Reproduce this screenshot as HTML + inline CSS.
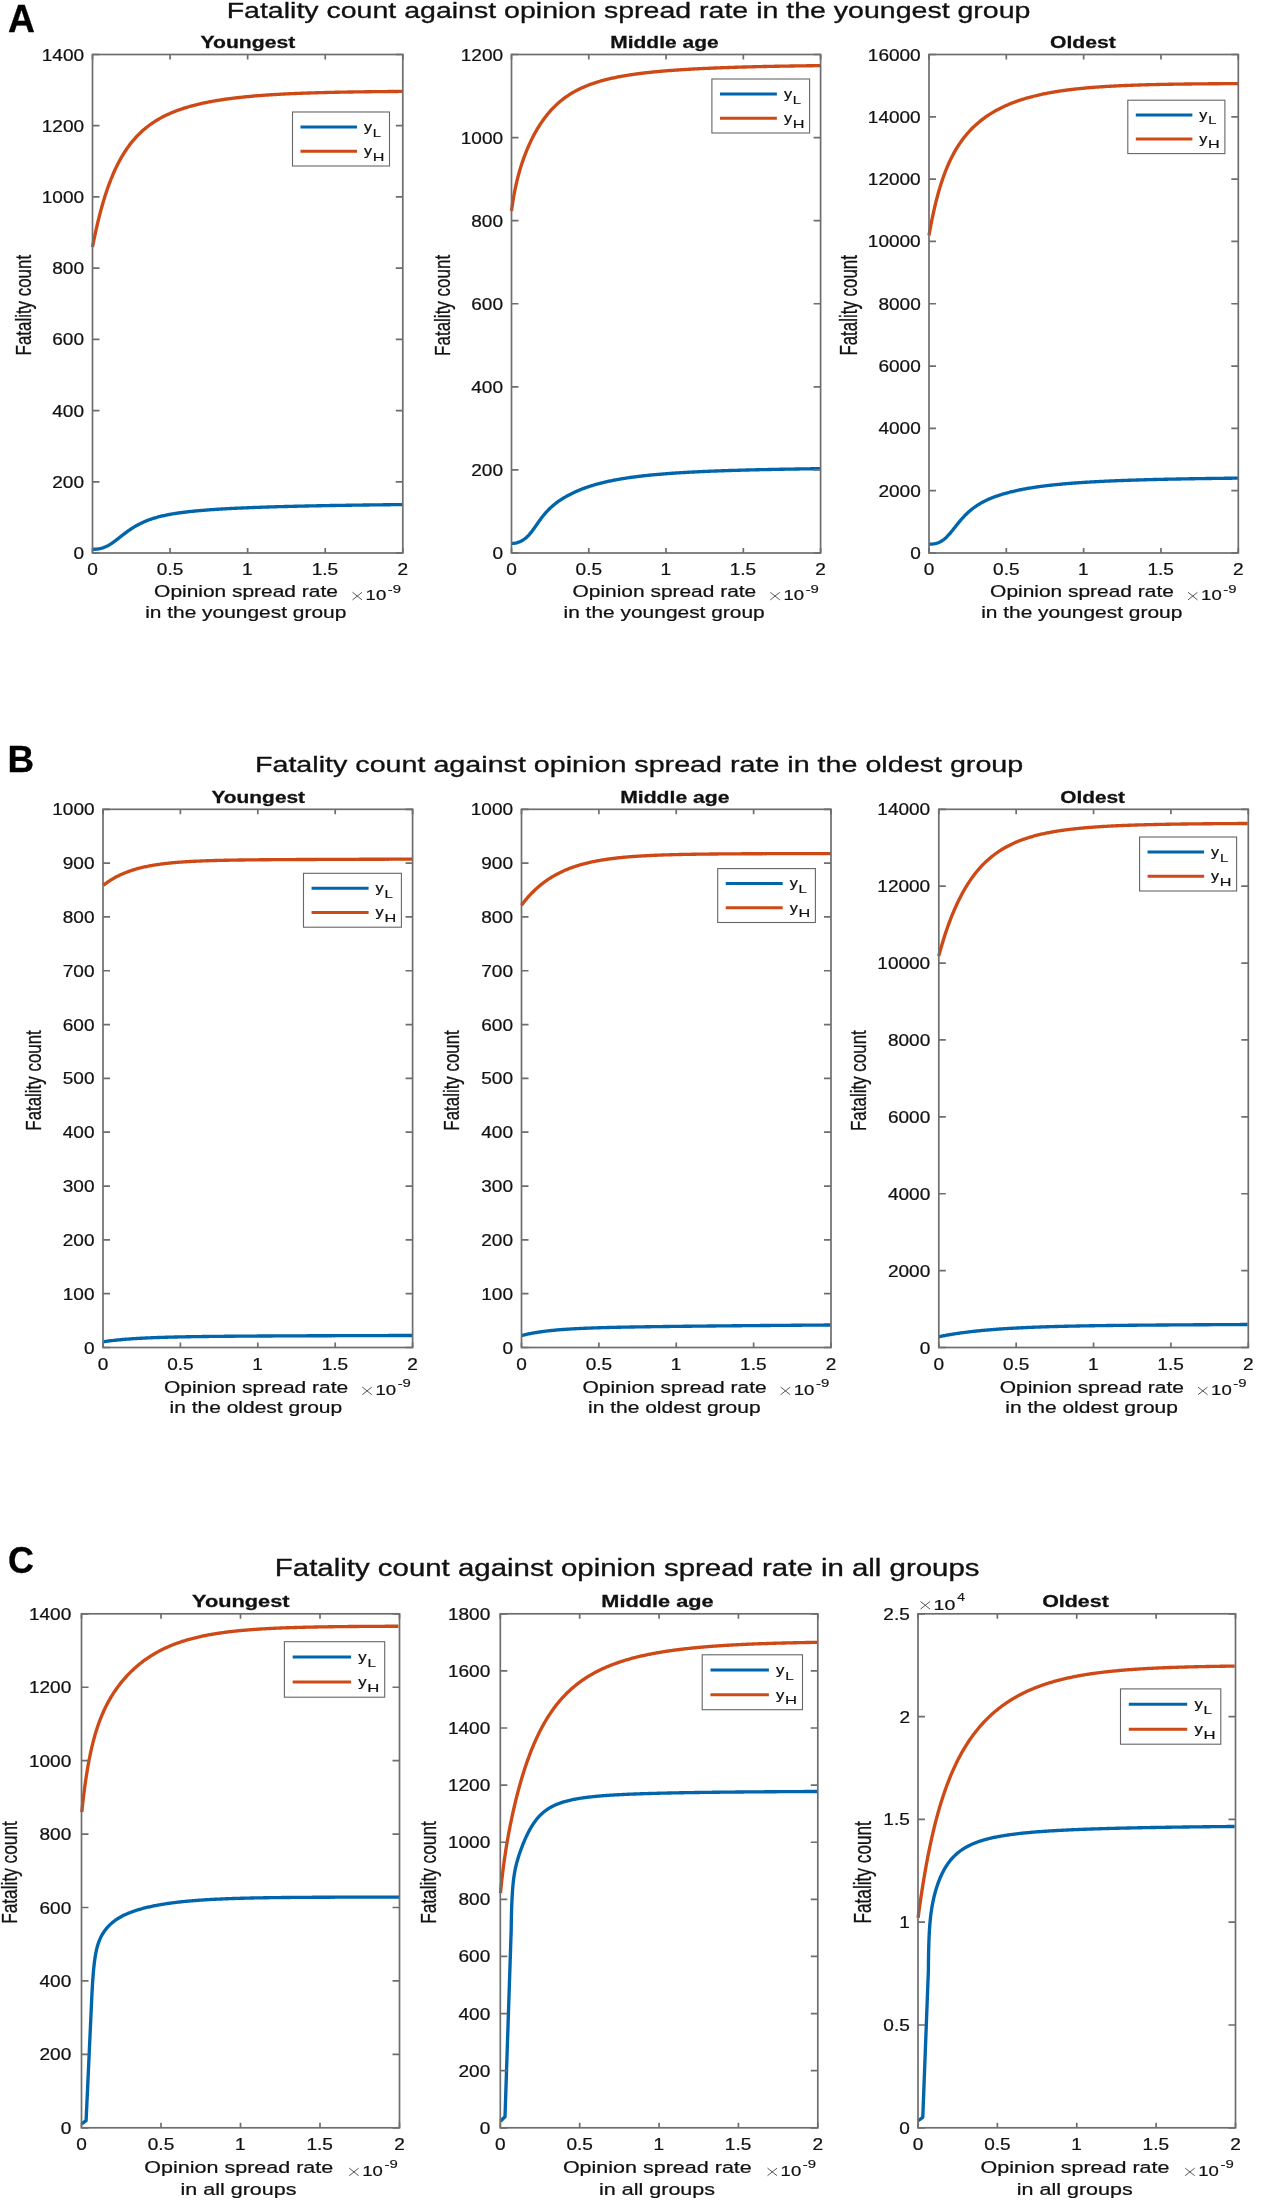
<!DOCTYPE html><html><head><meta charset="utf-8"><style>html,body{margin:0;padding:0;background:#fff;}svg{display:block;will-change:transform;}text{font-family:"Liberation Sans",sans-serif;}</style></head><body>
<svg width="1261" height="2200" viewBox="0 0 1261 2200">
<text transform="translate(8.07,32.40) scale(0.9572,1)" font-size="38.98" font-weight="bold" fill="#000" stroke="#000" stroke-width="0.34">A</text>
<text transform="translate(7.51,772.00) scale(0.9828,1)" font-size="37.53" font-weight="bold" fill="#000" stroke="#000" stroke-width="0.34">B</text>
<text transform="translate(8.06,1572.63) scale(0.9763,1)" font-size="36.75" font-weight="bold" fill="#000" stroke="#000" stroke-width="0.34">C</text>
<text transform="translate(226.65,17.60) scale(1.2574,1)" font-size="22.7" fill="#111" stroke="#111" stroke-width="0.318">Fatality count against opinion spread rate in the youngest group</text>
<text transform="translate(254.93,771.70) scale(1.2692,1)" font-size="22.6" fill="#111" stroke="#111" stroke-width="0.316">Fatality count against opinion spread rate in the oldest group</text>
<text transform="translate(274.87,1576.20) scale(1.2680,1)" font-size="23.2" fill="#111" stroke="#111" stroke-width="0.325">Fatality count against opinion spread rate in all groups</text>
<path d="M92.70,549.30 L93.70,549.28 L94.70,549.24 L95.70,549.18 L96.70,549.09 L97.70,548.97 L98.70,548.82 L99.70,548.64 L100.70,548.42 L101.70,548.16 L102.70,547.86 L103.65,547.54 L104.60,547.18 L105.55,546.78 L106.50,546.34 L107.40,545.90 L108.30,545.42 L109.20,544.91 L110.10,544.37 L110.95,543.84 L111.80,543.28 L112.65,542.71 L113.50,542.11 L114.35,541.50 L115.20,540.87 L116.00,540.27 L116.80,539.66 L117.60,539.05 L118.40,538.42 L119.20,537.80 L120.00,537.17 L120.80,536.54 L121.60,535.91 L122.40,535.29 L123.20,534.67 L124.20,533.89 L125.20,533.13 L126.20,532.38 L127.20,531.65 L128.20,530.93 L129.20,530.22 L130.20,529.53 L131.20,528.86 L132.20,528.20 L133.20,527.57 L134.20,526.95 L135.20,526.35 L136.20,525.77 L137.20,525.21 L138.20,524.66 L139.20,524.14 L140.20,523.63 L141.20,523.14 L142.20,522.66 L143.20,522.21 L144.20,521.76 L145.20,521.34 L146.20,520.92 L147.20,520.53 L148.20,520.14 L149.20,519.77 L150.20,519.42 L151.20,519.07 L152.20,518.74 L153.20,518.42 L154.20,518.11 L155.20,517.81 L156.20,517.52 L157.20,517.24 L158.20,516.97 L159.20,516.71 L160.20,516.46 L161.20,516.21 L162.20,515.97 L163.20,515.75 L164.20,515.52 L165.20,515.31 L166.20,515.10 L167.20,514.90 L168.20,514.70 L169.20,514.51 L170.20,514.33 L171.20,514.15 L172.20,513.97 L173.20,513.80 L174.20,513.64 L175.20,513.48 L176.20,513.32 L177.20,513.17 L178.20,513.03 L179.20,512.88 L180.20,512.74 L181.20,512.61 L182.20,512.47 L183.20,512.34 L184.20,512.22 L185.20,512.09 L186.20,511.97 L187.20,511.86 L188.20,511.74 L189.20,511.63 L190.20,511.52 L191.20,511.41 L192.20,511.31 L193.20,511.21 L194.20,511.11 L195.20,511.01 L196.20,510.91 L197.20,510.82 L198.20,510.73 L199.20,510.64 L200.20,510.55 L201.20,510.46 L202.20,510.38 L203.20,510.30 L204.20,510.22 L205.20,510.14 L206.20,510.06 L207.20,509.98 L208.20,509.91 L209.20,509.83 L210.20,509.76 L211.20,509.69 L212.20,509.62 L213.20,509.55 L214.20,509.48 L215.20,509.41 L216.20,509.35 L217.20,509.29 L218.20,509.22 L219.20,509.16 L220.20,509.10 L221.20,509.04 L222.20,508.98 L223.20,508.92 L224.20,508.86 L225.20,508.81 L226.20,508.75 L227.20,508.70 L228.20,508.64 L229.20,508.59 L230.20,508.54 L231.20,508.49 L232.20,508.44 L233.20,508.39 L234.20,508.34 L235.20,508.29 L236.20,508.24 L237.20,508.19 L238.20,508.15 L239.20,508.10 L240.20,508.06 L241.20,508.01 L242.20,507.97 L243.20,507.92 L244.20,507.88 L245.20,507.84 L246.20,507.80 L247.20,507.76 L248.20,507.72 L249.20,507.68 L250.20,507.64 L251.20,507.60 L252.20,507.56 L253.20,507.52 L254.20,507.48 L255.20,507.45 L256.20,507.41 L257.20,507.37 L258.20,507.34 L259.20,507.30 L260.20,507.27 L261.20,507.23 L262.20,507.20 L263.20,507.16 L264.20,507.13 L265.20,507.10 L266.20,507.06 L267.20,507.03 L268.20,507.00 L269.20,506.97 L270.20,506.94 L271.20,506.91 L272.20,506.88 L273.20,506.85 L274.20,506.82 L275.20,506.79 L276.20,506.76 L277.20,506.73 L278.20,506.70 L279.20,506.67 L280.20,506.64 L281.20,506.62 L282.20,506.59 L283.20,506.56 L284.20,506.53 L285.20,506.51 L286.20,506.48 L287.20,506.46 L288.20,506.43 L289.20,506.40 L290.20,506.38 L291.20,506.35 L292.20,506.33 L293.20,506.31 L294.20,506.28 L295.20,506.26 L296.20,506.23 L297.20,506.21 L298.20,506.19 L299.20,506.16 L300.20,506.14 L301.20,506.12 L302.20,506.10 L303.20,506.07 L304.20,506.05 L305.20,506.03 L306.20,506.01 L307.20,505.99 L308.20,505.97 L309.20,505.94 L310.20,505.92 L311.20,505.90 L312.20,505.88 L313.20,505.86 L314.20,505.84 L315.20,505.82 L316.20,505.80 L317.20,505.78 L318.20,505.76 L319.20,505.74 L320.20,505.73 L321.20,505.71 L322.20,505.69 L323.20,505.67 L324.20,505.65 L325.20,505.63 L326.20,505.61 L327.20,505.60 L328.20,505.58 L329.20,505.56 L330.20,505.54 L331.20,505.53 L332.20,505.51 L333.20,505.49 L334.20,505.48 L335.20,505.46 L336.20,505.44 L337.20,505.43 L338.20,505.41 L339.20,505.39 L340.20,505.38 L341.20,505.36 L342.20,505.35 L343.20,505.33 L344.20,505.31 L345.20,505.30 L346.20,505.28 L347.20,505.27 L348.20,505.25 L349.20,505.24 L350.20,505.22 L351.20,505.21 L352.20,505.19 L353.20,505.18 L354.20,505.17 L355.20,505.15 L356.20,505.14 L357.20,505.12 L358.20,505.11 L359.20,505.10 L360.20,505.08 L361.20,505.07 L362.20,505.05 L363.20,505.04 L364.20,505.03 L365.20,505.01 L366.20,505.00 L367.20,504.99 L368.20,504.98 L369.20,504.96 L370.20,504.95 L371.20,504.94 L372.20,504.92 L373.20,504.91 L374.20,504.90 L375.20,504.89 L376.20,504.88 L377.20,504.86 L378.20,504.85 L379.20,504.84 L380.20,504.83 L381.20,504.82 L382.20,504.80 L383.20,504.79 L384.20,504.78 L385.20,504.77 L386.20,504.76 L387.20,504.75 L388.20,504.74 L389.20,504.72 L390.20,504.71 L391.20,504.70 L392.20,504.69 L393.20,504.68 L394.20,504.67 L395.20,504.66 L396.20,504.65 L397.20,504.64 L398.20,504.63 L399.20,504.62 L400.20,504.61 L401.20,504.60 L402.20,504.59 L402.60,504.58" fill="none" stroke="#0065AB" stroke-width="3.35" stroke-linejoin="round" stroke-linecap="butt"/>
<path d="M92.50,247.01 L92.70,245.98 L92.90,244.96 L93.10,243.95 L93.30,242.94 L93.50,241.95 L93.70,240.96 L93.90,239.98 L94.15,238.77 L94.40,237.57 L94.65,236.38 L94.90,235.20 L95.15,234.03 L95.40,232.88 L95.65,231.74 L95.90,230.61 L96.15,229.49 L96.40,228.38 L96.65,227.28 L96.90,226.19 L97.15,225.12 L97.40,224.05 L97.65,223.00 L97.90,221.95 L98.15,220.92 L98.40,219.89 L98.65,218.88 L98.90,217.88 L99.15,216.88 L99.40,215.90 L99.65,214.92 L99.95,213.77 L100.25,212.62 L100.55,211.49 L100.85,210.37 L101.15,209.27 L101.45,208.18 L101.75,207.10 L102.05,206.04 L102.35,204.98 L102.65,203.94 L102.95,202.91 L103.25,201.89 L103.55,200.89 L103.85,199.89 L104.15,198.91 L104.45,197.94 L104.75,196.98 L105.10,195.87 L105.45,194.78 L105.80,193.70 L106.15,192.64 L106.50,191.59 L106.85,190.55 L107.20,189.53 L107.55,188.52 L107.90,187.52 L108.25,186.54 L108.60,185.57 L108.95,184.62 L109.30,183.67 L109.70,182.61 L110.10,181.56 L110.50,180.52 L110.90,179.50 L111.30,178.50 L111.70,177.51 L112.10,176.54 L112.50,175.57 L112.90,174.63 L113.30,173.69 L113.70,172.77 L114.15,171.76 L114.60,170.75 L115.05,169.77 L115.50,168.80 L115.95,167.84 L116.40,166.90 L116.85,165.97 L117.30,165.06 L117.75,164.17 L118.25,163.19 L118.75,162.23 L119.25,161.28 L119.75,160.35 L120.25,159.44 L120.75,158.54 L121.25,157.66 L121.75,156.79 L122.30,155.85 L123.00,154.68 L124.00,153.06 L125.00,151.49 L126.00,149.98 L127.00,148.51 L128.00,147.09 L129.00,145.71 L130.00,144.38 L131.00,143.09 L132.00,141.85 L133.00,140.64 L134.00,139.46 L135.00,138.33 L136.00,137.23 L137.00,136.16 L138.00,135.12 L139.00,134.11 L140.00,133.14 L141.00,132.19 L142.00,131.27 L143.00,130.37 L144.00,129.50 L145.00,128.66 L146.00,127.84 L147.00,127.04 L148.00,126.26 L149.00,125.51 L150.00,124.77 L151.00,124.06 L152.00,123.36 L153.00,122.69 L154.00,122.03 L155.00,121.38 L156.00,120.76 L157.00,120.15 L158.00,119.55 L159.00,118.98 L160.00,118.41 L161.00,117.86 L162.00,117.32 L163.00,116.80 L164.00,116.29 L165.00,115.79 L166.00,115.30 L167.00,114.83 L168.00,114.36 L169.00,113.91 L170.00,113.47 L171.00,113.03 L172.00,112.61 L173.00,112.20 L174.00,111.80 L175.00,111.40 L176.00,111.01 L177.00,110.64 L178.00,110.27 L179.00,109.91 L180.00,109.56 L181.00,109.21 L182.00,108.87 L183.00,108.54 L184.00,108.22 L185.00,107.90 L186.00,107.59 L187.00,107.29 L188.00,106.99 L189.00,106.70 L190.00,106.41 L191.00,106.14 L192.00,105.86 L193.00,105.59 L194.00,105.33 L195.00,105.07 L196.00,104.82 L197.00,104.57 L198.00,104.33 L199.00,104.09 L200.00,103.86 L201.00,103.63 L202.00,103.41 L203.00,103.19 L204.00,102.97 L205.00,102.76 L206.00,102.56 L207.00,102.35 L208.00,102.15 L209.00,101.96 L210.00,101.77 L211.00,101.58 L212.00,101.39 L213.00,101.21 L214.00,101.04 L215.00,100.86 L216.00,100.69 L217.00,100.52 L218.00,100.36 L219.00,100.19 L220.00,100.04 L221.00,99.88 L222.00,99.73 L223.00,99.58 L224.00,99.43 L225.00,99.28 L226.00,99.14 L227.00,99.00 L228.00,98.86 L229.00,98.73 L230.00,98.60 L231.00,98.47 L232.00,98.34 L233.00,98.21 L234.00,98.09 L235.00,97.97 L236.00,97.85 L237.00,97.73 L238.00,97.62 L239.00,97.51 L240.00,97.40 L241.00,97.29 L242.00,97.18 L243.00,97.08 L244.00,96.97 L245.00,96.87 L246.00,96.77 L247.00,96.67 L248.00,96.58 L249.00,96.48 L250.00,96.39 L251.00,96.30 L252.00,96.21 L253.00,96.12 L254.00,96.04 L255.00,95.95 L256.00,95.87 L257.00,95.79 L258.00,95.70 L259.00,95.63 L260.00,95.55 L261.00,95.47 L262.00,95.40 L263.00,95.32 L264.00,95.25 L265.00,95.18 L266.00,95.11 L267.00,95.04 L268.00,94.97 L269.00,94.90 L270.00,94.84 L271.00,94.77 L272.00,94.71 L273.00,94.65 L274.00,94.59 L275.00,94.53 L276.00,94.47 L277.00,94.41 L278.00,94.35 L279.00,94.30 L280.00,94.24 L281.00,94.19 L282.00,94.13 L283.00,94.08 L284.00,94.03 L285.00,93.98 L286.00,93.93 L287.00,93.88 L288.00,93.83 L289.00,93.79 L290.00,93.74 L291.00,93.69 L292.00,93.65 L293.00,93.60 L294.00,93.56 L295.00,93.52 L296.00,93.48 L297.00,93.43 L298.00,93.39 L299.00,93.35 L300.00,93.32 L301.00,93.28 L302.00,93.24 L303.00,93.20 L304.00,93.17 L305.00,93.13 L306.00,93.09 L307.00,93.06 L308.00,93.02 L309.00,92.99 L310.00,92.96 L311.00,92.93 L312.00,92.89 L313.00,92.86 L314.00,92.83 L315.00,92.80 L316.00,92.77 L317.00,92.74 L318.00,92.71 L319.00,92.68 L320.00,92.66 L321.00,92.63 L322.00,92.60 L323.00,92.58 L324.00,92.55 L325.00,92.52 L326.00,92.50 L327.00,92.47 L328.00,92.45 L329.00,92.43 L330.00,92.40 L331.00,92.38 L332.00,92.36 L333.00,92.33 L334.00,92.31 L335.00,92.29 L336.00,92.27 L337.00,92.25 L338.00,92.23 L339.00,92.21 L340.00,92.19 L341.00,92.17 L342.00,92.15 L343.00,92.13 L344.00,92.11 L345.00,92.09 L346.00,92.07 L347.00,92.06 L348.00,92.04 L349.00,92.02 L350.00,92.01 L351.00,91.99 L352.00,91.97 L353.00,91.96 L354.00,91.94 L355.00,91.93 L356.00,91.91 L357.00,91.90 L358.00,91.88 L359.00,91.87 L360.00,91.85 L361.00,91.84 L362.00,91.83 L363.00,91.81 L364.00,91.80 L365.00,91.79 L366.00,91.77 L367.00,91.76 L368.00,91.75 L369.00,91.74 L370.00,91.72 L371.00,91.71 L372.00,91.70 L373.00,91.69 L374.00,91.68 L375.00,91.67 L376.00,91.66 L377.00,91.65 L378.00,91.63 L379.00,91.62 L380.00,91.61 L381.00,91.60 L382.00,91.59 L383.00,91.59 L384.00,91.58 L385.00,91.57 L386.00,91.56 L387.00,91.55 L388.00,91.54 L389.00,91.53 L390.00,91.52 L391.00,91.51 L392.00,91.51 L393.00,91.50 L394.00,91.49 L395.00,91.48 L396.00,91.47 L397.00,91.47 L398.00,91.46 L399.00,91.45 L400.00,91.44 L401.00,91.44 L402.00,91.43 L402.60,91.43" fill="none" stroke="#CD4A16" stroke-width="3.35" stroke-linejoin="round" stroke-linecap="butt"/>
<rect x="92.5" y="54.5" width="310.30" height="498.50" fill="none" stroke="#6e6e6e" stroke-width="1.7"/>
<text transform="translate(73.45,559.00) scale(1.2200,1)" font-size="15.6" fill="#111" stroke="#111" stroke-width="0.218">0</text>
<text transform="translate(52.28,487.79) scale(1.2200,1)" font-size="15.6" fill="#111" stroke="#111" stroke-width="0.218">200</text>
<text transform="translate(52.28,416.57) scale(1.2200,1)" font-size="15.6" fill="#111" stroke="#111" stroke-width="0.218">400</text>
<text transform="translate(52.28,345.36) scale(1.2200,1)" font-size="15.6" fill="#111" stroke="#111" stroke-width="0.218">600</text>
<text transform="translate(52.28,274.14) scale(1.2200,1)" font-size="15.6" fill="#111" stroke="#111" stroke-width="0.218">800</text>
<text transform="translate(41.72,202.93) scale(1.2200,1)" font-size="15.6" fill="#111" stroke="#111" stroke-width="0.218">1000</text>
<text transform="translate(41.72,131.71) scale(1.2200,1)" font-size="15.6" fill="#111" stroke="#111" stroke-width="0.218">1200</text>
<text transform="translate(41.72,60.50) scale(1.2200,1)" font-size="15.6" fill="#111" stroke="#111" stroke-width="0.218">1400</text>
<text transform="translate(87.19,575.40) scale(1.2200,1)" font-size="15.6" fill="#111" stroke="#111" stroke-width="0.218">0</text>
<text transform="translate(156.85,575.40) scale(1.2200,1)" font-size="15.6" fill="#111" stroke="#111" stroke-width="0.218">0.5</text>
<text transform="translate(242.11,575.40) scale(1.2200,1)" font-size="15.6" fill="#111" stroke="#111" stroke-width="0.218">1</text>
<text transform="translate(311.66,575.40) scale(1.2200,1)" font-size="15.6" fill="#111" stroke="#111" stroke-width="0.218">1.5</text>
<text transform="translate(397.52,575.40) scale(1.2200,1)" font-size="15.6" fill="#111" stroke="#111" stroke-width="0.218">2</text>
<path d="M92.5,553.00h7M402.8,553.00h-7M92.5,481.79h7M402.8,481.79h-7M92.5,410.57h7M402.8,410.57h-7M92.5,339.36h7M402.8,339.36h-7M92.5,268.14h7M402.8,268.14h-7M92.5,196.93h7M402.8,196.93h-7M92.5,125.71h7M402.8,125.71h-7M92.5,54.50h7M402.8,54.50h-7M92.50,553v-5M92.50,54.5v5M170.07,553v-5M170.07,54.5v5M247.65,553v-5M247.65,54.5v5M325.23,553v-5M325.23,54.5v5M402.80,553v-5M402.80,54.5v5" stroke="#6e6e6e" stroke-width="1.7" fill="none"/>
<text transform="translate(200.43,48.00) scale(1.3230,1)" font-size="16" font-weight="bold" fill="#111" stroke="#111" stroke-width="0.256">Youngest</text>
<text transform="translate(31.00,355.39) rotate(-90) scale(1.0563,1.4081)" font-size="16" fill="#111" stroke="#111" stroke-width="0.224">Fatality count</text>
<text transform="translate(154.11,597.40) scale(1.2838,1)" font-size="16.3" fill="#111" stroke="#111" stroke-width="0.228">Opinion spread rate</text>
<text transform="translate(145.13,617.80) scale(1.2838,1)" font-size="16.3" fill="#111" stroke="#111" stroke-width="0.228">in the youngest group</text>
<path d="M352.50,592.30l9.5,7.6M362.00,592.30l-9.5,7.6" stroke="#444" stroke-width="0.9" fill="none"/>
<text transform="translate(365.61,600.00) scale(1.2364,1)" font-size="15" fill="#111" stroke="#111" stroke-width="0.21">10</text>
<text transform="translate(387.83,592.50) scale(1.2975,1)" font-size="11.5" fill="#111" stroke="#111" stroke-width="0.161">-9</text>
<rect x="292.5" y="112" width="97" height="54" fill="#fff" stroke="#666" stroke-width="1.1"/>
<path d="M300.50,127.00h56.50" stroke="#0065AB" stroke-width="3"/>
<path d="M300.50,151.30h56.50" stroke="#CD4A16" stroke-width="3"/>
<text transform="translate(363.96,130.70) scale(1.1884,1)" font-size="13.6" fill="#111" stroke="#111" stroke-width="0.19">y</text>
<text transform="translate(372.78,136.50) scale(1.2735,1)" font-size="11.6" fill="#111" stroke="#111" stroke-width="0.162">L</text>
<text transform="translate(363.96,155.20) scale(1.1884,1)" font-size="13.6" fill="#111" stroke="#111" stroke-width="0.19">y</text>
<text transform="translate(372.67,160.80) scale(1.3917,1)" font-size="11.6" fill="#111" stroke="#111" stroke-width="0.162">H</text>
<path d="M511.50,543.48 L512.50,543.44 L513.50,543.36 L514.50,543.22 L515.50,543.03 L516.50,542.80 L517.50,542.52 L518.45,542.20 L519.40,541.84 L520.35,541.43 L521.30,540.97 L522.20,540.48 L523.10,539.94 L523.95,539.38 L524.80,538.76 L525.60,538.13 L526.40,537.45 L527.15,536.76 L527.90,536.02 L528.60,535.29 L529.30,534.52 L530.00,533.71 L530.65,532.93 L531.30,532.12 L531.95,531.28 L532.60,530.41 L533.20,529.59 L533.80,528.76 L534.40,527.91 L535.00,527.06 L535.60,526.20 L536.20,525.33 L536.80,524.47 L537.40,523.60 L538.00,522.74 L538.60,521.89 L539.20,521.05 L539.80,520.21 L540.40,519.39 L541.00,518.58 L542.00,517.26 L543.00,515.99 L544.00,514.76 L545.00,513.57 L546.00,512.43 L547.00,511.34 L548.00,510.29 L549.00,509.28 L550.00,508.31 L551.00,507.37 L552.00,506.47 L553.00,505.61 L554.00,504.77 L555.00,503.96 L556.00,503.18 L557.00,502.43 L558.00,501.70 L559.00,500.99 L560.00,500.30 L561.00,499.64 L562.00,498.99 L563.00,498.36 L564.00,497.75 L565.00,497.16 L566.00,496.58 L567.00,496.02 L568.00,495.47 L569.00,494.93 L570.00,494.41 L571.00,493.90 L572.00,493.41 L573.00,492.93 L574.00,492.45 L575.00,491.99 L576.00,491.54 L577.00,491.11 L578.00,490.68 L579.00,490.26 L580.00,489.85 L581.00,489.45 L582.00,489.06 L583.00,488.68 L584.00,488.31 L585.00,487.94 L586.00,487.59 L587.00,487.24 L588.00,486.90 L589.00,486.57 L590.00,486.24 L591.00,485.92 L592.00,485.61 L593.00,485.31 L594.00,485.01 L595.00,484.72 L596.00,484.43 L597.00,484.15 L598.00,483.88 L599.00,483.61 L600.00,483.35 L601.00,483.09 L602.00,482.84 L603.00,482.59 L604.00,482.35 L605.00,482.12 L606.00,481.89 L607.00,481.66 L608.00,481.44 L609.00,481.22 L610.00,481.01 L611.00,480.80 L612.00,480.60 L613.00,480.40 L614.00,480.20 L615.00,480.01 L616.00,479.82 L617.00,479.64 L618.00,479.46 L619.00,479.28 L620.00,479.10 L621.00,478.93 L622.00,478.76 L623.00,478.60 L624.00,478.44 L625.00,478.28 L626.00,478.13 L627.00,477.97 L628.00,477.82 L629.00,477.68 L630.00,477.53 L631.00,477.39 L632.00,477.25 L633.00,477.12 L634.00,476.98 L635.00,476.85 L636.00,476.72 L637.00,476.60 L638.00,476.47 L639.00,476.35 L640.00,476.23 L641.00,476.11 L642.00,476.00 L643.00,475.88 L644.00,475.77 L645.00,475.66 L646.00,475.55 L647.00,475.45 L648.00,475.34 L649.00,475.24 L650.00,475.14 L651.00,475.04 L652.00,474.94 L653.00,474.85 L654.00,474.75 L655.00,474.66 L656.00,474.57 L657.00,474.48 L658.00,474.39 L659.00,474.30 L660.00,474.22 L661.00,474.13 L662.00,474.05 L663.00,473.97 L664.00,473.89 L665.00,473.81 L666.00,473.73 L667.00,473.65 L668.00,473.58 L669.00,473.50 L670.00,473.43 L671.00,473.36 L672.00,473.29 L673.00,473.22 L674.00,473.15 L675.00,473.08 L676.00,473.02 L677.00,472.95 L678.00,472.89 L679.00,472.82 L680.00,472.76 L681.00,472.70 L682.00,472.64 L683.00,472.58 L684.00,472.52 L685.00,472.46 L686.00,472.40 L687.00,472.35 L688.00,472.29 L689.00,472.23 L690.00,472.18 L691.00,472.13 L692.00,472.07 L693.00,472.02 L694.00,471.97 L695.00,471.92 L696.00,471.87 L697.00,471.82 L698.00,471.77 L699.00,471.72 L700.00,471.68 L701.00,471.63 L702.00,471.58 L703.00,471.54 L704.00,471.49 L705.00,471.45 L706.00,471.41 L707.00,471.36 L708.00,471.32 L709.00,471.28 L710.00,471.24 L711.00,471.20 L712.00,471.16 L713.00,471.12 L714.00,471.08 L715.00,471.04 L716.00,471.00 L717.00,470.96 L718.00,470.92 L719.00,470.89 L720.00,470.85 L721.00,470.82 L722.00,470.78 L723.00,470.74 L724.00,470.71 L725.00,470.68 L726.00,470.64 L727.00,470.61 L728.00,470.58 L729.00,470.54 L730.00,470.51 L731.00,470.48 L732.00,470.45 L733.00,470.42 L734.00,470.39 L735.00,470.36 L736.00,470.33 L737.00,470.30 L738.00,470.27 L739.00,470.24 L740.00,470.21 L741.00,470.18 L742.00,470.15 L743.00,470.12 L744.00,470.10 L745.00,470.07 L746.00,470.04 L747.00,470.02 L748.00,469.99 L749.00,469.97 L750.00,469.94 L751.00,469.91 L752.00,469.89 L753.00,469.86 L754.00,469.84 L755.00,469.82 L756.00,469.79 L757.00,469.77 L758.00,469.75 L759.00,469.72 L760.00,469.70 L761.00,469.68 L762.00,469.65 L763.00,469.63 L764.00,469.61 L765.00,469.59 L766.00,469.57 L767.00,469.55 L768.00,469.52 L769.00,469.50 L770.00,469.48 L771.00,469.46 L772.00,469.44 L773.00,469.42 L774.00,469.40 L775.00,469.38 L776.00,469.36 L777.00,469.34 L778.00,469.33 L779.00,469.31 L780.00,469.29 L781.00,469.27 L782.00,469.25 L783.00,469.23 L784.00,469.22 L785.00,469.20 L786.00,469.18 L787.00,469.16 L788.00,469.15 L789.00,469.13 L790.00,469.11 L791.00,469.10 L792.00,469.08 L793.00,469.06 L794.00,469.05 L795.00,469.03 L796.00,469.01 L797.00,469.00 L798.00,468.98 L799.00,468.97 L800.00,468.95 L801.00,468.94 L802.00,468.92 L803.00,468.91 L804.00,468.89 L805.00,468.88 L806.00,468.86 L807.00,468.85 L808.00,468.84 L809.00,468.82 L810.00,468.81 L811.00,468.79 L812.00,468.78 L813.00,468.77 L814.00,468.75 L815.00,468.74 L816.00,468.73 L817.00,468.71 L818.00,468.70 L819.00,468.69 L820.00,468.67 L820.40,468.67" fill="none" stroke="#0065AB" stroke-width="3.35" stroke-linejoin="round" stroke-linecap="butt"/>
<path d="M511.50,211.02 L511.65,209.91 L511.80,208.83 L511.95,207.76 L512.10,206.71 L512.25,205.69 L512.40,204.68 L512.60,203.37 L512.80,202.09 L513.00,200.84 L513.20,199.62 L513.40,198.43 L513.60,197.27 L513.80,196.13 L514.00,195.01 L514.20,193.93 L514.40,192.86 L514.60,191.81 L514.80,190.79 L515.00,189.79 L515.20,188.81 L515.45,187.60 L515.70,186.43 L515.95,185.28 L516.20,184.16 L516.45,183.06 L516.70,181.98 L516.95,180.93 L517.20,179.90 L517.45,178.88 L517.70,177.89 L517.95,176.92 L518.25,175.77 L518.55,174.65 L518.85,173.55 L519.15,172.47 L519.45,171.42 L519.75,170.38 L520.05,169.36 L520.35,168.36 L520.65,167.38 L520.95,166.42 L521.30,165.31 L521.65,164.23 L522.00,163.17 L522.35,162.12 L522.70,161.09 L523.05,160.08 L523.40,159.09 L523.75,158.11 L524.10,157.15 L524.45,156.21 L524.85,155.14 L525.25,154.10 L525.65,153.07 L526.05,152.06 L526.45,151.07 L526.85,150.09 L527.25,149.13 L527.65,148.18 L528.05,147.24 L528.45,146.33 L528.90,145.31 L529.35,144.31 L529.80,143.32 L530.25,142.35 L530.70,141.40 L531.15,140.46 L531.60,139.53 L532.05,138.62 L532.50,137.73 L533.00,136.75 L533.50,135.79 L534.00,134.84 L534.50,133.91 L535.00,132.99 L535.50,132.09 L536.00,131.21 L536.50,130.33 L537.05,129.39 L537.60,128.47 L538.15,127.56 L538.70,126.66 L539.25,125.79 L539.80,124.92 L540.35,124.08 L540.95,123.17 L542.00,121.62 L543.00,120.19 L544.00,118.81 L545.00,117.47 L546.00,116.17 L547.00,114.91 L548.00,113.69 L549.00,112.50 L550.00,111.35 L551.00,110.24 L552.00,109.16 L553.00,108.11 L554.00,107.09 L555.00,106.10 L556.00,105.14 L557.00,104.21 L558.00,103.31 L559.00,102.43 L560.00,101.58 L561.00,100.75 L562.00,99.95 L563.00,99.17 L564.00,98.41 L565.00,97.67 L566.00,96.95 L567.00,96.26 L568.00,95.58 L569.00,94.92 L570.00,94.28 L571.00,93.66 L572.00,93.06 L573.00,92.47 L574.00,91.90 L575.00,91.34 L576.00,90.80 L577.00,90.27 L578.00,89.76 L579.00,89.26 L580.00,88.77 L581.00,88.30 L582.00,87.83 L583.00,87.38 L584.00,86.95 L585.00,86.52 L586.00,86.10 L587.00,85.70 L588.00,85.30 L589.00,84.92 L590.00,84.54 L591.00,84.18 L592.00,83.82 L593.00,83.47 L594.00,83.13 L595.00,82.80 L596.00,82.48 L597.00,82.16 L598.00,81.85 L599.00,81.55 L600.00,81.26 L601.00,80.97 L602.00,80.69 L603.00,80.41 L604.00,80.15 L605.00,79.88 L606.00,79.63 L607.00,79.38 L608.00,79.13 L609.00,78.89 L610.00,78.66 L611.00,78.43 L612.00,78.21 L613.00,77.99 L614.00,77.78 L615.00,77.57 L616.00,77.36 L617.00,77.16 L618.00,76.96 L619.00,76.77 L620.00,76.58 L621.00,76.40 L622.00,76.22 L623.00,76.04 L624.00,75.86 L625.00,75.69 L626.00,75.53 L627.00,75.36 L628.00,75.20 L629.00,75.05 L630.00,74.89 L631.00,74.74 L632.00,74.59 L633.00,74.45 L634.00,74.30 L635.00,74.16 L636.00,74.03 L637.00,73.89 L638.00,73.76 L639.00,73.63 L640.00,73.50 L641.00,73.38 L642.00,73.25 L643.00,73.13 L644.00,73.01 L645.00,72.90 L646.00,72.78 L647.00,72.67 L648.00,72.56 L649.00,72.45 L650.00,72.34 L651.00,72.24 L652.00,72.13 L653.00,72.03 L654.00,71.93 L655.00,71.83 L656.00,71.74 L657.00,71.64 L658.00,71.55 L659.00,71.45 L660.00,71.36 L661.00,71.28 L662.00,71.19 L663.00,71.10 L664.00,71.02 L665.00,70.93 L666.00,70.85 L667.00,70.77 L668.00,70.69 L669.00,70.61 L670.00,70.53 L671.00,70.46 L672.00,70.38 L673.00,70.31 L674.00,70.24 L675.00,70.16 L676.00,70.09 L677.00,70.02 L678.00,69.96 L679.00,69.89 L680.00,69.82 L681.00,69.76 L682.00,69.69 L683.00,69.63 L684.00,69.56 L685.00,69.50 L686.00,69.44 L687.00,69.38 L688.00,69.32 L689.00,69.26 L690.00,69.21 L691.00,69.15 L692.00,69.09 L693.00,69.04 L694.00,68.98 L695.00,68.93 L696.00,68.88 L697.00,68.83 L698.00,68.77 L699.00,68.72 L700.00,68.67 L701.00,68.62 L702.00,68.57 L703.00,68.53 L704.00,68.48 L705.00,68.43 L706.00,68.39 L707.00,68.34 L708.00,68.30 L709.00,68.25 L710.00,68.21 L711.00,68.16 L712.00,68.12 L713.00,68.08 L714.00,68.04 L715.00,68.00 L716.00,67.96 L717.00,67.92 L718.00,67.88 L719.00,67.84 L720.00,67.80 L721.00,67.76 L722.00,67.73 L723.00,67.69 L724.00,67.65 L725.00,67.62 L726.00,67.58 L727.00,67.55 L728.00,67.51 L729.00,67.48 L730.00,67.44 L731.00,67.41 L732.00,67.38 L733.00,67.34 L734.00,67.31 L735.00,67.28 L736.00,67.25 L737.00,67.22 L738.00,67.19 L739.00,67.16 L740.00,67.13 L741.00,67.10 L742.00,67.07 L743.00,67.04 L744.00,67.01 L745.00,66.99 L746.00,66.96 L747.00,66.93 L748.00,66.90 L749.00,66.88 L750.00,66.85 L751.00,66.83 L752.00,66.80 L753.00,66.77 L754.00,66.75 L755.00,66.73 L756.00,66.70 L757.00,66.68 L758.00,66.65 L759.00,66.63 L760.00,66.61 L761.00,66.58 L762.00,66.56 L763.00,66.54 L764.00,66.52 L765.00,66.50 L766.00,66.47 L767.00,66.45 L768.00,66.43 L769.00,66.41 L770.00,66.39 L771.00,66.37 L772.00,66.35 L773.00,66.33 L774.00,66.31 L775.00,66.29 L776.00,66.27 L777.00,66.25 L778.00,66.24 L779.00,66.22 L780.00,66.20 L781.00,66.18 L782.00,66.16 L783.00,66.15 L784.00,66.13 L785.00,66.11 L786.00,66.09 L787.00,66.08 L788.00,66.06 L789.00,66.05 L790.00,66.03 L791.00,66.01 L792.00,66.00 L793.00,65.98 L794.00,65.97 L795.00,65.95 L796.00,65.94 L797.00,65.92 L798.00,65.91 L799.00,65.89 L800.00,65.88 L801.00,65.86 L802.00,65.85 L803.00,65.84 L804.00,65.82 L805.00,65.81 L806.00,65.80 L807.00,65.78 L808.00,65.77 L809.00,65.76 L810.00,65.75 L811.00,65.73 L812.00,65.72 L813.00,65.71 L814.00,65.70 L815.00,65.69 L816.00,65.67 L817.00,65.66 L818.00,65.65 L819.00,65.64 L820.00,65.63 L820.40,65.62" fill="none" stroke="#CD4A16" stroke-width="3.35" stroke-linejoin="round" stroke-linecap="butt"/>
<rect x="511.5" y="54.5" width="309.10" height="498.50" fill="none" stroke="#6e6e6e" stroke-width="1.7"/>
<text transform="translate(492.45,559.00) scale(1.2200,1)" font-size="15.6" fill="#111" stroke="#111" stroke-width="0.218">0</text>
<text transform="translate(471.28,475.92) scale(1.2200,1)" font-size="15.6" fill="#111" stroke="#111" stroke-width="0.218">200</text>
<text transform="translate(471.28,392.83) scale(1.2200,1)" font-size="15.6" fill="#111" stroke="#111" stroke-width="0.218">400</text>
<text transform="translate(471.28,309.75) scale(1.2200,1)" font-size="15.6" fill="#111" stroke="#111" stroke-width="0.218">600</text>
<text transform="translate(471.28,226.67) scale(1.2200,1)" font-size="15.6" fill="#111" stroke="#111" stroke-width="0.218">800</text>
<text transform="translate(460.72,143.58) scale(1.2200,1)" font-size="15.6" fill="#111" stroke="#111" stroke-width="0.218">1000</text>
<text transform="translate(460.72,60.50) scale(1.2200,1)" font-size="15.6" fill="#111" stroke="#111" stroke-width="0.218">1200</text>
<text transform="translate(506.19,575.40) scale(1.2200,1)" font-size="15.6" fill="#111" stroke="#111" stroke-width="0.218">0</text>
<text transform="translate(575.55,575.40) scale(1.2200,1)" font-size="15.6" fill="#111" stroke="#111" stroke-width="0.218">0.5</text>
<text transform="translate(660.51,575.40) scale(1.2200,1)" font-size="15.6" fill="#111" stroke="#111" stroke-width="0.218">1</text>
<text transform="translate(729.76,575.40) scale(1.2200,1)" font-size="15.6" fill="#111" stroke="#111" stroke-width="0.218">1.5</text>
<text transform="translate(815.32,575.40) scale(1.2200,1)" font-size="15.6" fill="#111" stroke="#111" stroke-width="0.218">2</text>
<path d="M511.5,553.00h7M820.6,553.00h-7M511.5,469.92h7M820.6,469.92h-7M511.5,386.83h7M820.6,386.83h-7M511.5,303.75h7M820.6,303.75h-7M511.5,220.67h7M820.6,220.67h-7M511.5,137.58h7M820.6,137.58h-7M511.5,54.50h7M820.6,54.50h-7M511.50,553v-5M511.50,54.5v5M588.77,553v-5M588.77,54.5v5M666.05,553v-5M666.05,54.5v5M743.33,553v-5M743.33,54.5v5M820.60,553v-5M820.60,54.5v5" stroke="#6e6e6e" stroke-width="1.7" fill="none"/>
<text transform="translate(610.28,47.80) scale(1.3111,1)" font-size="16" font-weight="bold" fill="#111" stroke="#111" stroke-width="0.256">Middle age</text>
<text transform="translate(449.50,355.90) rotate(-90) scale(1.0627,1.4081)" font-size="16" fill="#111" stroke="#111" stroke-width="0.224">Fatality count</text>
<text transform="translate(572.51,597.40) scale(1.2838,1)" font-size="16.3" fill="#111" stroke="#111" stroke-width="0.228">Opinion spread rate</text>
<text transform="translate(563.53,617.80) scale(1.2838,1)" font-size="16.3" fill="#111" stroke="#111" stroke-width="0.228">in the youngest group</text>
<path d="M770.30,592.30l9.5,7.6M779.80,592.30l-9.5,7.6" stroke="#444" stroke-width="0.9" fill="none"/>
<text transform="translate(783.41,600.00) scale(1.2364,1)" font-size="15" fill="#111" stroke="#111" stroke-width="0.21">10</text>
<text transform="translate(805.63,592.50) scale(1.2975,1)" font-size="11.5" fill="#111" stroke="#111" stroke-width="0.161">-9</text>
<rect x="711.9" y="79" width="97.7" height="54" fill="#fff" stroke="#666" stroke-width="1.1"/>
<path d="M719.96,94.00h56.91" stroke="#0065AB" stroke-width="3"/>
<path d="M719.96,118.30h56.91" stroke="#CD4A16" stroke-width="3"/>
<text transform="translate(783.88,97.70) scale(1.1969,1)" font-size="13.6" fill="#111" stroke="#111" stroke-width="0.19">y</text>
<text transform="translate(792.76,103.50) scale(1.2827,1)" font-size="11.6" fill="#111" stroke="#111" stroke-width="0.162">L</text>
<text transform="translate(783.88,122.20) scale(1.1969,1)" font-size="13.6" fill="#111" stroke="#111" stroke-width="0.19">y</text>
<text transform="translate(792.65,127.80) scale(1.4017,1)" font-size="11.6" fill="#111" stroke="#111" stroke-width="0.162">H</text>
<path d="M929.00,544.17 L930.00,544.15 L931.00,544.11 L932.00,544.05 L933.00,543.95 L934.00,543.81 L935.00,543.63 L936.00,543.41 L937.00,543.13 L937.95,542.81 L938.90,542.44 L939.85,542.01 L940.75,541.54 L941.65,541.01 L942.50,540.45 L943.35,539.85 L944.15,539.22 L944.95,538.55 L945.70,537.88 L946.45,537.17 L947.20,536.43 L947.90,535.70 L948.60,534.94 L949.30,534.16 L950.00,533.35 L950.65,532.58 L951.30,531.80 L951.95,531.01 L952.60,530.20 L953.25,529.39 L953.90,528.57 L954.55,527.75 L955.20,526.93 L955.85,526.11 L956.50,525.29 L957.15,524.48 L957.80,523.67 L958.45,522.87 L959.50,521.59 L960.50,520.41 L961.50,519.25 L962.50,518.13 L963.50,517.03 L964.50,515.97 L965.50,514.95 L966.50,513.96 L967.50,513.01 L968.50,512.09 L969.50,511.21 L970.50,510.36 L971.50,509.54 L972.50,508.75 L973.50,507.99 L974.50,507.26 L975.50,506.56 L976.50,505.88 L977.50,505.22 L978.50,504.59 L979.50,503.98 L980.50,503.40 L981.50,502.83 L982.50,502.28 L983.50,501.75 L984.50,501.24 L985.50,500.74 L986.50,500.26 L987.50,499.79 L988.50,499.34 L989.50,498.90 L990.50,498.48 L991.50,498.06 L992.50,497.66 L993.50,497.27 L994.50,496.89 L995.50,496.52 L996.50,496.17 L997.50,495.82 L998.50,495.48 L999.50,495.14 L1000.50,494.82 L1001.50,494.51 L1002.50,494.20 L1003.50,493.90 L1004.50,493.61 L1005.50,493.32 L1006.50,493.04 L1007.50,492.77 L1008.50,492.51 L1009.50,492.25 L1010.50,491.99 L1011.50,491.75 L1012.50,491.51 L1013.50,491.27 L1014.50,491.04 L1015.50,490.81 L1016.50,490.59 L1017.50,490.37 L1018.50,490.16 L1019.50,489.96 L1020.50,489.75 L1021.50,489.55 L1022.50,489.36 L1023.50,489.17 L1024.50,488.98 L1025.50,488.80 L1026.50,488.62 L1027.50,488.45 L1028.50,488.27 L1029.50,488.11 L1030.50,487.94 L1031.50,487.78 L1032.50,487.62 L1033.50,487.47 L1034.50,487.31 L1035.50,487.16 L1036.50,487.02 L1037.50,486.87 L1038.50,486.73 L1039.50,486.60 L1040.50,486.46 L1041.50,486.33 L1042.50,486.20 L1043.50,486.07 L1044.50,485.94 L1045.50,485.82 L1046.50,485.70 L1047.50,485.58 L1048.50,485.46 L1049.50,485.35 L1050.50,485.23 L1051.50,485.12 L1052.50,485.01 L1053.50,484.91 L1054.50,484.80 L1055.50,484.70 L1056.50,484.60 L1057.50,484.50 L1058.50,484.40 L1059.50,484.30 L1060.50,484.21 L1061.50,484.12 L1062.50,484.02 L1063.50,483.94 L1064.50,483.85 L1065.50,483.76 L1066.50,483.67 L1067.50,483.59 L1068.50,483.51 L1069.50,483.43 L1070.50,483.35 L1071.50,483.27 L1072.50,483.19 L1073.50,483.11 L1074.50,483.04 L1075.50,482.97 L1076.50,482.89 L1077.50,482.82 L1078.50,482.75 L1079.50,482.68 L1080.50,482.61 L1081.50,482.55 L1082.50,482.48 L1083.50,482.42 L1084.50,482.35 L1085.50,482.29 L1086.50,482.23 L1087.50,482.16 L1088.50,482.10 L1089.50,482.05 L1090.50,481.99 L1091.50,481.93 L1092.50,481.87 L1093.50,481.82 L1094.50,481.76 L1095.50,481.71 L1096.50,481.65 L1097.50,481.60 L1098.50,481.55 L1099.50,481.50 L1100.50,481.45 L1101.50,481.40 L1102.50,481.35 L1103.50,481.30 L1104.50,481.25 L1105.50,481.20 L1106.50,481.16 L1107.50,481.11 L1108.50,481.07 L1109.50,481.02 L1110.50,480.98 L1111.50,480.94 L1112.50,480.89 L1113.50,480.85 L1114.50,480.81 L1115.50,480.77 L1116.50,480.73 L1117.50,480.69 L1118.50,480.65 L1119.50,480.61 L1120.50,480.57 L1121.50,480.53 L1122.50,480.50 L1123.50,480.46 L1124.50,480.42 L1125.50,480.39 L1126.50,480.35 L1127.50,480.32 L1128.50,480.28 L1129.50,480.25 L1130.50,480.21 L1131.50,480.18 L1132.50,480.15 L1133.50,480.12 L1134.50,480.08 L1135.50,480.05 L1136.50,480.02 L1137.50,479.99 L1138.50,479.96 L1139.50,479.93 L1140.50,479.90 L1141.50,479.87 L1142.50,479.84 L1143.50,479.81 L1144.50,479.78 L1145.50,479.76 L1146.50,479.73 L1147.50,479.70 L1148.50,479.67 L1149.50,479.65 L1150.50,479.62 L1151.50,479.60 L1152.50,479.57 L1153.50,479.54 L1154.50,479.52 L1155.50,479.49 L1156.50,479.47 L1157.50,479.45 L1158.50,479.42 L1159.50,479.40 L1160.50,479.37 L1161.50,479.35 L1162.50,479.33 L1163.50,479.31 L1164.50,479.28 L1165.50,479.26 L1166.50,479.24 L1167.50,479.22 L1168.50,479.20 L1169.50,479.17 L1170.50,479.15 L1171.50,479.13 L1172.50,479.11 L1173.50,479.09 L1174.50,479.07 L1175.50,479.05 L1176.50,479.03 L1177.50,479.01 L1178.50,478.99 L1179.50,478.97 L1180.50,478.96 L1181.50,478.94 L1182.50,478.92 L1183.50,478.90 L1184.50,478.88 L1185.50,478.86 L1186.50,478.85 L1187.50,478.83 L1188.50,478.81 L1189.50,478.79 L1190.50,478.78 L1191.50,478.76 L1192.50,478.74 L1193.50,478.73 L1194.50,478.71 L1195.50,478.69 L1196.50,478.68 L1197.50,478.66 L1198.50,478.65 L1199.50,478.63 L1200.50,478.62 L1201.50,478.60 L1202.50,478.59 L1203.50,478.57 L1204.50,478.56 L1205.50,478.54 L1206.50,478.53 L1207.50,478.51 L1208.50,478.50 L1209.50,478.48 L1210.50,478.47 L1211.50,478.46 L1212.50,478.44 L1213.50,478.43 L1214.50,478.42 L1215.50,478.40 L1216.50,478.39 L1217.50,478.38 L1218.50,478.36 L1219.50,478.35 L1220.50,478.34 L1221.50,478.33 L1222.50,478.31 L1223.50,478.30 L1224.50,478.29 L1225.50,478.28 L1226.50,478.27 L1227.50,478.25 L1228.50,478.24 L1229.50,478.23 L1230.50,478.22 L1231.50,478.21 L1232.50,478.20 L1233.50,478.18 L1234.50,478.17 L1235.50,478.16 L1236.50,478.15 L1237.50,478.14 L1238.00,478.13" fill="none" stroke="#0065AB" stroke-width="3.35" stroke-linejoin="round" stroke-linecap="butt"/>
<path d="M929.00,235.38 L929.20,234.24 L929.40,233.10 L929.60,231.98 L929.80,230.87 L930.00,229.78 L930.20,228.69 L930.40,227.62 L930.60,226.56 L930.80,225.50 L931.00,224.47 L931.20,223.44 L931.40,222.42 L931.60,221.41 L931.80,220.42 L932.00,219.43 L932.25,218.21 L932.50,217.01 L932.75,215.82 L933.00,214.65 L933.25,213.50 L933.50,212.35 L933.75,211.23 L934.00,210.12 L934.25,209.02 L934.50,207.93 L934.75,206.86 L935.00,205.81 L935.25,204.76 L935.50,203.73 L935.75,202.72 L936.00,201.71 L936.25,200.72 L936.50,199.74 L936.80,198.58 L937.10,197.44 L937.40,196.31 L937.70,195.20 L938.00,194.11 L938.30,193.03 L938.60,191.97 L938.90,190.92 L939.20,189.89 L939.50,188.87 L939.80,187.87 L940.10,186.88 L940.40,185.91 L940.70,184.95 L941.05,183.84 L941.40,182.75 L941.75,181.69 L942.10,180.63 L942.45,179.60 L942.80,178.58 L943.15,177.58 L943.50,176.59 L943.85,175.62 L944.20,174.66 L944.55,173.72 L944.95,172.66 L945.35,171.62 L945.75,170.60 L946.15,169.59 L946.55,168.60 L946.95,167.63 L947.35,166.68 L947.75,165.74 L948.15,164.81 L948.60,163.79 L949.05,162.79 L949.50,161.81 L949.95,160.84 L950.40,159.89 L950.85,158.96 L951.30,158.05 L951.75,157.15 L952.25,156.17 L952.75,155.21 L953.25,154.26 L953.75,153.34 L954.25,152.43 L954.75,151.54 L955.25,150.66 L955.80,149.72 L956.35,148.80 L956.90,147.89 L957.45,147.00 L958.00,146.13 L958.55,145.28 L959.50,143.84 L960.50,142.37 L961.50,140.96 L962.50,139.59 L963.50,138.27 L964.50,136.98 L965.50,135.74 L966.50,134.54 L967.50,133.37 L968.50,132.24 L969.50,131.14 L970.50,130.07 L971.50,129.03 L972.50,128.03 L973.50,127.05 L974.50,126.10 L975.50,125.17 L976.50,124.27 L977.50,123.39 L978.50,122.54 L979.50,121.70 L980.50,120.89 L981.50,120.10 L982.50,119.33 L983.50,118.58 L984.50,117.85 L985.50,117.13 L986.50,116.43 L987.50,115.75 L988.50,115.08 L989.50,114.43 L990.50,113.80 L991.50,113.18 L992.50,112.57 L993.50,111.98 L994.50,111.40 L995.50,110.83 L996.50,110.28 L997.50,109.74 L998.50,109.21 L999.50,108.69 L1000.50,108.19 L1001.50,107.69 L1002.50,107.20 L1003.50,106.73 L1004.50,106.27 L1005.50,105.81 L1006.50,105.37 L1007.50,104.93 L1008.50,104.50 L1009.50,104.08 L1010.50,103.68 L1011.50,103.28 L1012.50,102.88 L1013.50,102.50 L1014.50,102.12 L1015.50,101.75 L1016.50,101.39 L1017.50,101.04 L1018.50,100.69 L1019.50,100.35 L1020.50,100.02 L1021.50,99.69 L1022.50,99.37 L1023.50,99.06 L1024.50,98.75 L1025.50,98.45 L1026.50,98.16 L1027.50,97.87 L1028.50,97.59 L1029.50,97.31 L1030.50,97.04 L1031.50,96.77 L1032.50,96.51 L1033.50,96.25 L1034.50,96.00 L1035.50,95.76 L1036.50,95.52 L1037.50,95.28 L1038.50,95.05 L1039.50,94.82 L1040.50,94.60 L1041.50,94.38 L1042.50,94.17 L1043.50,93.96 L1044.50,93.75 L1045.50,93.55 L1046.50,93.35 L1047.50,93.16 L1048.50,92.97 L1049.50,92.78 L1050.50,92.60 L1051.50,92.42 L1052.50,92.24 L1053.50,92.07 L1054.50,91.90 L1055.50,91.74 L1056.50,91.57 L1057.50,91.42 L1058.50,91.26 L1059.50,91.11 L1060.50,90.96 L1061.50,90.81 L1062.50,90.67 L1063.50,90.52 L1064.50,90.38 L1065.50,90.25 L1066.50,90.12 L1067.50,89.98 L1068.50,89.86 L1069.50,89.73 L1070.50,89.61 L1071.50,89.49 L1072.50,89.37 L1073.50,89.25 L1074.50,89.14 L1075.50,89.03 L1076.50,88.92 L1077.50,88.81 L1078.50,88.70 L1079.50,88.60 L1080.50,88.50 L1081.50,88.40 L1082.50,88.30 L1083.50,88.21 L1084.50,88.11 L1085.50,88.02 L1086.50,87.93 L1087.50,87.84 L1088.50,87.76 L1089.50,87.67 L1090.50,87.59 L1091.50,87.51 L1092.50,87.43 L1093.50,87.35 L1094.50,87.27 L1095.50,87.19 L1096.50,87.12 L1097.50,87.05 L1098.50,86.98 L1099.50,86.91 L1100.50,86.84 L1101.50,86.77 L1102.50,86.71 L1103.50,86.64 L1104.50,86.58 L1105.50,86.52 L1106.50,86.45 L1107.50,86.40 L1108.50,86.34 L1109.50,86.28 L1110.50,86.22 L1111.50,86.17 L1112.50,86.11 L1113.50,86.06 L1114.50,86.01 L1115.50,85.96 L1116.50,85.91 L1117.50,85.86 L1118.50,85.81 L1119.50,85.76 L1120.50,85.72 L1121.50,85.67 L1122.50,85.63 L1123.50,85.58 L1124.50,85.54 L1125.50,85.50 L1126.50,85.46 L1127.50,85.42 L1128.50,85.38 L1129.50,85.34 L1130.50,85.30 L1131.50,85.26 L1132.50,85.23 L1133.50,85.19 L1134.50,85.15 L1135.50,85.12 L1136.50,85.09 L1137.50,85.05 L1138.50,85.02 L1139.50,84.99 L1140.50,84.96 L1141.50,84.93 L1142.50,84.90 L1143.50,84.87 L1144.50,84.84 L1145.50,84.81 L1146.50,84.78 L1147.50,84.75 L1148.50,84.73 L1149.50,84.70 L1150.50,84.68 L1151.50,84.65 L1152.50,84.63 L1153.50,84.60 L1154.50,84.58 L1155.50,84.55 L1156.50,84.53 L1157.50,84.51 L1158.50,84.49 L1159.50,84.47 L1160.50,84.44 L1161.50,84.42 L1162.50,84.40 L1163.50,84.38 L1164.50,84.36 L1165.50,84.34 L1166.50,84.33 L1167.50,84.31 L1168.50,84.29 L1169.50,84.27 L1170.50,84.25 L1171.50,84.24 L1172.50,84.22 L1173.50,84.20 L1174.50,84.19 L1175.50,84.17 L1176.50,84.16 L1177.50,84.14 L1178.50,84.13 L1179.50,84.11 L1180.50,84.10 L1181.50,84.08 L1182.50,84.07 L1183.50,84.06 L1184.50,84.04 L1185.50,84.03 L1186.50,84.02 L1187.50,84.00 L1188.50,83.99 L1189.50,83.98 L1190.50,83.97 L1191.50,83.96 L1192.50,83.95 L1193.50,83.93 L1194.50,83.92 L1195.50,83.91 L1196.50,83.90 L1197.50,83.89 L1198.50,83.88 L1199.50,83.87 L1200.50,83.86 L1201.50,83.85 L1202.50,83.84 L1203.50,83.83 L1204.50,83.83 L1205.50,83.82 L1206.50,83.81 L1207.50,83.80 L1208.50,83.79 L1209.50,83.78 L1210.50,83.78 L1211.50,83.77 L1212.50,83.76 L1213.50,83.75 L1214.50,83.75 L1215.50,83.74 L1216.50,83.73 L1217.50,83.72 L1218.50,83.72 L1219.50,83.71 L1220.50,83.70 L1221.50,83.70 L1222.50,83.69 L1223.50,83.68 L1224.50,83.68 L1225.50,83.67 L1226.50,83.67 L1227.50,83.66 L1228.50,83.66 L1229.50,83.65 L1230.50,83.64 L1231.50,83.64 L1232.50,83.63 L1233.50,83.63 L1234.50,83.62 L1235.50,83.62 L1236.50,83.61 L1237.50,83.61 L1238.00,83.61" fill="none" stroke="#CD4A16" stroke-width="3.35" stroke-linejoin="round" stroke-linecap="butt"/>
<rect x="929" y="54.5" width="309.30" height="498.50" fill="none" stroke="#6e6e6e" stroke-width="1.7"/>
<text transform="translate(910.15,559.00) scale(1.2200,1)" font-size="15.6" fill="#111" stroke="#111" stroke-width="0.218">0</text>
<text transform="translate(878.42,496.69) scale(1.2200,1)" font-size="15.6" fill="#111" stroke="#111" stroke-width="0.218">2000</text>
<text transform="translate(878.42,434.38) scale(1.2200,1)" font-size="15.6" fill="#111" stroke="#111" stroke-width="0.218">4000</text>
<text transform="translate(878.42,372.06) scale(1.2200,1)" font-size="15.6" fill="#111" stroke="#111" stroke-width="0.218">6000</text>
<text transform="translate(878.42,309.75) scale(1.2200,1)" font-size="15.6" fill="#111" stroke="#111" stroke-width="0.218">8000</text>
<text transform="translate(867.80,247.44) scale(1.2200,1)" font-size="15.6" fill="#111" stroke="#111" stroke-width="0.218">10000</text>
<text transform="translate(867.80,185.12) scale(1.2200,1)" font-size="15.6" fill="#111" stroke="#111" stroke-width="0.218">12000</text>
<text transform="translate(867.80,122.81) scale(1.2200,1)" font-size="15.6" fill="#111" stroke="#111" stroke-width="0.218">14000</text>
<text transform="translate(867.80,60.50) scale(1.2200,1)" font-size="15.6" fill="#111" stroke="#111" stroke-width="0.218">16000</text>
<text transform="translate(923.69,575.40) scale(1.2200,1)" font-size="15.6" fill="#111" stroke="#111" stroke-width="0.218">0</text>
<text transform="translate(993.10,575.40) scale(1.2200,1)" font-size="15.6" fill="#111" stroke="#111" stroke-width="0.218">0.5</text>
<text transform="translate(1078.11,575.40) scale(1.2200,1)" font-size="15.6" fill="#111" stroke="#111" stroke-width="0.218">1</text>
<text transform="translate(1147.41,575.40) scale(1.2200,1)" font-size="15.6" fill="#111" stroke="#111" stroke-width="0.218">1.5</text>
<text transform="translate(1233.02,575.40) scale(1.2200,1)" font-size="15.6" fill="#111" stroke="#111" stroke-width="0.218">2</text>
<path d="M929,553.00h7M1238.3,553.00h-7M929,490.69h7M1238.3,490.69h-7M929,428.38h7M1238.3,428.38h-7M929,366.06h7M1238.3,366.06h-7M929,303.75h7M1238.3,303.75h-7M929,241.44h7M1238.3,241.44h-7M929,179.12h7M1238.3,179.12h-7M929,116.81h7M1238.3,116.81h-7M929,54.50h7M1238.3,54.50h-7M929.00,553v-5M929.00,54.5v5M1006.33,553v-5M1006.33,54.5v5M1083.65,553v-5M1083.65,54.5v5M1160.97,553v-5M1160.97,54.5v5M1238.30,553v-5M1238.30,54.5v5" stroke="#6e6e6e" stroke-width="1.7" fill="none"/>
<text transform="translate(1049.95,47.80) scale(1.3215,1)" font-size="16" font-weight="bold" fill="#111" stroke="#111" stroke-width="0.256">Oldest</text>
<text transform="translate(857.00,355.59) rotate(-90) scale(1.0563,1.4717)" font-size="16" fill="#111" stroke="#111" stroke-width="0.224">Fatality count</text>
<text transform="translate(990.11,597.40) scale(1.2838,1)" font-size="16.3" fill="#111" stroke="#111" stroke-width="0.228">Opinion spread rate</text>
<text transform="translate(981.13,617.80) scale(1.2838,1)" font-size="16.3" fill="#111" stroke="#111" stroke-width="0.228">in the youngest group</text>
<path d="M1188.00,592.30l9.5,7.6M1197.50,592.30l-9.5,7.6" stroke="#444" stroke-width="0.9" fill="none"/>
<text transform="translate(1201.11,600.00) scale(1.2364,1)" font-size="15" fill="#111" stroke="#111" stroke-width="0.21">10</text>
<text transform="translate(1223.33,592.50) scale(1.2975,1)" font-size="11.5" fill="#111" stroke="#111" stroke-width="0.161">-9</text>
<rect x="1127.8" y="100.2" width="97.1" height="53.4" fill="#fff" stroke="#666" stroke-width="1.1"/>
<path d="M1135.81,115.03h56.56" stroke="#0065AB" stroke-width="3"/>
<path d="M1135.81,139.06h56.56" stroke="#CD4A16" stroke-width="3"/>
<text transform="translate(1199.33,118.69) scale(1.1896,1)" font-size="13.6" fill="#111" stroke="#111" stroke-width="0.19">y</text>
<text transform="translate(1208.16,124.43) scale(1.2748,1)" font-size="11.6" fill="#111" stroke="#111" stroke-width="0.162">L</text>
<text transform="translate(1199.33,142.92) scale(1.1896,1)" font-size="13.6" fill="#111" stroke="#111" stroke-width="0.19">y</text>
<text transform="translate(1208.05,148.46) scale(1.3931,1)" font-size="11.6" fill="#111" stroke="#111" stroke-width="0.162">H</text>
<path d="M103.40,1341.72 L104.40,1341.57 L105.40,1341.43 L106.40,1341.29 L107.40,1341.16 L108.40,1341.03 L109.40,1340.90 L110.40,1340.78 L111.40,1340.66 L112.40,1340.54 L113.40,1340.43 L114.40,1340.31 L115.40,1340.21 L116.40,1340.10 L117.40,1340.00 L118.40,1339.90 L119.40,1339.80 L120.40,1339.71 L121.40,1339.62 L122.40,1339.53 L123.40,1339.44 L124.40,1339.36 L125.40,1339.28 L126.40,1339.20 L127.40,1339.12 L128.40,1339.05 L129.40,1338.97 L130.40,1338.90 L131.40,1338.83 L132.40,1338.76 L133.40,1338.70 L134.40,1338.63 L135.40,1338.57 L136.40,1338.51 L137.40,1338.45 L138.40,1338.39 L139.40,1338.34 L140.40,1338.28 L141.40,1338.23 L142.40,1338.18 L143.40,1338.13 L144.40,1338.08 L145.40,1338.03 L146.40,1337.98 L147.40,1337.94 L148.40,1337.89 L149.40,1337.85 L150.40,1337.80 L151.40,1337.76 L152.40,1337.72 L153.40,1337.68 L154.40,1337.64 L155.40,1337.61 L156.40,1337.57 L157.40,1337.53 L158.40,1337.50 L159.40,1337.47 L160.40,1337.43 L161.40,1337.40 L162.40,1337.37 L163.40,1337.34 L164.40,1337.31 L165.40,1337.28 L166.40,1337.25 L167.40,1337.22 L168.40,1337.19 L169.40,1337.17 L170.40,1337.14 L171.40,1337.11 L172.40,1337.09 L173.40,1337.06 L174.40,1337.04 L175.40,1337.02 L176.40,1336.99 L177.40,1336.97 L178.40,1336.95 L179.40,1336.93 L180.40,1336.91 L181.40,1336.89 L182.40,1336.87 L183.40,1336.85 L184.40,1336.83 L185.40,1336.81 L186.40,1336.79 L187.40,1336.77 L188.40,1336.75 L189.40,1336.74 L190.40,1336.72 L191.40,1336.70 L192.40,1336.69 L193.40,1336.67 L194.40,1336.65 L195.40,1336.64 L196.40,1336.62 L197.40,1336.61 L198.40,1336.59 L199.40,1336.58 L200.40,1336.57 L201.40,1336.55 L202.40,1336.54 L203.40,1336.52 L204.40,1336.51 L205.40,1336.50 L206.40,1336.49 L207.40,1336.47 L208.40,1336.46 L209.40,1336.45 L210.40,1336.44 L211.40,1336.43 L212.40,1336.41 L213.40,1336.40 L214.40,1336.39 L215.40,1336.38 L216.40,1336.37 L217.40,1336.36 L218.40,1336.35 L219.40,1336.34 L220.40,1336.33 L221.40,1336.32 L222.40,1336.31 L223.40,1336.30 L224.40,1336.29 L225.40,1336.28 L226.40,1336.27 L227.40,1336.26 L228.40,1336.25 L229.40,1336.25 L230.40,1336.24 L231.40,1336.23 L232.40,1336.22 L233.40,1336.21 L234.40,1336.20 L235.40,1336.20 L236.40,1336.19 L237.40,1336.18 L238.40,1336.17 L239.40,1336.16 L240.40,1336.16 L241.40,1336.15 L242.40,1336.14 L243.40,1336.13 L244.40,1336.13 L245.40,1336.12 L246.40,1336.11 L247.40,1336.11 L248.40,1336.10 L249.40,1336.09 L250.40,1336.09 L251.40,1336.08 L252.40,1336.07 L253.40,1336.07 L254.40,1336.06 L255.40,1336.05 L256.40,1336.05 L257.40,1336.04 L258.40,1336.03 L259.40,1336.03 L260.40,1336.02 L261.40,1336.02 L262.40,1336.01 L263.40,1336.00 L264.40,1336.00 L265.40,1335.99 L266.40,1335.99 L267.40,1335.98 L268.40,1335.98 L269.40,1335.97 L270.40,1335.97 L271.40,1335.96 L272.40,1335.95 L273.40,1335.95 L274.40,1335.94 L275.40,1335.94 L276.40,1335.93 L277.40,1335.93 L278.40,1335.92 L279.40,1335.92 L280.40,1335.91 L281.40,1335.91 L282.40,1335.90 L283.40,1335.90 L284.40,1335.89 L285.40,1335.89 L286.40,1335.88 L287.40,1335.88 L288.40,1335.88 L289.40,1335.87 L290.40,1335.87 L291.40,1335.86 L292.40,1335.86 L293.40,1335.85 L294.40,1335.85 L295.40,1335.84 L296.40,1335.84 L297.40,1335.84 L298.40,1335.83 L299.40,1335.83 L300.40,1335.82 L301.40,1335.82 L302.40,1335.81 L303.40,1335.81 L304.40,1335.81 L305.40,1335.80 L306.40,1335.80 L307.40,1335.79 L308.40,1335.79 L309.40,1335.79 L310.40,1335.78 L311.40,1335.78 L312.40,1335.77 L313.40,1335.77 L314.40,1335.77 L315.40,1335.76 L316.40,1335.76 L317.40,1335.76 L318.40,1335.75 L319.40,1335.75 L320.40,1335.74 L321.40,1335.74 L322.40,1335.74 L323.40,1335.73 L324.40,1335.73 L325.40,1335.73 L326.40,1335.72 L327.40,1335.72 L328.40,1335.72 L329.40,1335.71 L330.40,1335.71 L331.40,1335.71 L332.40,1335.70 L333.40,1335.70 L334.40,1335.70 L335.40,1335.69 L336.40,1335.69 L337.40,1335.69 L338.40,1335.68 L339.40,1335.68 L340.40,1335.68 L341.40,1335.67 L342.40,1335.67 L343.40,1335.67 L344.40,1335.66 L345.40,1335.66 L346.40,1335.66 L347.40,1335.66 L348.40,1335.65 L349.40,1335.65 L350.40,1335.65 L351.40,1335.64 L352.40,1335.64 L353.40,1335.64 L354.40,1335.63 L355.40,1335.63 L356.40,1335.63 L357.40,1335.63 L358.40,1335.62 L359.40,1335.62 L360.40,1335.62 L361.40,1335.61 L362.40,1335.61 L363.40,1335.61 L364.40,1335.61 L365.40,1335.60 L366.40,1335.60 L367.40,1335.60 L368.40,1335.60 L369.40,1335.59 L370.40,1335.59 L371.40,1335.59 L372.40,1335.58 L373.40,1335.58 L374.40,1335.58 L375.40,1335.58 L376.40,1335.57 L377.40,1335.57 L378.40,1335.57 L379.40,1335.57 L380.40,1335.56 L381.40,1335.56 L382.40,1335.56 L383.40,1335.56 L384.40,1335.55 L385.40,1335.55 L386.40,1335.55 L387.40,1335.55 L388.40,1335.54 L389.40,1335.54 L390.40,1335.54 L391.40,1335.54 L392.40,1335.54 L393.40,1335.53 L394.40,1335.53 L395.40,1335.53 L396.40,1335.53 L397.40,1335.52 L398.40,1335.52 L399.40,1335.52 L400.40,1335.52 L401.40,1335.51 L402.40,1335.51 L403.40,1335.51 L404.40,1335.51 L405.40,1335.51 L406.40,1335.50 L407.40,1335.50 L408.40,1335.50 L409.40,1335.50 L410.40,1335.50 L411.40,1335.49 L412.30,1335.49" fill="none" stroke="#0065AB" stroke-width="3.35" stroke-linejoin="round" stroke-linecap="butt"/>
<path d="M103.40,885.25 L104.20,884.63 L105.00,884.02 L105.85,883.39 L106.70,882.78 L107.55,882.18 L108.40,881.60 L109.25,881.04 L110.10,880.48 L110.95,879.95 L111.85,879.39 L112.75,878.85 L113.65,878.33 L114.55,877.82 L115.45,877.33 L116.35,876.84 L117.25,876.38 L118.15,875.92 L119.05,875.48 L120.00,875.02 L120.95,874.58 L121.90,874.16 L122.85,873.74 L123.80,873.34 L124.75,872.94 L125.70,872.56 L126.65,872.19 L127.60,871.84 L128.55,871.49 L129.50,871.15 L130.45,870.82 L131.40,870.50 L132.40,870.18 L133.40,869.86 L134.40,869.55 L135.40,869.26 L136.40,868.97 L137.40,868.69 L138.40,868.42 L139.40,868.16 L140.40,867.90 L141.40,867.65 L142.40,867.42 L143.40,867.18 L144.40,866.96 L145.40,866.74 L146.40,866.53 L147.40,866.32 L148.40,866.12 L149.40,865.93 L150.40,865.74 L151.40,865.56 L152.40,865.39 L153.40,865.22 L154.40,865.05 L155.40,864.89 L156.40,864.73 L157.40,864.58 L158.40,864.44 L159.40,864.30 L160.40,864.16 L161.40,864.02 L162.40,863.89 L163.40,863.77 L164.40,863.65 L165.40,863.53 L166.40,863.41 L167.40,863.30 L168.40,863.19 L169.40,863.09 L170.40,862.99 L171.40,862.89 L172.40,862.79 L173.40,862.70 L174.40,862.61 L175.40,862.52 L176.40,862.44 L177.40,862.36 L178.40,862.28 L179.40,862.20 L180.40,862.12 L181.40,862.05 L182.40,861.98 L183.40,861.91 L184.40,861.84 L185.40,861.78 L186.40,861.72 L187.40,861.66 L188.40,861.60 L189.40,861.54 L190.40,861.48 L191.40,861.43 L192.40,861.38 L193.40,861.32 L194.40,861.27 L195.40,861.23 L196.40,861.18 L197.40,861.13 L198.40,861.09 L199.40,861.05 L200.40,861.00 L201.40,860.96 L202.40,860.92 L203.40,860.89 L204.40,860.85 L205.40,860.81 L206.40,860.78 L207.40,860.74 L208.40,860.71 L209.40,860.68 L210.40,860.65 L211.40,860.62 L212.40,860.59 L213.40,860.56 L214.40,860.53 L215.40,860.50 L216.40,860.48 L217.40,860.45 L218.40,860.42 L219.40,860.40 L220.40,860.38 L221.40,860.35 L222.40,860.33 L223.40,860.31 L224.40,860.29 L225.40,860.27 L226.40,860.25 L227.40,860.23 L228.40,860.21 L229.40,860.19 L230.40,860.17 L231.40,860.15 L232.40,860.13 L233.40,860.12 L234.40,860.10 L235.40,860.09 L236.40,860.07 L237.40,860.05 L238.40,860.04 L239.40,860.02 L240.40,860.01 L241.40,860.00 L242.40,859.98 L243.40,859.97 L244.40,859.96 L245.40,859.94 L246.40,859.93 L247.40,859.92 L248.40,859.91 L249.40,859.90 L250.40,859.89 L251.40,859.87 L252.40,859.86 L253.40,859.85 L254.40,859.84 L255.40,859.83 L256.40,859.82 L257.40,859.81 L258.40,859.80 L259.40,859.79 L260.40,859.78 L261.40,859.78 L262.40,859.77 L263.40,859.76 L264.40,859.75 L265.40,859.74 L266.40,859.73 L267.40,859.73 L268.40,859.72 L269.40,859.71 L270.40,859.70 L271.40,859.70 L272.40,859.69 L273.40,859.68 L274.40,859.67 L275.40,859.67 L276.40,859.66 L277.40,859.65 L278.40,859.65 L279.40,859.64 L280.40,859.63 L281.40,859.63 L282.40,859.62 L283.40,859.62 L284.40,859.61 L285.40,859.60 L286.40,859.60 L287.40,859.59 L288.40,859.59 L289.40,859.58 L290.40,859.58 L291.40,859.57 L292.40,859.57 L293.40,859.56 L294.40,859.55 L295.40,859.55 L296.40,859.54 L297.40,859.54 L298.40,859.53 L299.40,859.53 L300.40,859.52 L301.40,859.52 L302.40,859.52 L303.40,859.51 L304.40,859.51 L305.40,859.50 L306.40,859.50 L307.40,859.49 L308.40,859.49 L309.40,859.48 L310.40,859.48 L311.40,859.47 L312.40,859.47 L313.40,859.47 L314.40,859.46 L315.40,859.46 L316.40,859.45 L317.40,859.45 L318.40,859.44 L319.40,859.44 L320.40,859.44 L321.40,859.43 L322.40,859.43 L323.40,859.42 L324.40,859.42 L325.40,859.42 L326.40,859.41 L327.40,859.41 L328.40,859.40 L329.40,859.40 L330.40,859.40 L331.40,859.39 L332.40,859.39 L333.40,859.39 L334.40,859.38 L335.40,859.38 L336.40,859.37 L337.40,859.37 L338.40,859.37 L339.40,859.36 L340.40,859.36 L341.40,859.36 L342.40,859.35 L343.40,859.35 L344.40,859.35 L345.40,859.34 L346.40,859.34 L347.40,859.33 L348.40,859.33 L349.40,859.33 L350.40,859.32 L351.40,859.32 L352.40,859.32 L353.40,859.31 L354.40,859.31 L355.40,859.31 L356.40,859.30 L357.40,859.30 L358.40,859.30 L359.40,859.29 L360.40,859.29 L361.40,859.29 L362.40,859.28 L363.40,859.28 L364.40,859.28 L365.40,859.27 L366.40,859.27 L367.40,859.27 L368.40,859.26 L369.40,859.26 L370.40,859.26 L371.40,859.25 L372.40,859.25 L373.40,859.25 L374.40,859.24 L375.40,859.24 L376.40,859.24 L377.40,859.23 L378.40,859.23 L379.40,859.23 L380.40,859.22 L381.40,859.22 L382.40,859.22 L383.40,859.21 L384.40,859.21 L385.40,859.21 L386.40,859.20 L387.40,859.20 L388.40,859.20 L389.40,859.19 L390.40,859.19 L391.40,859.19 L392.40,859.18 L393.40,859.18 L394.40,859.18 L395.40,859.17 L396.40,859.17 L397.40,859.17 L398.40,859.16 L399.40,859.16 L400.40,859.16 L401.40,859.15 L402.40,859.15 L403.40,859.15 L404.40,859.14 L405.40,859.14 L406.40,859.14 L407.40,859.13 L408.40,859.13 L409.40,859.13 L410.40,859.12 L411.40,859.12 L412.30,859.12" fill="none" stroke="#CD4A16" stroke-width="3.35" stroke-linejoin="round" stroke-linecap="butt"/>
<rect x="103" y="809.3" width="309.60" height="538.20" fill="none" stroke="#6e6e6e" stroke-width="1.7"/>
<text transform="translate(83.95,1353.50) scale(1.2200,1)" font-size="15.6" fill="#111" stroke="#111" stroke-width="0.218">0</text>
<text transform="translate(62.78,1299.68) scale(1.2200,1)" font-size="15.6" fill="#111" stroke="#111" stroke-width="0.218">100</text>
<text transform="translate(62.78,1245.86) scale(1.2200,1)" font-size="15.6" fill="#111" stroke="#111" stroke-width="0.218">200</text>
<text transform="translate(62.78,1192.04) scale(1.2200,1)" font-size="15.6" fill="#111" stroke="#111" stroke-width="0.218">300</text>
<text transform="translate(62.78,1138.22) scale(1.2200,1)" font-size="15.6" fill="#111" stroke="#111" stroke-width="0.218">400</text>
<text transform="translate(62.78,1084.40) scale(1.2200,1)" font-size="15.6" fill="#111" stroke="#111" stroke-width="0.218">500</text>
<text transform="translate(62.78,1030.58) scale(1.2200,1)" font-size="15.6" fill="#111" stroke="#111" stroke-width="0.218">600</text>
<text transform="translate(62.78,976.76) scale(1.2200,1)" font-size="15.6" fill="#111" stroke="#111" stroke-width="0.218">700</text>
<text transform="translate(62.78,922.94) scale(1.2200,1)" font-size="15.6" fill="#111" stroke="#111" stroke-width="0.218">800</text>
<text transform="translate(62.78,869.12) scale(1.2200,1)" font-size="15.6" fill="#111" stroke="#111" stroke-width="0.218">900</text>
<text transform="translate(52.22,815.30) scale(1.2200,1)" font-size="15.6" fill="#111" stroke="#111" stroke-width="0.218">1000</text>
<text transform="translate(97.69,1369.90) scale(1.2200,1)" font-size="15.6" fill="#111" stroke="#111" stroke-width="0.218">0</text>
<text transform="translate(167.17,1369.90) scale(1.2200,1)" font-size="15.6" fill="#111" stroke="#111" stroke-width="0.218">0.5</text>
<text transform="translate(252.26,1369.90) scale(1.2200,1)" font-size="15.6" fill="#111" stroke="#111" stroke-width="0.218">1</text>
<text transform="translate(321.64,1369.90) scale(1.2200,1)" font-size="15.6" fill="#111" stroke="#111" stroke-width="0.218">1.5</text>
<text transform="translate(407.32,1369.90) scale(1.2200,1)" font-size="15.6" fill="#111" stroke="#111" stroke-width="0.218">2</text>
<path d="M103,1347.50h7M412.6,1347.50h-7M103,1293.68h7M412.6,1293.68h-7M103,1239.86h7M412.6,1239.86h-7M103,1186.04h7M412.6,1186.04h-7M103,1132.22h7M412.6,1132.22h-7M103,1078.40h7M412.6,1078.40h-7M103,1024.58h7M412.6,1024.58h-7M103,970.76h7M412.6,970.76h-7M103,916.94h7M412.6,916.94h-7M103,863.12h7M412.6,863.12h-7M103,809.30h7M412.6,809.30h-7M103.00,1347.5v-5M103.00,809.3v5M180.40,1347.5v-5M180.40,809.3v5M257.80,1347.5v-5M257.80,809.3v5M335.20,1347.5v-5M335.20,809.3v5M412.60,1347.5v-5M412.60,809.3v5" stroke="#6e6e6e" stroke-width="1.7" fill="none"/>
<text transform="translate(211.43,802.50) scale(1.3062,1)" font-size="16" font-weight="bold" fill="#111" stroke="#111" stroke-width="0.256">Youngest</text>
<text transform="translate(41.10,1130.69) rotate(-90) scale(1.0563,1.3808)" font-size="16" fill="#111" stroke="#111" stroke-width="0.224">Fatality count</text>
<text transform="translate(163.95,1392.60) scale(1.2880,1)" font-size="16.3" fill="#111" stroke="#111" stroke-width="0.228">Opinion spread rate</text>
<text transform="translate(169.54,1413.10) scale(1.2880,1)" font-size="16.3" fill="#111" stroke="#111" stroke-width="0.228">in the oldest group</text>
<path d="M362.30,1387.10l9.5,7.6M371.80,1387.10l-9.5,7.6" stroke="#444" stroke-width="0.9" fill="none"/>
<text transform="translate(375.41,1394.80) scale(1.2364,1)" font-size="15" fill="#111" stroke="#111" stroke-width="0.21">10</text>
<text transform="translate(397.63,1387.30) scale(1.2975,1)" font-size="11.5" fill="#111" stroke="#111" stroke-width="0.161">-9</text>
<rect x="303.5" y="873.3" width="97.9" height="53.9" fill="#fff" stroke="#666" stroke-width="1.1"/>
<path d="M311.57,888.27h57.02" stroke="#0065AB" stroke-width="3"/>
<path d="M311.57,912.53h57.02" stroke="#CD4A16" stroke-width="3"/>
<text transform="translate(375.62,891.97) scale(1.1994,1)" font-size="13.6" fill="#111" stroke="#111" stroke-width="0.19">y</text>
<text transform="translate(384.53,897.75) scale(1.2853,1)" font-size="11.6" fill="#111" stroke="#111" stroke-width="0.162">L</text>
<text transform="translate(375.62,916.42) scale(1.1994,1)" font-size="13.6" fill="#111" stroke="#111" stroke-width="0.19">y</text>
<text transform="translate(384.41,922.01) scale(1.4046,1)" font-size="11.6" fill="#111" stroke="#111" stroke-width="0.162">H</text>
<path d="M521.40,1335.62 L522.40,1335.36 L523.40,1335.11 L524.40,1334.87 L525.40,1334.63 L526.40,1334.41 L527.40,1334.19 L528.40,1333.97 L529.40,1333.76 L530.40,1333.56 L531.40,1333.37 L532.40,1333.18 L533.40,1333.00 L534.40,1332.82 L535.40,1332.65 L536.40,1332.48 L537.40,1332.32 L538.40,1332.17 L539.40,1332.02 L540.40,1331.87 L541.40,1331.73 L542.40,1331.59 L543.40,1331.45 L544.40,1331.32 L545.40,1331.20 L546.40,1331.08 L547.40,1330.96 L548.40,1330.84 L549.40,1330.73 L550.40,1330.62 L551.40,1330.52 L552.40,1330.41 L553.40,1330.32 L554.40,1330.22 L555.40,1330.13 L556.40,1330.03 L557.40,1329.95 L558.40,1329.86 L559.40,1329.78 L560.40,1329.70 L561.40,1329.62 L562.40,1329.54 L563.40,1329.47 L564.40,1329.39 L565.40,1329.32 L566.40,1329.26 L567.40,1329.19 L568.40,1329.12 L569.40,1329.06 L570.40,1329.00 L571.40,1328.94 L572.40,1328.88 L573.40,1328.82 L574.40,1328.77 L575.40,1328.72 L576.40,1328.66 L577.40,1328.61 L578.40,1328.56 L579.40,1328.51 L580.40,1328.47 L581.40,1328.42 L582.40,1328.37 L583.40,1328.33 L584.40,1328.29 L585.40,1328.25 L586.40,1328.21 L587.40,1328.17 L588.40,1328.13 L589.40,1328.09 L590.40,1328.05 L591.40,1328.01 L592.40,1327.98 L593.40,1327.94 L594.40,1327.91 L595.40,1327.88 L596.40,1327.84 L597.40,1327.81 L598.40,1327.78 L599.40,1327.75 L600.40,1327.72 L601.40,1327.69 L602.40,1327.66 L603.40,1327.63 L604.40,1327.61 L605.40,1327.58 L606.40,1327.55 L607.40,1327.53 L608.40,1327.50 L609.40,1327.48 L610.40,1327.45 L611.40,1327.43 L612.40,1327.40 L613.40,1327.38 L614.40,1327.36 L615.40,1327.33 L616.40,1327.31 L617.40,1327.29 L618.40,1327.27 L619.40,1327.25 L620.40,1327.23 L621.40,1327.20 L622.40,1327.18 L623.40,1327.16 L624.40,1327.14 L625.40,1327.13 L626.40,1327.11 L627.40,1327.09 L628.40,1327.07 L629.40,1327.05 L630.40,1327.03 L631.40,1327.01 L632.40,1327.00 L633.40,1326.98 L634.40,1326.96 L635.40,1326.95 L636.40,1326.93 L637.40,1326.91 L638.40,1326.90 L639.40,1326.88 L640.40,1326.86 L641.40,1326.85 L642.40,1326.83 L643.40,1326.82 L644.40,1326.80 L645.40,1326.79 L646.40,1326.77 L647.40,1326.76 L648.40,1326.74 L649.40,1326.73 L650.40,1326.71 L651.40,1326.70 L652.40,1326.68 L653.40,1326.67 L654.40,1326.66 L655.40,1326.64 L656.40,1326.63 L657.40,1326.62 L658.40,1326.60 L659.40,1326.59 L660.40,1326.57 L661.40,1326.56 L662.40,1326.55 L663.40,1326.54 L664.40,1326.52 L665.40,1326.51 L666.40,1326.50 L667.40,1326.48 L668.40,1326.47 L669.40,1326.46 L670.40,1326.45 L671.40,1326.44 L672.40,1326.42 L673.40,1326.41 L674.40,1326.40 L675.40,1326.39 L676.40,1326.38 L677.40,1326.36 L678.40,1326.35 L679.40,1326.34 L680.40,1326.33 L681.40,1326.32 L682.40,1326.31 L683.40,1326.29 L684.40,1326.28 L685.40,1326.27 L686.40,1326.26 L687.40,1326.25 L688.40,1326.24 L689.40,1326.23 L690.40,1326.22 L691.40,1326.21 L692.40,1326.19 L693.40,1326.18 L694.40,1326.17 L695.40,1326.16 L696.40,1326.15 L697.40,1326.14 L698.40,1326.13 L699.40,1326.12 L700.40,1326.11 L701.40,1326.10 L702.40,1326.09 L703.40,1326.08 L704.40,1326.07 L705.40,1326.06 L706.40,1326.05 L707.40,1326.04 L708.40,1326.03 L709.40,1326.02 L710.40,1326.01 L711.40,1326.00 L712.40,1325.99 L713.40,1325.98 L714.40,1325.97 L715.40,1325.96 L716.40,1325.95 L717.40,1325.94 L718.40,1325.93 L719.40,1325.92 L720.40,1325.91 L721.40,1325.90 L722.40,1325.89 L723.40,1325.88 L724.40,1325.87 L725.40,1325.86 L726.40,1325.85 L727.40,1325.84 L728.40,1325.83 L729.40,1325.82 L730.40,1325.81 L731.40,1325.80 L732.40,1325.79 L733.40,1325.78 L734.40,1325.77 L735.40,1325.77 L736.40,1325.76 L737.40,1325.75 L738.40,1325.74 L739.40,1325.73 L740.40,1325.72 L741.40,1325.71 L742.40,1325.70 L743.40,1325.69 L744.40,1325.68 L745.40,1325.67 L746.40,1325.67 L747.40,1325.66 L748.40,1325.65 L749.40,1325.64 L750.40,1325.63 L751.40,1325.62 L752.40,1325.61 L753.40,1325.60 L754.40,1325.59 L755.40,1325.59 L756.40,1325.58 L757.40,1325.57 L758.40,1325.56 L759.40,1325.55 L760.40,1325.54 L761.40,1325.53 L762.40,1325.53 L763.40,1325.52 L764.40,1325.51 L765.40,1325.50 L766.40,1325.49 L767.40,1325.48 L768.40,1325.47 L769.40,1325.47 L770.40,1325.46 L771.40,1325.45 L772.40,1325.44 L773.40,1325.43 L774.40,1325.42 L775.40,1325.42 L776.40,1325.41 L777.40,1325.40 L778.40,1325.39 L779.40,1325.38 L780.40,1325.38 L781.40,1325.37 L782.40,1325.36 L783.40,1325.35 L784.40,1325.34 L785.40,1325.34 L786.40,1325.33 L787.40,1325.32 L788.40,1325.31 L789.40,1325.30 L790.40,1325.30 L791.40,1325.29 L792.40,1325.28 L793.40,1325.27 L794.40,1325.26 L795.40,1325.26 L796.40,1325.25 L797.40,1325.24 L798.40,1325.23 L799.40,1325.22 L800.40,1325.22 L801.40,1325.21 L802.40,1325.20 L803.40,1325.19 L804.40,1325.19 L805.40,1325.18 L806.40,1325.17 L807.40,1325.16 L808.40,1325.16 L809.40,1325.15 L810.40,1325.14 L811.40,1325.13 L812.40,1325.13 L813.40,1325.12 L814.40,1325.11 L815.40,1325.10 L816.40,1325.10 L817.40,1325.09 L818.40,1325.08 L819.40,1325.07 L820.40,1325.07 L821.40,1325.06 L822.40,1325.05 L823.40,1325.05 L824.40,1325.04 L825.40,1325.03 L826.40,1325.02 L827.40,1325.02 L828.40,1325.01 L829.40,1325.00 L830.40,1325.00 L830.80,1324.99" fill="none" stroke="#0065AB" stroke-width="3.35" stroke-linejoin="round" stroke-linecap="butt"/>
<path d="M521.40,905.33 L522.00,904.53 L522.65,903.67 L523.30,902.83 L523.95,902.01 L524.60,901.19 L525.25,900.40 L525.90,899.61 L526.55,898.84 L527.25,898.02 L527.95,897.22 L528.65,896.44 L529.35,895.66 L530.05,894.91 L530.75,894.16 L531.45,893.43 L532.15,892.71 L532.90,891.96 L533.65,891.22 L534.40,890.49 L535.15,889.78 L535.90,889.08 L536.65,888.39 L537.40,887.72 L538.20,887.02 L539.00,886.33 L539.80,885.66 L540.60,885.00 L541.40,884.36 L542.20,883.72 L543.00,883.10 L543.80,882.50 L544.65,881.87 L545.50,881.25 L546.35,880.65 L547.20,880.06 L548.05,879.48 L548.90,878.92 L549.75,878.36 L550.60,877.82 L551.90,877.02 L552.90,876.42 L553.90,875.84 L554.90,875.27 L555.90,874.71 L556.90,874.17 L557.90,873.65 L558.90,873.14 L559.90,872.64 L560.90,872.15 L561.90,871.68 L562.90,871.21 L563.90,870.76 L564.90,870.33 L565.90,869.90 L566.90,869.48 L567.90,869.08 L568.90,868.68 L569.90,868.30 L570.90,867.92 L571.90,867.56 L572.90,867.20 L573.90,866.86 L574.90,866.52 L575.90,866.19 L576.90,865.87 L577.90,865.56 L578.90,865.25 L579.90,864.96 L580.90,864.67 L581.90,864.39 L582.90,864.11 L583.90,863.84 L584.90,863.58 L585.90,863.33 L586.90,863.08 L587.90,862.84 L588.90,862.61 L589.90,862.38 L590.90,862.16 L591.90,861.94 L592.90,861.73 L593.90,861.52 L594.90,861.32 L595.90,861.13 L596.90,860.94 L597.90,860.75 L598.90,860.57 L599.90,860.39 L600.90,860.22 L601.90,860.05 L602.90,859.89 L603.90,859.73 L604.90,859.58 L605.90,859.43 L606.90,859.28 L607.90,859.14 L608.90,859.00 L609.90,858.86 L610.90,858.73 L611.90,858.60 L612.90,858.47 L613.90,858.35 L614.90,858.23 L615.90,858.12 L616.90,858.00 L617.90,857.89 L618.90,857.78 L619.90,857.68 L620.90,857.58 L621.90,857.48 L622.90,857.38 L623.90,857.29 L624.90,857.19 L625.90,857.10 L626.90,857.02 L627.90,856.93 L628.90,856.85 L629.90,856.77 L630.90,856.69 L631.90,856.61 L632.90,856.54 L633.90,856.46 L634.90,856.39 L635.90,856.32 L636.90,856.25 L637.90,856.19 L638.90,856.12 L639.90,856.06 L640.90,856.00 L641.90,855.94 L642.90,855.88 L643.90,855.83 L644.90,855.77 L645.90,855.72 L646.90,855.67 L647.90,855.61 L648.90,855.56 L649.90,855.52 L650.90,855.47 L651.90,855.42 L652.90,855.38 L653.90,855.33 L654.90,855.29 L655.90,855.25 L656.90,855.21 L657.90,855.17 L658.90,855.13 L659.90,855.09 L660.90,855.06 L661.90,855.02 L662.90,854.99 L663.90,854.95 L664.90,854.92 L665.90,854.89 L666.90,854.86 L667.90,854.83 L668.90,854.80 L669.90,854.77 L670.90,854.74 L671.90,854.71 L672.90,854.68 L673.90,854.66 L674.90,854.63 L675.90,854.61 L676.90,854.58 L677.90,854.56 L678.90,854.54 L679.90,854.51 L680.90,854.49 L681.90,854.47 L682.90,854.45 L683.90,854.43 L684.90,854.41 L685.90,854.39 L686.90,854.37 L687.90,854.35 L688.90,854.33 L689.90,854.31 L690.90,854.30 L691.90,854.28 L692.90,854.26 L693.90,854.25 L694.90,854.23 L695.90,854.22 L696.90,854.20 L697.90,854.19 L698.90,854.17 L699.90,854.16 L700.90,854.15 L701.90,854.13 L702.90,854.12 L703.90,854.11 L704.90,854.10 L705.90,854.08 L706.90,854.07 L707.90,854.06 L708.90,854.05 L709.90,854.04 L710.90,854.03 L711.90,854.02 L712.90,854.01 L713.90,854.00 L714.90,853.99 L715.90,853.98 L716.90,853.97 L717.90,853.96 L718.90,853.95 L719.90,853.94 L720.90,853.93 L721.90,853.93 L722.90,853.92 L723.90,853.91 L724.90,853.90 L725.90,853.89 L726.90,853.89 L727.90,853.88 L728.90,853.87 L729.90,853.87 L730.90,853.86 L731.90,853.85 L732.90,853.85 L733.90,853.84 L734.90,853.83 L735.90,853.83 L736.90,853.82 L737.90,853.82 L738.90,853.81 L739.90,853.81 L740.90,853.80 L741.90,853.79 L742.90,853.79 L743.90,853.78 L744.90,853.78 L745.90,853.77 L746.90,853.77 L747.90,853.77 L748.90,853.76 L749.90,853.76 L750.90,853.75 L751.90,853.75 L752.90,853.74 L753.90,853.74 L754.90,853.74 L755.90,853.73 L756.90,853.73 L757.90,853.72 L758.90,853.72 L759.90,853.72 L760.90,853.71 L761.90,853.71 L762.90,853.71 L763.90,853.70 L764.90,853.70 L765.90,853.70 L766.90,853.69 L767.90,853.69 L768.90,853.69 L769.90,853.68 L770.90,853.68 L771.90,853.68 L772.90,853.67 L773.90,853.67 L774.90,853.67 L775.90,853.67 L776.90,853.66 L777.90,853.66 L778.90,853.66 L779.90,853.65 L780.90,853.65 L781.90,853.65 L782.90,853.65 L783.90,853.64 L784.90,853.64 L785.90,853.64 L786.90,853.64 L787.90,853.64 L788.90,853.63 L789.90,853.63 L790.90,853.63 L791.90,853.63 L792.90,853.62 L793.90,853.62 L794.90,853.62 L795.90,853.62 L796.90,853.62 L797.90,853.61 L798.90,853.61 L799.90,853.61 L800.90,853.61 L801.90,853.61 L802.90,853.60 L803.90,853.60 L804.90,853.60 L805.90,853.60 L806.90,853.60 L807.90,853.60 L808.90,853.59 L809.90,853.59 L810.90,853.59 L811.90,853.59 L812.90,853.59 L813.90,853.59 L814.90,853.58 L815.90,853.58 L816.90,853.58 L817.90,853.58 L818.90,853.58 L819.90,853.58 L820.90,853.57 L821.90,853.57 L822.90,853.57 L823.90,853.57 L824.90,853.57 L825.90,853.57 L826.90,853.57 L827.90,853.56 L828.90,853.56 L829.90,853.56 L830.80,853.56" fill="none" stroke="#CD4A16" stroke-width="3.35" stroke-linejoin="round" stroke-linecap="butt"/>
<rect x="521.5" y="809.3" width="309.50" height="538.20" fill="none" stroke="#6e6e6e" stroke-width="1.7"/>
<text transform="translate(502.45,1353.50) scale(1.2200,1)" font-size="15.6" fill="#111" stroke="#111" stroke-width="0.218">0</text>
<text transform="translate(481.28,1299.68) scale(1.2200,1)" font-size="15.6" fill="#111" stroke="#111" stroke-width="0.218">100</text>
<text transform="translate(481.28,1245.86) scale(1.2200,1)" font-size="15.6" fill="#111" stroke="#111" stroke-width="0.218">200</text>
<text transform="translate(481.28,1192.04) scale(1.2200,1)" font-size="15.6" fill="#111" stroke="#111" stroke-width="0.218">300</text>
<text transform="translate(481.28,1138.22) scale(1.2200,1)" font-size="15.6" fill="#111" stroke="#111" stroke-width="0.218">400</text>
<text transform="translate(481.28,1084.40) scale(1.2200,1)" font-size="15.6" fill="#111" stroke="#111" stroke-width="0.218">500</text>
<text transform="translate(481.28,1030.58) scale(1.2200,1)" font-size="15.6" fill="#111" stroke="#111" stroke-width="0.218">600</text>
<text transform="translate(481.28,976.76) scale(1.2200,1)" font-size="15.6" fill="#111" stroke="#111" stroke-width="0.218">700</text>
<text transform="translate(481.28,922.94) scale(1.2200,1)" font-size="15.6" fill="#111" stroke="#111" stroke-width="0.218">800</text>
<text transform="translate(481.28,869.12) scale(1.2200,1)" font-size="15.6" fill="#111" stroke="#111" stroke-width="0.218">900</text>
<text transform="translate(470.72,815.30) scale(1.2200,1)" font-size="15.6" fill="#111" stroke="#111" stroke-width="0.218">1000</text>
<text transform="translate(516.19,1369.90) scale(1.2200,1)" font-size="15.6" fill="#111" stroke="#111" stroke-width="0.218">0</text>
<text transform="translate(585.65,1369.90) scale(1.2200,1)" font-size="15.6" fill="#111" stroke="#111" stroke-width="0.218">0.5</text>
<text transform="translate(670.71,1369.90) scale(1.2200,1)" font-size="15.6" fill="#111" stroke="#111" stroke-width="0.218">1</text>
<text transform="translate(740.06,1369.90) scale(1.2200,1)" font-size="15.6" fill="#111" stroke="#111" stroke-width="0.218">1.5</text>
<text transform="translate(825.72,1369.90) scale(1.2200,1)" font-size="15.6" fill="#111" stroke="#111" stroke-width="0.218">2</text>
<path d="M521.5,1347.50h7M831,1347.50h-7M521.5,1293.68h7M831,1293.68h-7M521.5,1239.86h7M831,1239.86h-7M521.5,1186.04h7M831,1186.04h-7M521.5,1132.22h7M831,1132.22h-7M521.5,1078.40h7M831,1078.40h-7M521.5,1024.58h7M831,1024.58h-7M521.5,970.76h7M831,970.76h-7M521.5,916.94h7M831,916.94h-7M521.5,863.12h7M831,863.12h-7M521.5,809.30h7M831,809.30h-7M521.50,1347.5v-5M521.50,809.3v5M598.88,1347.5v-5M598.88,809.3v5M676.25,1347.5v-5M676.25,809.3v5M753.62,1347.5v-5M753.62,809.3v5M831.00,1347.5v-5M831.00,809.3v5" stroke="#6e6e6e" stroke-width="1.7" fill="none"/>
<text transform="translate(620.17,802.80) scale(1.3222,1)" font-size="16" font-weight="bold" fill="#111" stroke="#111" stroke-width="0.256">Middle age</text>
<text transform="translate(459.30,1130.69) rotate(-90) scale(1.0563,1.3899)" font-size="16" fill="#111" stroke="#111" stroke-width="0.224">Fatality count</text>
<text transform="translate(582.40,1392.60) scale(1.2880,1)" font-size="16.3" fill="#111" stroke="#111" stroke-width="0.228">Opinion spread rate</text>
<text transform="translate(587.99,1413.10) scale(1.2880,1)" font-size="16.3" fill="#111" stroke="#111" stroke-width="0.228">in the oldest group</text>
<path d="M780.70,1387.10l9.5,7.6M790.20,1387.10l-9.5,7.6" stroke="#444" stroke-width="0.9" fill="none"/>
<text transform="translate(793.81,1394.80) scale(1.2364,1)" font-size="15" fill="#111" stroke="#111" stroke-width="0.21">10</text>
<text transform="translate(816.03,1387.30) scale(1.2975,1)" font-size="11.5" fill="#111" stroke="#111" stroke-width="0.161">-9</text>
<rect x="717.7" y="868.6" width="97.7" height="53.9" fill="#fff" stroke="#666" stroke-width="1.1"/>
<path d="M725.76,883.57h56.91" stroke="#0065AB" stroke-width="3"/>
<path d="M725.76,907.83h56.91" stroke="#CD4A16" stroke-width="3"/>
<text transform="translate(789.68,887.27) scale(1.1969,1)" font-size="13.6" fill="#111" stroke="#111" stroke-width="0.19">y</text>
<text transform="translate(798.56,893.05) scale(1.2827,1)" font-size="11.6" fill="#111" stroke="#111" stroke-width="0.162">L</text>
<text transform="translate(789.68,911.72) scale(1.1969,1)" font-size="13.6" fill="#111" stroke="#111" stroke-width="0.19">y</text>
<text transform="translate(798.45,917.31) scale(1.4017,1)" font-size="11.6" fill="#111" stroke="#111" stroke-width="0.162">H</text>
<path d="M938.70,1336.74 L939.70,1336.53 L940.70,1336.33 L941.70,1336.13 L942.70,1335.93 L943.70,1335.74 L944.70,1335.55 L945.70,1335.37 L946.70,1335.19 L947.70,1335.01 L948.70,1334.83 L949.70,1334.66 L950.70,1334.49 L951.70,1334.33 L952.70,1334.16 L953.70,1334.00 L954.70,1333.85 L955.70,1333.69 L956.70,1333.54 L957.70,1333.39 L958.70,1333.24 L959.70,1333.10 L960.70,1332.96 L961.70,1332.82 L962.70,1332.69 L963.70,1332.55 L964.70,1332.42 L965.70,1332.29 L966.70,1332.17 L967.70,1332.04 L968.70,1331.92 L969.70,1331.80 L970.70,1331.68 L971.70,1331.57 L972.70,1331.45 L973.70,1331.34 L974.70,1331.23 L975.70,1331.12 L976.70,1331.02 L977.70,1330.91 L978.70,1330.81 L979.70,1330.71 L980.70,1330.61 L981.70,1330.52 L982.70,1330.42 L983.70,1330.33 L984.70,1330.24 L985.70,1330.14 L986.70,1330.06 L987.70,1329.97 L988.70,1329.88 L989.70,1329.80 L990.70,1329.72 L991.70,1329.64 L992.70,1329.56 L993.70,1329.48 L994.70,1329.40 L995.70,1329.33 L996.70,1329.25 L997.70,1329.18 L998.70,1329.11 L999.70,1329.04 L1000.70,1328.97 L1001.70,1328.90 L1002.70,1328.83 L1003.70,1328.77 L1004.70,1328.70 L1005.70,1328.64 L1006.70,1328.58 L1007.70,1328.51 L1008.70,1328.45 L1009.70,1328.39 L1010.70,1328.34 L1011.70,1328.28 L1012.70,1328.22 L1013.70,1328.17 L1014.70,1328.11 L1015.70,1328.06 L1016.70,1328.01 L1017.70,1327.96 L1018.70,1327.91 L1019.70,1327.86 L1020.70,1327.81 L1021.70,1327.76 L1022.70,1327.71 L1023.70,1327.66 L1024.70,1327.62 L1025.70,1327.57 L1026.70,1327.53 L1027.70,1327.49 L1028.70,1327.44 L1029.70,1327.40 L1030.70,1327.36 L1031.70,1327.32 L1032.70,1327.28 L1033.70,1327.24 L1034.70,1327.20 L1035.70,1327.16 L1036.70,1327.12 L1037.70,1327.09 L1038.70,1327.05 L1039.70,1327.02 L1040.70,1326.98 L1041.70,1326.95 L1042.70,1326.91 L1043.70,1326.88 L1044.70,1326.85 L1045.70,1326.81 L1046.70,1326.78 L1047.70,1326.75 L1048.70,1326.72 L1049.70,1326.69 L1050.70,1326.66 L1051.70,1326.63 L1052.70,1326.60 L1053.70,1326.57 L1054.70,1326.54 L1055.70,1326.52 L1056.70,1326.49 L1057.70,1326.46 L1058.70,1326.44 L1059.70,1326.41 L1060.70,1326.38 L1061.70,1326.36 L1062.70,1326.33 L1063.70,1326.31 L1064.70,1326.29 L1065.70,1326.26 L1066.70,1326.24 L1067.70,1326.22 L1068.70,1326.19 L1069.70,1326.17 L1070.70,1326.15 L1071.70,1326.13 L1072.70,1326.11 L1073.70,1326.09 L1074.70,1326.07 L1075.70,1326.05 L1076.70,1326.03 L1077.70,1326.01 L1078.70,1325.99 L1079.70,1325.97 L1080.70,1325.95 L1081.70,1325.93 L1082.70,1325.91 L1083.70,1325.89 L1084.70,1325.88 L1085.70,1325.86 L1086.70,1325.84 L1087.70,1325.82 L1088.70,1325.81 L1089.70,1325.79 L1090.70,1325.77 L1091.70,1325.76 L1092.70,1325.74 L1093.70,1325.73 L1094.70,1325.71 L1095.70,1325.70 L1096.70,1325.68 L1097.70,1325.67 L1098.70,1325.65 L1099.70,1325.64 L1100.70,1325.62 L1101.70,1325.61 L1102.70,1325.59 L1103.70,1325.58 L1104.70,1325.57 L1105.70,1325.55 L1106.70,1325.54 L1107.70,1325.53 L1108.70,1325.51 L1109.70,1325.50 L1110.70,1325.49 L1111.70,1325.48 L1112.70,1325.46 L1113.70,1325.45 L1114.70,1325.44 L1115.70,1325.43 L1116.70,1325.42 L1117.70,1325.40 L1118.70,1325.39 L1119.70,1325.38 L1120.70,1325.37 L1121.70,1325.36 L1122.70,1325.35 L1123.70,1325.34 L1124.70,1325.33 L1125.70,1325.32 L1126.70,1325.31 L1127.70,1325.30 L1128.70,1325.29 L1129.70,1325.28 L1130.70,1325.27 L1131.70,1325.26 L1132.70,1325.25 L1133.70,1325.24 L1134.70,1325.23 L1135.70,1325.22 L1136.70,1325.21 L1137.70,1325.20 L1138.70,1325.19 L1139.70,1325.18 L1140.70,1325.17 L1141.70,1325.16 L1142.70,1325.15 L1143.70,1325.15 L1144.70,1325.14 L1145.70,1325.13 L1146.70,1325.12 L1147.70,1325.11 L1148.70,1325.10 L1149.70,1325.10 L1150.70,1325.09 L1151.70,1325.08 L1152.70,1325.07 L1153.70,1325.06 L1154.70,1325.06 L1155.70,1325.05 L1156.70,1325.04 L1157.70,1325.03 L1158.70,1325.02 L1159.70,1325.02 L1160.70,1325.01 L1161.70,1325.00 L1162.70,1325.00 L1163.70,1324.99 L1164.70,1324.98 L1165.70,1324.97 L1166.70,1324.97 L1167.70,1324.96 L1168.70,1324.95 L1169.70,1324.95 L1170.70,1324.94 L1171.70,1324.93 L1172.70,1324.92 L1173.70,1324.92 L1174.70,1324.91 L1175.70,1324.90 L1176.70,1324.90 L1177.70,1324.89 L1178.70,1324.89 L1179.70,1324.88 L1180.70,1324.87 L1181.70,1324.87 L1182.70,1324.86 L1183.70,1324.85 L1184.70,1324.85 L1185.70,1324.84 L1186.70,1324.83 L1187.70,1324.83 L1188.70,1324.82 L1189.70,1324.82 L1190.70,1324.81 L1191.70,1324.80 L1192.70,1324.80 L1193.70,1324.79 L1194.70,1324.79 L1195.70,1324.78 L1196.70,1324.77 L1197.70,1324.77 L1198.70,1324.76 L1199.70,1324.76 L1200.70,1324.75 L1201.70,1324.75 L1202.70,1324.74 L1203.70,1324.73 L1204.70,1324.73 L1205.70,1324.72 L1206.70,1324.72 L1207.70,1324.71 L1208.70,1324.71 L1209.70,1324.70 L1210.70,1324.70 L1211.70,1324.69 L1212.70,1324.69 L1213.70,1324.68 L1214.70,1324.67 L1215.70,1324.67 L1216.70,1324.66 L1217.70,1324.66 L1218.70,1324.65 L1219.70,1324.65 L1220.70,1324.64 L1221.70,1324.64 L1222.70,1324.63 L1223.70,1324.63 L1224.70,1324.62 L1225.70,1324.62 L1226.70,1324.61 L1227.70,1324.61 L1228.70,1324.60 L1229.70,1324.60 L1230.70,1324.59 L1231.70,1324.59 L1232.70,1324.58 L1233.70,1324.58 L1234.70,1324.57 L1235.70,1324.57 L1236.70,1324.56 L1237.70,1324.56 L1238.70,1324.55 L1239.70,1324.55 L1240.70,1324.54 L1241.70,1324.54 L1242.70,1324.53 L1243.70,1324.53 L1244.70,1324.52 L1245.70,1324.52 L1246.70,1324.51 L1247.70,1324.51 L1247.70,1324.51" fill="none" stroke="#0065AB" stroke-width="3.35" stroke-linejoin="round" stroke-linecap="butt"/>
<path d="M938.70,956.07 L939.00,954.96 L939.30,953.87 L939.60,952.78 L939.90,951.71 L940.20,950.64 L940.50,949.58 L940.80,948.54 L941.10,947.50 L941.40,946.47 L941.70,945.45 L942.00,944.44 L942.30,943.44 L942.60,942.45 L942.90,941.46 L943.20,940.49 L943.50,939.52 L943.80,938.57 L944.15,937.46 L944.50,936.37 L944.85,935.28 L945.20,934.21 L945.55,933.15 L945.90,932.10 L946.25,931.07 L946.60,930.04 L946.95,929.02 L947.30,928.01 L947.65,927.02 L948.00,926.03 L948.35,925.06 L948.70,924.09 L949.05,923.14 L949.40,922.19 L949.80,921.12 L950.20,920.07 L950.60,919.03 L951.00,917.99 L951.40,916.98 L951.80,915.97 L952.20,914.97 L952.60,913.99 L953.00,913.02 L953.40,912.06 L953.80,911.11 L954.20,910.17 L954.60,909.24 L955.05,908.21 L955.50,907.20 L955.95,906.20 L956.40,905.21 L956.85,904.23 L957.30,903.26 L957.75,902.31 L958.20,901.37 L958.65,900.45 L959.10,899.53 L959.55,898.63 L960.05,897.64 L960.55,896.66 L961.05,895.70 L961.55,894.76 L962.05,893.82 L962.55,892.90 L963.05,892.00 L963.55,891.10 L964.05,890.22 L964.55,889.35 L965.10,888.41 L965.65,887.49 L966.20,886.57 L966.75,885.68 L967.30,884.79 L967.85,883.92 L968.40,883.07 L969.20,881.85 L970.20,880.36 L971.20,878.91 L972.20,877.51 L973.20,876.14 L974.20,874.81 L975.20,873.52 L976.20,872.27 L977.20,871.05 L978.20,869.86 L979.20,868.71 L980.20,867.59 L981.20,866.49 L982.20,865.43 L983.20,864.40 L984.20,863.40 L985.20,862.42 L986.20,861.47 L987.20,860.54 L988.20,859.64 L989.20,858.77 L990.20,857.92 L991.20,857.09 L992.20,856.28 L993.20,855.49 L994.20,854.73 L995.20,853.98 L996.20,853.26 L997.20,852.55 L998.20,851.87 L999.20,851.20 L1000.20,850.55 L1001.20,849.91 L1002.20,849.29 L1003.20,848.69 L1004.20,848.11 L1005.20,847.54 L1006.20,846.98 L1007.20,846.44 L1008.20,845.91 L1009.20,845.39 L1010.20,844.89 L1011.20,844.40 L1012.20,843.93 L1013.20,843.46 L1014.20,843.01 L1015.20,842.57 L1016.20,842.14 L1017.20,841.72 L1018.20,841.31 L1019.20,840.91 L1020.20,840.52 L1021.20,840.14 L1022.20,839.77 L1023.20,839.41 L1024.20,839.06 L1025.20,838.71 L1026.20,838.38 L1027.20,838.05 L1028.20,837.73 L1029.20,837.42 L1030.20,837.12 L1031.20,836.82 L1032.20,836.53 L1033.20,836.25 L1034.20,835.97 L1035.20,835.70 L1036.20,835.44 L1037.20,835.18 L1038.20,834.93 L1039.20,834.69 L1040.20,834.45 L1041.20,834.22 L1042.20,833.99 L1043.20,833.76 L1044.20,833.55 L1045.20,833.33 L1046.20,833.13 L1047.20,832.92 L1048.20,832.73 L1049.20,832.53 L1050.20,832.34 L1051.20,832.16 L1052.20,831.98 L1053.20,831.80 L1054.20,831.63 L1055.20,831.46 L1056.20,831.29 L1057.20,831.13 L1058.20,830.97 L1059.20,830.82 L1060.20,830.67 L1061.20,830.52 L1062.20,830.37 L1063.20,830.23 L1064.20,830.10 L1065.20,829.96 L1066.20,829.83 L1067.20,829.70 L1068.20,829.57 L1069.20,829.45 L1070.20,829.33 L1071.20,829.21 L1072.20,829.09 L1073.20,828.98 L1074.20,828.87 L1075.20,828.76 L1076.20,828.65 L1077.20,828.55 L1078.20,828.45 L1079.20,828.35 L1080.20,828.25 L1081.20,828.15 L1082.20,828.06 L1083.20,827.97 L1084.20,827.88 L1085.20,827.79 L1086.20,827.70 L1087.20,827.62 L1088.20,827.54 L1089.20,827.45 L1090.20,827.37 L1091.20,827.30 L1092.20,827.22 L1093.20,827.15 L1094.20,827.07 L1095.20,827.00 L1096.20,826.93 L1097.20,826.86 L1098.20,826.80 L1099.20,826.73 L1100.20,826.66 L1101.20,826.60 L1102.20,826.54 L1103.20,826.48 L1104.20,826.42 L1105.20,826.36 L1106.20,826.30 L1107.20,826.25 L1108.20,826.19 L1109.20,826.14 L1110.20,826.08 L1111.20,826.03 L1112.20,825.98 L1113.20,825.93 L1114.20,825.88 L1115.20,825.83 L1116.20,825.79 L1117.20,825.74 L1118.20,825.69 L1119.20,825.65 L1120.20,825.61 L1121.20,825.56 L1122.20,825.52 L1123.20,825.48 L1124.20,825.44 L1125.20,825.40 L1126.20,825.36 L1127.20,825.32 L1128.20,825.29 L1129.20,825.25 L1130.20,825.21 L1131.20,825.18 L1132.20,825.14 L1133.20,825.11 L1134.20,825.08 L1135.20,825.04 L1136.20,825.01 L1137.20,824.98 L1138.20,824.95 L1139.20,824.92 L1140.20,824.89 L1141.20,824.86 L1142.20,824.83 L1143.20,824.80 L1144.20,824.78 L1145.20,824.75 L1146.20,824.72 L1147.20,824.70 L1148.20,824.67 L1149.20,824.64 L1150.20,824.62 L1151.20,824.60 L1152.20,824.57 L1153.20,824.55 L1154.20,824.53 L1155.20,824.50 L1156.20,824.48 L1157.20,824.46 L1158.20,824.44 L1159.20,824.42 L1160.20,824.40 L1161.20,824.38 L1162.20,824.36 L1163.20,824.34 L1164.20,824.32 L1165.20,824.30 L1166.20,824.28 L1167.20,824.26 L1168.20,824.24 L1169.20,824.23 L1170.20,824.21 L1171.20,824.19 L1172.20,824.18 L1173.20,824.16 L1174.20,824.14 L1175.20,824.13 L1176.20,824.11 L1177.20,824.10 L1178.20,824.08 L1179.20,824.07 L1180.20,824.05 L1181.20,824.04 L1182.20,824.03 L1183.20,824.01 L1184.20,824.00 L1185.20,823.99 L1186.20,823.97 L1187.20,823.96 L1188.20,823.95 L1189.20,823.94 L1190.20,823.92 L1191.20,823.91 L1192.20,823.90 L1193.20,823.89 L1194.20,823.88 L1195.20,823.87 L1196.20,823.86 L1197.20,823.85 L1198.20,823.84 L1199.20,823.83 L1200.20,823.82 L1201.20,823.81 L1202.20,823.80 L1203.20,823.79 L1204.20,823.78 L1205.20,823.77 L1206.20,823.76 L1207.20,823.75 L1208.20,823.74 L1209.20,823.73 L1210.20,823.72 L1211.20,823.72 L1212.20,823.71 L1213.20,823.70 L1214.20,823.69 L1215.20,823.68 L1216.20,823.68 L1217.20,823.67 L1218.20,823.66 L1219.20,823.65 L1220.20,823.65 L1221.20,823.64 L1222.20,823.63 L1223.20,823.63 L1224.20,823.62 L1225.20,823.61 L1226.20,823.61 L1227.20,823.60 L1228.20,823.59 L1229.20,823.59 L1230.20,823.58 L1231.20,823.58 L1232.20,823.57 L1233.20,823.57 L1234.20,823.56 L1235.20,823.55 L1236.20,823.55 L1237.20,823.54 L1238.20,823.54 L1239.20,823.53 L1240.20,823.53 L1241.20,823.52 L1242.20,823.52 L1243.20,823.51 L1244.20,823.51 L1245.20,823.50 L1246.20,823.50 L1247.20,823.50 L1247.70,823.49" fill="none" stroke="#CD4A16" stroke-width="3.35" stroke-linejoin="round" stroke-linecap="butt"/>
<rect x="938.8" y="809.3" width="309.50" height="538.20" fill="none" stroke="#6e6e6e" stroke-width="1.7"/>
<text transform="translate(919.65,1353.50) scale(1.2200,1)" font-size="15.6" fill="#111" stroke="#111" stroke-width="0.218">0</text>
<text transform="translate(887.92,1276.61) scale(1.2200,1)" font-size="15.6" fill="#111" stroke="#111" stroke-width="0.218">2000</text>
<text transform="translate(887.92,1199.73) scale(1.2200,1)" font-size="15.6" fill="#111" stroke="#111" stroke-width="0.218">4000</text>
<text transform="translate(887.92,1122.84) scale(1.2200,1)" font-size="15.6" fill="#111" stroke="#111" stroke-width="0.218">6000</text>
<text transform="translate(887.92,1045.96) scale(1.2200,1)" font-size="15.6" fill="#111" stroke="#111" stroke-width="0.218">8000</text>
<text transform="translate(877.30,969.07) scale(1.2200,1)" font-size="15.6" fill="#111" stroke="#111" stroke-width="0.218">10000</text>
<text transform="translate(877.30,892.19) scale(1.2200,1)" font-size="15.6" fill="#111" stroke="#111" stroke-width="0.218">12000</text>
<text transform="translate(877.30,815.30) scale(1.2200,1)" font-size="15.6" fill="#111" stroke="#111" stroke-width="0.218">14000</text>
<text transform="translate(933.49,1369.90) scale(1.2200,1)" font-size="15.6" fill="#111" stroke="#111" stroke-width="0.218">0</text>
<text transform="translate(1002.95,1369.90) scale(1.2200,1)" font-size="15.6" fill="#111" stroke="#111" stroke-width="0.218">0.5</text>
<text transform="translate(1088.01,1369.90) scale(1.2200,1)" font-size="15.6" fill="#111" stroke="#111" stroke-width="0.218">1</text>
<text transform="translate(1157.36,1369.90) scale(1.2200,1)" font-size="15.6" fill="#111" stroke="#111" stroke-width="0.218">1.5</text>
<text transform="translate(1243.02,1369.90) scale(1.2200,1)" font-size="15.6" fill="#111" stroke="#111" stroke-width="0.218">2</text>
<path d="M938.8,1347.50h7M1248.3,1347.50h-7M938.8,1270.61h7M1248.3,1270.61h-7M938.8,1193.73h7M1248.3,1193.73h-7M938.8,1116.84h7M1248.3,1116.84h-7M938.8,1039.96h7M1248.3,1039.96h-7M938.8,963.07h7M1248.3,963.07h-7M938.8,886.19h7M1248.3,886.19h-7M938.8,809.30h7M1248.3,809.30h-7M938.80,1347.5v-5M938.80,809.3v5M1016.17,1347.5v-5M1016.17,809.3v5M1093.55,1347.5v-5M1093.55,809.3v5M1170.92,1347.5v-5M1170.92,809.3v5M1248.30,1347.5v-5M1248.30,809.3v5" stroke="#6e6e6e" stroke-width="1.7" fill="none"/>
<text transform="translate(1060.17,802.50) scale(1.3031,1)" font-size="16" font-weight="bold" fill="#111" stroke="#111" stroke-width="0.256">Oldest</text>
<text transform="translate(866.00,1131.00) rotate(-90) scale(1.0595,1.3808)" font-size="16" fill="#111" stroke="#111" stroke-width="0.224">Fatality count</text>
<text transform="translate(999.70,1392.60) scale(1.2880,1)" font-size="16.3" fill="#111" stroke="#111" stroke-width="0.228">Opinion spread rate</text>
<text transform="translate(1005.29,1413.10) scale(1.2880,1)" font-size="16.3" fill="#111" stroke="#111" stroke-width="0.228">in the oldest group</text>
<path d="M1198.00,1387.10l9.5,7.6M1207.50,1387.10l-9.5,7.6" stroke="#444" stroke-width="0.9" fill="none"/>
<text transform="translate(1211.11,1394.80) scale(1.2364,1)" font-size="15" fill="#111" stroke="#111" stroke-width="0.21">10</text>
<text transform="translate(1233.33,1387.30) scale(1.2975,1)" font-size="11.5" fill="#111" stroke="#111" stroke-width="0.161">-9</text>
<rect x="1139.6" y="837" width="97" height="54" fill="#fff" stroke="#666" stroke-width="1.1"/>
<path d="M1147.60,852.00h56.50" stroke="#0065AB" stroke-width="3"/>
<path d="M1147.60,876.30h56.50" stroke="#CD4A16" stroke-width="3"/>
<text transform="translate(1211.06,855.70) scale(1.1884,1)" font-size="13.6" fill="#111" stroke="#111" stroke-width="0.19">y</text>
<text transform="translate(1219.88,861.50) scale(1.2735,1)" font-size="11.6" fill="#111" stroke="#111" stroke-width="0.162">L</text>
<text transform="translate(1211.06,880.20) scale(1.1884,1)" font-size="13.6" fill="#111" stroke="#111" stroke-width="0.19">y</text>
<text transform="translate(1219.77,885.80) scale(1.3917,1)" font-size="11.6" fill="#111" stroke="#111" stroke-width="0.162">H</text>
<path d="M81.70,2123.90 L86.10,2120.60 L91.70,1999.14 L91.75,1998.06 L91.80,1997.00 L91.85,1995.96 L91.90,1994.94 L91.95,1993.94 L92.05,1992.00 L92.15,1990.13 L92.25,1988.34 L92.35,1986.62 L92.45,1984.96 L92.55,1983.37 L92.65,1981.83 L92.75,1980.36 L92.85,1978.94 L92.95,1977.57 L93.05,1976.25 L93.15,1974.98 L93.25,1973.75 L93.35,1972.57 L93.45,1971.43 L93.55,1970.33 L93.65,1969.27 L93.75,1968.25 L93.90,1966.78 L94.05,1965.39 L94.20,1964.06 L94.35,1962.80 L94.50,1961.60 L94.65,1960.46 L94.80,1959.37 L94.95,1958.33 L95.10,1957.33 L95.30,1956.08 L95.50,1954.90 L95.70,1953.78 L95.90,1952.72 L96.10,1951.72 L96.35,1950.54 L96.60,1949.44 L96.85,1948.40 L97.10,1947.42 L97.40,1946.31 L97.70,1945.28 L98.00,1944.30 L98.35,1943.24 L98.70,1942.24 L99.05,1941.30 L99.45,1940.28 L99.85,1939.33 L100.30,1938.33 L100.75,1937.38 L101.20,1936.48 L101.70,1935.54 L102.20,1934.65 L102.75,1933.72 L103.30,1932.84 L103.85,1932.00 L104.45,1931.13 L105.05,1930.31 L105.70,1929.45 L106.35,1928.64 L107.00,1927.86 L107.70,1927.07 L108.40,1926.31 L109.10,1925.58 L109.85,1924.83 L110.60,1924.12 L111.35,1923.44 L112.15,1922.75 L112.95,1922.09 L113.75,1921.46 L114.55,1920.85 L115.40,1920.23 L116.25,1919.64 L117.10,1919.07 L117.95,1918.53 L118.85,1917.98 L119.75,1917.44 L120.65,1916.93 L121.55,1916.44 L122.70,1915.84 L123.70,1915.34 L124.70,1914.86 L125.70,1914.40 L126.70,1913.96 L127.70,1913.53 L128.70,1913.11 L129.70,1912.71 L130.70,1912.32 L131.70,1911.95 L132.70,1911.59 L133.70,1911.23 L134.70,1910.89 L135.70,1910.56 L136.70,1910.24 L137.70,1909.93 L138.70,1909.62 L139.70,1909.33 L140.70,1909.04 L141.70,1908.76 L142.70,1908.49 L143.70,1908.23 L144.70,1907.97 L145.70,1907.72 L146.70,1907.48 L147.70,1907.24 L148.70,1907.00 L149.70,1906.78 L150.70,1906.56 L151.70,1906.34 L152.70,1906.13 L153.70,1905.92 L154.70,1905.72 L155.70,1905.53 L156.70,1905.34 L157.70,1905.15 L158.70,1904.97 L159.70,1904.79 L160.70,1904.62 L161.70,1904.45 L162.70,1904.28 L163.70,1904.12 L164.70,1903.96 L165.70,1903.81 L166.70,1903.65 L167.70,1903.51 L168.70,1903.36 L169.70,1903.22 L170.70,1903.08 L171.70,1902.95 L172.70,1902.82 L173.70,1902.69 L174.70,1902.56 L175.70,1902.44 L176.70,1902.32 L177.70,1902.20 L178.70,1902.09 L179.70,1901.97 L180.70,1901.86 L181.70,1901.76 L182.70,1901.65 L183.70,1901.55 L184.70,1901.45 L185.70,1901.35 L186.70,1901.25 L187.70,1901.16 L188.70,1901.07 L189.70,1900.98 L190.70,1900.89 L191.70,1900.81 L192.70,1900.72 L193.70,1900.64 L194.70,1900.56 L195.70,1900.48 L196.70,1900.41 L197.70,1900.33 L198.70,1900.26 L199.70,1900.19 L200.70,1900.12 L201.70,1900.05 L202.70,1899.98 L203.70,1899.92 L204.70,1899.85 L205.70,1899.79 L206.70,1899.73 L207.70,1899.67 L208.70,1899.61 L209.70,1899.55 L210.70,1899.50 L211.70,1899.44 L212.70,1899.39 L213.70,1899.34 L214.70,1899.29 L215.70,1899.24 L216.70,1899.19 L217.70,1899.14 L218.70,1899.09 L219.70,1899.05 L220.70,1899.00 L221.70,1898.96 L222.70,1898.92 L223.70,1898.87 L224.70,1898.83 L225.70,1898.79 L226.70,1898.75 L227.70,1898.72 L228.70,1898.68 L229.70,1898.64 L230.70,1898.61 L231.70,1898.57 L232.70,1898.54 L233.70,1898.51 L234.70,1898.47 L235.70,1898.44 L236.70,1898.41 L237.70,1898.38 L238.70,1898.35 L239.70,1898.32 L240.70,1898.29 L241.70,1898.26 L242.70,1898.24 L243.70,1898.21 L244.70,1898.18 L245.70,1898.16 L246.70,1898.13 L247.70,1898.11 L248.70,1898.09 L249.70,1898.06 L250.70,1898.04 L251.70,1898.02 L252.70,1898.00 L253.70,1897.98 L254.70,1897.95 L255.70,1897.93 L256.70,1897.91 L257.70,1897.89 L258.70,1897.88 L259.70,1897.86 L260.70,1897.84 L261.70,1897.82 L262.70,1897.80 L263.70,1897.79 L264.70,1897.77 L265.70,1897.75 L266.70,1897.74 L267.70,1897.72 L268.70,1897.71 L269.70,1897.69 L270.70,1897.68 L271.70,1897.66 L272.70,1897.65 L273.70,1897.64 L274.70,1897.62 L275.70,1897.61 L276.70,1897.60 L277.70,1897.59 L278.70,1897.57 L279.70,1897.56 L280.70,1897.55 L281.70,1897.54 L282.70,1897.53 L283.70,1897.52 L284.70,1897.51 L285.70,1897.50 L286.70,1897.49 L287.70,1897.48 L288.70,1897.47 L289.70,1897.46 L290.70,1897.45 L291.70,1897.44 L292.70,1897.43 L293.70,1897.42 L294.70,1897.41 L295.70,1897.40 L296.70,1897.40 L297.70,1897.39 L298.70,1897.38 L299.70,1897.37 L300.70,1897.37 L301.70,1897.36 L302.70,1897.35 L303.70,1897.35 L304.70,1897.34 L305.70,1897.33 L306.70,1897.33 L307.70,1897.32 L308.70,1897.31 L309.70,1897.31 L310.70,1897.30 L311.70,1897.30 L312.70,1897.29 L313.70,1897.28 L314.70,1897.28 L315.70,1897.27 L316.70,1897.27 L317.70,1897.26 L318.70,1897.26 L319.70,1897.25 L320.70,1897.25 L321.70,1897.24 L322.70,1897.24 L323.70,1897.24 L324.70,1897.23 L325.70,1897.23 L326.70,1897.22 L327.70,1897.22 L328.70,1897.21 L329.70,1897.21 L330.70,1897.21 L331.70,1897.20 L332.70,1897.20 L333.70,1897.20 L334.70,1897.19 L335.70,1897.19 L336.70,1897.19 L337.70,1897.18 L338.70,1897.18 L339.70,1897.18 L340.70,1897.17 L341.70,1897.17 L342.70,1897.17 L343.70,1897.17 L344.70,1897.16 L345.70,1897.16 L346.70,1897.16 L347.70,1897.15 L348.70,1897.15 L349.70,1897.15 L350.70,1897.15 L351.70,1897.14 L352.70,1897.14 L353.70,1897.14 L354.70,1897.14 L355.70,1897.14 L356.70,1897.13 L357.70,1897.13 L358.70,1897.13 L359.70,1897.13 L360.70,1897.13 L361.70,1897.12 L362.70,1897.12 L363.70,1897.12 L364.70,1897.12 L365.70,1897.12 L366.70,1897.12 L367.70,1897.11 L368.70,1897.11 L369.70,1897.11 L370.70,1897.11 L371.70,1897.11 L372.70,1897.11 L373.70,1897.10 L374.70,1897.10 L375.70,1897.10 L376.70,1897.10 L377.70,1897.10 L378.70,1897.10 L379.70,1897.10 L380.70,1897.10 L381.70,1897.09 L382.70,1897.09 L383.70,1897.09 L384.70,1897.09 L385.70,1897.09 L386.70,1897.09 L387.70,1897.09 L388.70,1897.09 L389.70,1897.09 L390.70,1897.08 L391.70,1897.08 L392.70,1897.08 L393.70,1897.08 L394.70,1897.08 L395.70,1897.08 L396.70,1897.08 L397.70,1897.08 L398.70,1897.08 L399.40,1897.08" fill="none" stroke="#0065AB" stroke-width="3.35" stroke-linejoin="round" stroke-linecap="butt"/>
<path d="M81.80,1812.07 L81.95,1810.63 L82.10,1809.21 L82.25,1807.81 L82.40,1806.43 L82.55,1805.07 L82.70,1803.73 L82.85,1802.40 L83.00,1801.10 L83.15,1799.81 L83.30,1798.53 L83.45,1797.28 L83.60,1796.04 L83.75,1794.82 L83.90,1793.61 L84.05,1792.42 L84.20,1791.25 L84.35,1790.09 L84.50,1788.95 L84.65,1787.82 L84.80,1786.70 L84.95,1785.60 L85.10,1784.52 L85.25,1783.45 L85.40,1782.39 L85.55,1781.34 L85.70,1780.31 L85.85,1779.29 L86.00,1778.29 L86.15,1777.29 L86.35,1775.99 L86.55,1774.70 L86.75,1773.44 L86.95,1772.20 L87.15,1770.98 L87.35,1769.77 L87.55,1768.59 L87.75,1767.43 L87.95,1766.28 L88.15,1765.15 L88.35,1764.04 L88.55,1762.95 L88.75,1761.87 L88.95,1760.81 L89.15,1759.77 L89.35,1758.74 L89.55,1757.73 L89.75,1756.73 L89.95,1755.75 L90.20,1754.54 L90.45,1753.35 L90.70,1752.19 L90.95,1751.05 L91.20,1749.92 L91.45,1748.82 L91.70,1747.73 L91.95,1746.67 L92.20,1745.62 L92.45,1744.59 L92.70,1743.58 L92.95,1742.58 L93.20,1741.60 L93.50,1740.45 L93.80,1739.32 L94.10,1738.21 L94.40,1737.12 L94.70,1736.05 L95.00,1735.01 L95.30,1733.98 L95.60,1732.97 L95.90,1731.97 L96.20,1731.00 L96.50,1730.04 L96.85,1728.94 L97.20,1727.87 L97.55,1726.82 L97.90,1725.78 L98.25,1724.77 L98.60,1723.78 L98.95,1722.80 L99.30,1721.84 L99.65,1720.90 L100.05,1719.84 L100.45,1718.81 L100.85,1717.80 L101.25,1716.80 L101.65,1715.83 L102.05,1714.87 L102.45,1713.93 L102.85,1713.01 L103.30,1711.99 L103.75,1710.99 L104.20,1710.01 L104.65,1709.05 L105.10,1708.11 L105.55,1707.18 L106.00,1706.27 L106.50,1705.28 L107.00,1704.31 L107.50,1703.36 L108.00,1702.42 L108.50,1701.50 L109.00,1700.60 L109.50,1699.72 L110.00,1698.84 L110.55,1697.90 L111.10,1696.98 L111.65,1696.07 L112.30,1695.02 L113.30,1693.45 L114.30,1691.92 L115.30,1690.44 L116.30,1689.00 L117.30,1687.60 L118.30,1686.24 L119.30,1684.92 L120.30,1683.63 L121.30,1682.38 L122.30,1681.15 L123.30,1679.96 L124.30,1678.80 L125.30,1677.67 L126.30,1676.56 L127.30,1675.48 L128.30,1674.42 L129.30,1673.39 L130.30,1672.39 L131.30,1671.40 L132.30,1670.44 L133.30,1669.50 L134.30,1668.58 L135.30,1667.68 L136.30,1666.81 L137.30,1665.95 L138.30,1665.11 L139.30,1664.28 L140.30,1663.48 L141.30,1662.69 L142.30,1661.92 L143.30,1661.17 L144.30,1660.43 L145.30,1659.71 L146.30,1659.01 L147.30,1658.31 L148.30,1657.64 L149.30,1656.98 L150.30,1656.33 L151.30,1655.69 L152.30,1655.07 L153.30,1654.47 L154.30,1653.87 L155.30,1653.29 L156.30,1652.72 L157.30,1652.16 L158.30,1651.62 L159.30,1651.08 L160.30,1650.56 L161.30,1650.05 L162.30,1649.54 L163.30,1649.05 L164.30,1648.57 L165.30,1648.10 L166.30,1647.64 L167.30,1647.19 L168.30,1646.75 L169.30,1646.31 L170.30,1645.89 L171.30,1645.48 L172.30,1645.07 L173.30,1644.67 L174.30,1644.28 L175.30,1643.90 L176.30,1643.53 L177.30,1643.17 L178.30,1642.81 L179.30,1642.46 L180.30,1642.12 L181.30,1641.78 L182.30,1641.45 L183.30,1641.13 L184.30,1640.82 L185.30,1640.51 L186.30,1640.21 L187.30,1639.91 L188.30,1639.62 L189.30,1639.34 L190.30,1639.06 L191.30,1638.79 L192.30,1638.52 L193.30,1638.26 L194.30,1638.01 L195.30,1637.76 L196.30,1637.51 L197.30,1637.28 L198.30,1637.04 L199.30,1636.81 L200.30,1636.59 L201.30,1636.37 L202.30,1636.15 L203.30,1635.94 L204.30,1635.74 L205.30,1635.53 L206.30,1635.34 L207.30,1635.14 L208.30,1634.95 L209.30,1634.77 L210.30,1634.59 L211.30,1634.41 L212.30,1634.23 L213.30,1634.06 L214.30,1633.90 L215.30,1633.73 L216.30,1633.57 L217.30,1633.42 L218.30,1633.26 L219.30,1633.11 L220.30,1632.97 L221.30,1632.82 L222.30,1632.68 L223.30,1632.54 L224.30,1632.41 L225.30,1632.27 L226.30,1632.15 L227.30,1632.02 L228.30,1631.89 L229.30,1631.77 L230.30,1631.65 L231.30,1631.54 L232.30,1631.42 L233.30,1631.31 L234.30,1631.20 L235.30,1631.09 L236.30,1630.99 L237.30,1630.89 L238.30,1630.79 L239.30,1630.69 L240.30,1630.59 L241.30,1630.50 L242.30,1630.41 L243.30,1630.31 L244.30,1630.23 L245.30,1630.14 L246.30,1630.05 L247.30,1629.97 L248.30,1629.89 L249.30,1629.81 L250.30,1629.73 L251.30,1629.66 L252.30,1629.58 L253.30,1629.51 L254.30,1629.44 L255.30,1629.37 L256.30,1629.30 L257.30,1629.23 L258.30,1629.16 L259.30,1629.10 L260.30,1629.04 L261.30,1628.98 L262.30,1628.91 L263.30,1628.86 L264.30,1628.80 L265.30,1628.74 L266.30,1628.69 L267.30,1628.63 L268.30,1628.58 L269.30,1628.53 L270.30,1628.47 L271.30,1628.42 L272.30,1628.38 L273.30,1628.33 L274.30,1628.28 L275.30,1628.23 L276.30,1628.19 L277.30,1628.15 L278.30,1628.10 L279.30,1628.06 L280.30,1628.02 L281.30,1627.98 L282.30,1627.94 L283.30,1627.90 L284.30,1627.86 L285.30,1627.82 L286.30,1627.79 L287.30,1627.75 L288.30,1627.72 L289.30,1627.68 L290.30,1627.65 L291.30,1627.62 L292.30,1627.58 L293.30,1627.55 L294.30,1627.52 L295.30,1627.49 L296.30,1627.46 L297.30,1627.43 L298.30,1627.41 L299.30,1627.38 L300.30,1627.35 L301.30,1627.32 L302.30,1627.30 L303.30,1627.27 L304.30,1627.25 L305.30,1627.22 L306.30,1627.20 L307.30,1627.18 L308.30,1627.15 L309.30,1627.13 L310.30,1627.11 L311.30,1627.09 L312.30,1627.07 L313.30,1627.05 L314.30,1627.03 L315.30,1627.01 L316.30,1626.99 L317.30,1626.97 L318.30,1626.95 L319.30,1626.93 L320.30,1626.91 L321.30,1626.90 L322.30,1626.88 L323.30,1626.86 L324.30,1626.85 L325.30,1626.83 L326.30,1626.81 L327.30,1626.80 L328.30,1626.78 L329.30,1626.77 L330.30,1626.76 L331.30,1626.74 L332.30,1626.73 L333.30,1626.71 L334.30,1626.70 L335.30,1626.69 L336.30,1626.68 L337.30,1626.66 L338.30,1626.65 L339.30,1626.64 L340.30,1626.63 L341.30,1626.62 L342.30,1626.60 L343.30,1626.59 L344.30,1626.58 L345.30,1626.57 L346.30,1626.56 L347.30,1626.55 L348.30,1626.54 L349.30,1626.53 L350.30,1626.52 L351.30,1626.51 L352.30,1626.51 L353.30,1626.50 L354.30,1626.49 L355.30,1626.48 L356.30,1626.47 L357.30,1626.46 L358.30,1626.45 L359.30,1626.45 L360.30,1626.44 L361.30,1626.43 L362.30,1626.42 L363.30,1626.42 L364.30,1626.41 L365.30,1626.40 L366.30,1626.40 L367.30,1626.39 L368.30,1626.38 L369.30,1626.38 L370.30,1626.37 L371.30,1626.37 L372.30,1626.36 L373.30,1626.35 L374.30,1626.35 L375.30,1626.34 L376.30,1626.34 L377.30,1626.33 L378.30,1626.33 L379.30,1626.32 L380.30,1626.32 L381.30,1626.31 L382.30,1626.31 L383.30,1626.30 L384.30,1626.30 L385.30,1626.29 L386.30,1626.29 L387.30,1626.28 L388.30,1626.28 L389.30,1626.28 L390.30,1626.27 L391.30,1626.27 L392.30,1626.26 L393.30,1626.26 L394.30,1626.26 L395.30,1626.25 L396.30,1626.25 L397.30,1626.25 L398.30,1626.24 L398.40,1626.24" fill="none" stroke="#CD4A16" stroke-width="3.35" stroke-linejoin="round" stroke-linecap="butt"/>
<rect x="81.5" y="1613.8" width="318.00" height="514.00" fill="none" stroke="#6e6e6e" stroke-width="1.7"/>
<text transform="translate(60.65,2133.80) scale(1.2200,1)" font-size="15.6" fill="#111" stroke="#111" stroke-width="0.218">0</text>
<text transform="translate(39.48,2060.37) scale(1.2200,1)" font-size="15.6" fill="#111" stroke="#111" stroke-width="0.218">200</text>
<text transform="translate(39.48,1986.94) scale(1.2200,1)" font-size="15.6" fill="#111" stroke="#111" stroke-width="0.218">400</text>
<text transform="translate(39.48,1913.51) scale(1.2200,1)" font-size="15.6" fill="#111" stroke="#111" stroke-width="0.218">600</text>
<text transform="translate(39.48,1840.09) scale(1.2200,1)" font-size="15.6" fill="#111" stroke="#111" stroke-width="0.218">800</text>
<text transform="translate(28.92,1766.66) scale(1.2200,1)" font-size="15.6" fill="#111" stroke="#111" stroke-width="0.218">1000</text>
<text transform="translate(28.92,1693.23) scale(1.2200,1)" font-size="15.6" fill="#111" stroke="#111" stroke-width="0.218">1200</text>
<text transform="translate(28.92,1619.80) scale(1.2200,1)" font-size="15.6" fill="#111" stroke="#111" stroke-width="0.218">1400</text>
<text transform="translate(76.19,2150.20) scale(1.2200,1)" font-size="15.6" fill="#111" stroke="#111" stroke-width="0.218">0</text>
<text transform="translate(147.77,2150.20) scale(1.2200,1)" font-size="15.6" fill="#111" stroke="#111" stroke-width="0.218">0.5</text>
<text transform="translate(234.96,2150.20) scale(1.2200,1)" font-size="15.6" fill="#111" stroke="#111" stroke-width="0.218">1</text>
<text transform="translate(306.44,2150.20) scale(1.2200,1)" font-size="15.6" fill="#111" stroke="#111" stroke-width="0.218">1.5</text>
<text transform="translate(394.22,2150.20) scale(1.2200,1)" font-size="15.6" fill="#111" stroke="#111" stroke-width="0.218">2</text>
<path d="M81.5,2127.80h7M399.5,2127.80h-7M81.5,2054.37h7M399.5,2054.37h-7M81.5,1980.94h7M399.5,1980.94h-7M81.5,1907.51h7M399.5,1907.51h-7M81.5,1834.09h7M399.5,1834.09h-7M81.5,1760.66h7M399.5,1760.66h-7M81.5,1687.23h7M399.5,1687.23h-7M81.5,1613.80h7M399.5,1613.80h-7M81.50,2127.8v-5M81.50,1613.8v5M161.00,2127.8v-5M161.00,1613.8v5M240.50,2127.8v-5M240.50,1613.8v5M320.00,2127.8v-5M320.00,1613.8v5M399.50,2127.8v-5M399.50,1613.8v5" stroke="#6e6e6e" stroke-width="1.7" fill="none"/>
<text transform="translate(192.02,1607.00) scale(1.3610,1)" font-size="16" font-weight="bold" fill="#111" stroke="#111" stroke-width="0.256">Youngest</text>
<text transform="translate(17.40,1923.83) rotate(-90) scale(1.0798,1.4081)" font-size="16" fill="#111" stroke="#111" stroke-width="0.224">Fatality count</text>
<text transform="translate(144.33,2173.40) scale(1.3205,1)" font-size="16.3" fill="#111" stroke="#111" stroke-width="0.228">Opinion spread rate</text>
<text transform="translate(180.52,2194.80) scale(1.3205,1)" font-size="16.3" fill="#111" stroke="#111" stroke-width="0.228">in all groups</text>
<path d="M349.20,2168.10l9.5,7.6M358.70,2168.10l-9.5,7.6" stroke="#444" stroke-width="0.9" fill="none"/>
<text transform="translate(362.31,2175.80) scale(1.2364,1)" font-size="15" fill="#111" stroke="#111" stroke-width="0.21">10</text>
<text transform="translate(384.53,2168.30) scale(1.2975,1)" font-size="11.5" fill="#111" stroke="#111" stroke-width="0.161">-9</text>
<rect x="284.4" y="1641.7" width="100.3" height="55.5" fill="#fff" stroke="#666" stroke-width="1.1"/>
<path d="M292.67,1657.12h58.42" stroke="#0065AB" stroke-width="3"/>
<path d="M292.67,1682.09h58.42" stroke="#CD4A16" stroke-width="3"/>
<text transform="translate(358.29,1660.92) scale(1.2288,1)" font-size="13.6" fill="#111" stroke="#111" stroke-width="0.19">y</text>
<text transform="translate(367.41,1666.88) scale(1.3168,1)" font-size="11.6" fill="#111" stroke="#111" stroke-width="0.162">L</text>
<text transform="translate(358.29,1686.10) scale(1.2288,1)" font-size="13.6" fill="#111" stroke="#111" stroke-width="0.19">y</text>
<text transform="translate(367.30,1691.86) scale(1.4390,1)" font-size="11.6" fill="#111" stroke="#111" stroke-width="0.162">H</text>
<path d="M500.30,2121.20 L505.00,2116.70 L511.20,1929.91 L511.25,1925.29 L511.30,1922.12 L511.35,1919.44 L511.40,1917.08 L511.45,1914.96 L511.50,1913.02 L511.55,1911.24 L511.60,1909.59 L511.65,1908.04 L511.70,1906.59 L511.75,1905.23 L511.80,1903.94 L511.85,1902.72 L511.90,1901.56 L511.95,1900.46 L512.00,1899.40 L512.05,1898.40 L512.15,1896.51 L512.25,1894.77 L512.35,1893.15 L512.45,1891.65 L512.55,1890.24 L512.65,1888.92 L512.75,1887.68 L512.85,1886.51 L512.95,1885.40 L513.05,1884.35 L513.15,1883.35 L513.30,1881.93 L513.45,1880.61 L513.60,1879.37 L513.75,1878.20 L513.90,1877.09 L514.05,1876.04 L514.20,1875.05 L514.40,1873.79 L514.60,1872.61 L514.80,1871.49 L515.00,1870.43 L515.20,1869.41 L515.45,1868.21 L515.70,1867.06 L515.95,1865.97 L516.20,1864.92 L516.45,1863.92 L516.70,1862.95 L517.00,1861.83 L517.30,1860.75 L517.60,1859.70 L517.90,1858.69 L518.20,1857.70 L518.50,1856.74 L518.85,1855.65 L519.20,1854.58 L519.55,1853.54 L519.90,1852.52 L520.25,1851.52 L520.60,1850.54 L520.95,1849.57 L521.30,1848.62 L521.70,1847.56 L522.10,1846.51 L522.50,1845.48 L522.90,1844.48 L523.30,1843.48 L523.70,1842.51 L524.10,1841.55 L524.50,1840.61 L524.90,1839.68 L525.35,1838.66 L525.80,1837.66 L526.25,1836.67 L526.70,1835.71 L527.15,1834.77 L527.60,1833.85 L528.05,1832.95 L528.55,1831.97 L529.05,1831.01 L529.55,1830.08 L530.05,1829.18 L530.55,1828.29 L531.10,1827.35 L531.65,1826.43 L532.20,1825.54 L532.75,1824.68 L533.30,1823.84 L533.90,1822.96 L534.50,1822.10 L535.10,1821.27 L535.75,1820.41 L536.40,1819.58 L537.05,1818.78 L537.70,1818.01 L538.40,1817.21 L539.10,1816.44 L539.80,1815.70 L540.55,1814.94 L541.70,1813.84 L542.70,1812.94 L543.70,1812.09 L544.70,1811.29 L545.70,1810.53 L546.70,1809.82 L547.70,1809.14 L548.70,1808.49 L549.70,1807.88 L550.70,1807.30 L551.70,1806.75 L552.70,1806.23 L553.70,1805.74 L554.70,1805.27 L555.70,1804.82 L556.70,1804.39 L557.70,1803.99 L558.70,1803.60 L559.70,1803.23 L560.70,1802.88 L561.70,1802.54 L562.70,1802.22 L563.70,1801.91 L564.70,1801.62 L565.70,1801.34 L566.70,1801.07 L567.70,1800.81 L568.70,1800.56 L569.70,1800.32 L570.70,1800.09 L571.70,1799.87 L572.70,1799.66 L573.70,1799.45 L574.70,1799.26 L575.70,1799.07 L576.70,1798.89 L577.70,1798.71 L578.70,1798.54 L579.70,1798.38 L580.70,1798.22 L581.70,1798.07 L582.70,1797.92 L583.70,1797.78 L584.70,1797.64 L585.70,1797.51 L586.70,1797.38 L587.70,1797.26 L588.70,1797.14 L589.70,1797.02 L590.70,1796.91 L591.70,1796.80 L592.70,1796.69 L593.70,1796.58 L594.70,1796.48 L595.70,1796.39 L596.70,1796.29 L597.70,1796.20 L598.70,1796.11 L599.70,1796.02 L600.70,1795.94 L601.70,1795.85 L602.70,1795.77 L603.70,1795.70 L604.70,1795.62 L605.70,1795.54 L606.70,1795.47 L607.70,1795.40 L608.70,1795.33 L609.70,1795.27 L610.70,1795.20 L611.70,1795.14 L612.70,1795.07 L613.70,1795.01 L614.70,1794.95 L615.70,1794.89 L616.70,1794.84 L617.70,1794.78 L618.70,1794.73 L619.70,1794.67 L620.70,1794.62 L621.70,1794.57 L622.70,1794.52 L623.70,1794.47 L624.70,1794.43 L625.70,1794.38 L626.70,1794.33 L627.70,1794.29 L628.70,1794.24 L629.70,1794.20 L630.70,1794.16 L631.70,1794.12 L632.70,1794.08 L633.70,1794.04 L634.70,1794.00 L635.70,1793.96 L636.70,1793.92 L637.70,1793.89 L638.70,1793.85 L639.70,1793.82 L640.70,1793.78 L641.70,1793.75 L642.70,1793.71 L643.70,1793.68 L644.70,1793.65 L645.70,1793.62 L646.70,1793.58 L647.70,1793.55 L648.70,1793.52 L649.70,1793.49 L650.70,1793.47 L651.70,1793.44 L652.70,1793.41 L653.70,1793.38 L654.70,1793.35 L655.70,1793.33 L656.70,1793.30 L657.70,1793.27 L658.70,1793.25 L659.70,1793.22 L660.70,1793.20 L661.70,1793.17 L662.70,1793.15 L663.70,1793.13 L664.70,1793.10 L665.70,1793.08 L666.70,1793.06 L667.70,1793.04 L668.70,1793.01 L669.70,1792.99 L670.70,1792.97 L671.70,1792.95 L672.70,1792.93 L673.70,1792.91 L674.70,1792.89 L675.70,1792.87 L676.70,1792.85 L677.70,1792.83 L678.70,1792.81 L679.70,1792.79 L680.70,1792.77 L681.70,1792.76 L682.70,1792.74 L683.70,1792.72 L684.70,1792.70 L685.70,1792.69 L686.70,1792.67 L687.70,1792.65 L688.70,1792.63 L689.70,1792.62 L690.70,1792.60 L691.70,1792.59 L692.70,1792.57 L693.70,1792.55 L694.70,1792.54 L695.70,1792.52 L696.70,1792.51 L697.70,1792.49 L698.70,1792.48 L699.70,1792.46 L700.70,1792.45 L701.70,1792.44 L702.70,1792.42 L703.70,1792.41 L704.70,1792.39 L705.70,1792.38 L706.70,1792.37 L707.70,1792.35 L708.70,1792.34 L709.70,1792.33 L710.70,1792.32 L711.70,1792.30 L712.70,1792.29 L713.70,1792.28 L714.70,1792.27 L715.70,1792.25 L716.70,1792.24 L717.70,1792.23 L718.70,1792.22 L719.70,1792.21 L720.70,1792.20 L721.70,1792.18 L722.70,1792.17 L723.70,1792.16 L724.70,1792.15 L725.70,1792.14 L726.70,1792.13 L727.70,1792.12 L728.70,1792.11 L729.70,1792.10 L730.70,1792.09 L731.70,1792.08 L732.70,1792.07 L733.70,1792.06 L734.70,1792.05 L735.70,1792.04 L736.70,1792.03 L737.70,1792.02 L738.70,1792.01 L739.70,1792.00 L740.70,1791.99 L741.70,1791.98 L742.70,1791.97 L743.70,1791.96 L744.70,1791.95 L745.70,1791.94 L746.70,1791.94 L747.70,1791.93 L748.70,1791.92 L749.70,1791.91 L750.70,1791.90 L751.70,1791.89 L752.70,1791.88 L753.70,1791.88 L754.70,1791.87 L755.70,1791.86 L756.70,1791.85 L757.70,1791.84 L758.70,1791.84 L759.70,1791.83 L760.70,1791.82 L761.70,1791.81 L762.70,1791.81 L763.70,1791.80 L764.70,1791.79 L765.70,1791.78 L766.70,1791.78 L767.70,1791.77 L768.70,1791.76 L769.70,1791.75 L770.70,1791.75 L771.70,1791.74 L772.70,1791.73 L773.70,1791.73 L774.70,1791.72 L775.70,1791.71 L776.70,1791.70 L777.70,1791.70 L778.70,1791.69 L779.70,1791.68 L780.70,1791.68 L781.70,1791.67 L782.70,1791.66 L783.70,1791.66 L784.70,1791.65 L785.70,1791.65 L786.70,1791.64 L787.70,1791.63 L788.70,1791.63 L789.70,1791.62 L790.70,1791.61 L791.70,1791.61 L792.70,1791.60 L793.70,1791.60 L794.70,1791.59 L795.70,1791.58 L796.70,1791.58 L797.70,1791.57 L798.70,1791.57 L799.70,1791.56 L800.70,1791.56 L801.70,1791.55 L802.70,1791.55 L803.70,1791.54 L804.70,1791.53 L805.70,1791.53 L806.70,1791.52 L807.70,1791.52 L808.70,1791.51 L809.70,1791.51 L810.70,1791.50 L811.70,1791.50 L812.70,1791.49 L813.70,1791.49 L814.70,1791.48 L815.70,1791.48 L816.70,1791.47 L817.40,1791.47" fill="none" stroke="#0065AB" stroke-width="3.35" stroke-linejoin="round" stroke-linecap="butt"/>
<path d="M500.50,1893.06 L500.60,1892.00 L500.70,1890.96 L500.80,1889.93 L500.90,1888.91 L501.00,1887.91 L501.15,1886.43 L501.30,1884.98 L501.45,1883.55 L501.60,1882.15 L501.75,1880.77 L501.90,1879.41 L502.05,1878.08 L502.20,1876.77 L502.35,1875.48 L502.50,1874.21 L502.65,1872.96 L502.80,1871.73 L502.95,1870.52 L503.10,1869.33 L503.25,1868.15 L503.40,1866.99 L503.55,1865.84 L503.70,1864.71 L503.85,1863.60 L504.00,1862.50 L504.15,1861.41 L504.30,1860.34 L504.45,1859.28 L504.60,1858.23 L504.75,1857.19 L504.90,1856.17 L505.05,1855.16 L505.20,1854.16 L505.35,1853.17 L505.55,1851.86 L505.75,1850.58 L505.95,1849.31 L506.15,1848.06 L506.35,1846.82 L506.55,1845.60 L506.75,1844.39 L506.95,1843.20 L507.15,1842.03 L507.35,1840.86 L507.55,1839.71 L507.75,1838.57 L507.95,1837.45 L508.15,1836.33 L508.35,1835.23 L508.55,1834.14 L508.75,1833.06 L508.95,1831.99 L509.15,1830.93 L509.35,1829.88 L509.55,1828.84 L509.75,1827.81 L509.95,1826.79 L510.15,1825.78 L510.35,1824.77 L510.55,1823.78 L510.75,1822.79 L511.00,1821.57 L511.25,1820.36 L511.50,1819.17 L511.75,1817.98 L512.00,1816.81 L512.25,1815.65 L512.50,1814.50 L512.75,1813.36 L513.00,1812.23 L513.25,1811.12 L513.50,1810.01 L513.75,1808.91 L514.00,1807.83 L514.25,1806.75 L514.50,1805.68 L514.75,1804.62 L515.00,1803.57 L515.25,1802.53 L515.50,1801.50 L515.75,1800.48 L516.00,1799.46 L516.25,1798.46 L516.50,1797.46 L516.75,1796.47 L517.00,1795.49 L517.25,1794.52 L517.55,1793.36 L517.85,1792.22 L518.15,1791.09 L518.45,1789.96 L518.75,1788.85 L519.05,1787.75 L519.35,1786.66 L519.65,1785.58 L519.95,1784.51 L520.25,1783.45 L520.55,1782.40 L520.85,1781.36 L521.15,1780.33 L521.45,1779.31 L521.75,1778.29 L522.05,1777.29 L522.35,1776.30 L522.65,1775.32 L522.95,1774.34 L523.25,1773.38 L523.55,1772.42 L523.90,1771.31 L524.25,1770.22 L524.60,1769.14 L524.95,1768.07 L525.30,1767.01 L525.65,1765.96 L526.00,1764.92 L526.35,1763.90 L526.70,1762.88 L527.05,1761.88 L527.40,1760.88 L527.75,1759.90 L528.10,1758.92 L528.45,1757.96 L528.80,1757.01 L529.15,1756.06 L529.55,1754.99 L529.95,1753.94 L530.35,1752.90 L531.00,1751.23 L531.50,1749.97 L532.00,1748.72 L532.50,1747.50 L533.00,1746.29 L533.50,1745.10 L534.00,1743.92 L534.50,1742.77 L535.00,1741.63 L535.50,1740.50 L536.00,1739.39 L536.50,1738.30 L537.00,1737.22 L537.50,1736.16 L538.00,1735.11 L538.50,1734.08 L539.00,1733.06 L539.50,1732.05 L540.00,1731.06 L540.50,1730.08 L541.00,1729.12 L541.50,1728.17 L542.00,1727.23 L542.50,1726.31 L543.00,1725.39 L543.50,1724.49 L544.00,1723.60 L544.50,1722.73 L545.50,1721.01 L546.50,1719.34 L547.50,1717.71 L548.50,1716.13 L549.50,1714.58 L550.50,1713.08 L551.50,1711.61 L552.50,1710.19 L553.50,1708.79 L554.50,1707.44 L555.50,1706.12 L556.50,1704.83 L557.50,1703.57 L558.50,1702.34 L559.50,1701.15 L560.50,1699.98 L561.50,1698.84 L562.50,1697.73 L563.50,1696.65 L564.50,1695.59 L565.50,1694.56 L566.50,1693.55 L567.50,1692.56 L568.50,1691.60 L569.50,1690.66 L570.50,1689.74 L571.50,1688.84 L572.50,1687.96 L573.50,1687.11 L574.50,1686.27 L575.50,1685.45 L576.50,1684.65 L577.50,1683.86 L578.50,1683.10 L579.50,1682.35 L580.50,1681.61 L581.50,1680.89 L582.50,1680.19 L583.50,1679.51 L584.50,1678.83 L585.50,1678.17 L586.50,1677.53 L587.50,1676.90 L588.50,1676.28 L589.50,1675.67 L590.50,1675.08 L591.50,1674.50 L592.50,1673.93 L593.50,1673.37 L594.50,1672.83 L595.50,1672.29 L596.50,1671.77 L597.50,1671.25 L598.50,1670.75 L599.50,1670.25 L600.50,1669.77 L601.50,1669.29 L602.50,1668.82 L603.50,1668.37 L604.50,1667.92 L605.50,1667.48 L606.50,1667.05 L607.50,1666.62 L608.50,1666.21 L609.50,1665.80 L610.50,1665.40 L611.50,1665.01 L612.50,1664.62 L613.50,1664.24 L614.50,1663.87 L615.50,1663.51 L616.50,1663.15 L617.50,1662.80 L618.50,1662.45 L619.50,1662.11 L620.50,1661.78 L621.50,1661.45 L622.50,1661.13 L623.50,1660.81 L624.50,1660.50 L625.50,1660.20 L626.50,1659.90 L627.50,1659.60 L628.50,1659.32 L629.50,1659.03 L630.50,1658.75 L631.50,1658.48 L632.50,1658.21 L633.50,1657.94 L634.50,1657.68 L635.50,1657.43 L636.50,1657.17 L637.50,1656.93 L638.50,1656.68 L639.50,1656.44 L640.50,1656.21 L641.50,1655.98 L642.50,1655.75 L643.50,1655.53 L644.50,1655.31 L645.50,1655.09 L646.50,1654.88 L647.50,1654.67 L648.50,1654.46 L649.50,1654.26 L650.50,1654.06 L651.50,1653.86 L652.50,1653.67 L653.50,1653.48 L654.50,1653.29 L655.50,1653.11 L656.50,1652.93 L657.50,1652.75 L658.50,1652.58 L659.50,1652.41 L660.50,1652.24 L661.50,1652.07 L662.50,1651.91 L663.50,1651.74 L664.50,1651.59 L665.50,1651.43 L666.50,1651.28 L667.50,1651.12 L668.50,1650.97 L669.50,1650.83 L670.50,1650.68 L671.50,1650.54 L672.50,1650.40 L673.50,1650.26 L674.50,1650.13 L675.50,1650.00 L676.50,1649.86 L677.50,1649.73 L678.50,1649.61 L679.50,1649.48 L680.50,1649.36 L681.50,1649.24 L682.50,1649.12 L683.50,1649.00 L684.50,1648.88 L685.50,1648.77 L686.50,1648.66 L687.50,1648.55 L688.50,1648.44 L689.50,1648.33 L690.50,1648.23 L691.50,1648.12 L692.50,1648.02 L693.50,1647.92 L694.50,1647.82 L695.50,1647.72 L696.50,1647.63 L697.50,1647.53 L698.50,1647.44 L699.50,1647.35 L700.50,1647.26 L701.50,1647.17 L702.50,1647.08 L703.50,1646.99 L704.50,1646.91 L705.50,1646.82 L706.50,1646.74 L707.50,1646.66 L708.50,1646.58 L709.50,1646.50 L710.50,1646.42 L711.50,1646.35 L712.50,1646.27 L713.50,1646.20 L714.50,1646.12 L715.50,1646.05 L716.50,1645.98 L717.50,1645.91 L718.50,1645.84 L719.50,1645.78 L720.50,1645.71 L721.50,1645.64 L722.50,1645.58 L723.50,1645.51 L724.50,1645.45 L725.50,1645.39 L726.50,1645.33 L727.50,1645.27 L728.50,1645.21 L729.50,1645.15 L730.50,1645.09 L731.50,1645.04 L732.50,1644.98 L733.50,1644.93 L734.50,1644.87 L735.50,1644.82 L736.50,1644.77 L737.50,1644.72 L738.50,1644.67 L739.50,1644.62 L740.50,1644.57 L741.50,1644.52 L742.50,1644.47 L743.50,1644.42 L744.50,1644.38 L745.50,1644.33 L746.50,1644.28 L747.50,1644.24 L748.50,1644.20 L749.50,1644.15 L750.50,1644.11 L751.50,1644.07 L752.50,1644.03 L753.50,1643.99 L754.50,1643.95 L755.50,1643.91 L756.50,1643.87 L757.50,1643.83 L758.50,1643.79 L759.50,1643.76 L760.50,1643.72 L761.50,1643.68 L762.50,1643.65 L763.50,1643.61 L764.50,1643.58 L765.50,1643.55 L766.50,1643.51 L767.50,1643.48 L768.50,1643.45 L769.50,1643.41 L770.50,1643.38 L771.50,1643.35 L772.50,1643.32 L773.50,1643.29 L774.50,1643.26 L775.50,1643.23 L776.50,1643.20 L777.50,1643.18 L778.50,1643.15 L779.50,1643.12 L780.50,1643.09 L781.50,1643.07 L782.50,1643.04 L783.50,1643.01 L784.50,1642.99 L785.50,1642.96 L786.50,1642.94 L787.50,1642.91 L788.50,1642.89 L789.50,1642.87 L790.50,1642.84 L791.50,1642.82 L792.50,1642.80 L793.50,1642.78 L794.50,1642.75 L795.50,1642.73 L796.50,1642.71 L797.50,1642.69 L798.50,1642.67 L799.50,1642.65 L800.50,1642.63 L801.50,1642.61 L802.50,1642.59 L803.50,1642.57 L804.50,1642.55 L805.50,1642.53 L806.50,1642.51 L807.50,1642.50 L808.50,1642.48 L809.50,1642.46 L810.50,1642.44 L811.50,1642.43 L812.50,1642.41 L813.50,1642.39 L814.50,1642.38 L815.50,1642.36 L816.50,1642.34 L817.40,1642.33" fill="none" stroke="#CD4A16" stroke-width="3.35" stroke-linejoin="round" stroke-linecap="butt"/>
<rect x="500.3" y="1613.8" width="317.50" height="514.00" fill="none" stroke="#6e6e6e" stroke-width="1.7"/>
<text transform="translate(479.65,2133.80) scale(1.2200,1)" font-size="15.6" fill="#111" stroke="#111" stroke-width="0.218">0</text>
<text transform="translate(458.48,2076.69) scale(1.2200,1)" font-size="15.6" fill="#111" stroke="#111" stroke-width="0.218">200</text>
<text transform="translate(458.48,2019.58) scale(1.2200,1)" font-size="15.6" fill="#111" stroke="#111" stroke-width="0.218">400</text>
<text transform="translate(458.48,1962.47) scale(1.2200,1)" font-size="15.6" fill="#111" stroke="#111" stroke-width="0.218">600</text>
<text transform="translate(458.48,1905.36) scale(1.2200,1)" font-size="15.6" fill="#111" stroke="#111" stroke-width="0.218">800</text>
<text transform="translate(447.92,1848.24) scale(1.2200,1)" font-size="15.6" fill="#111" stroke="#111" stroke-width="0.218">1000</text>
<text transform="translate(447.92,1791.13) scale(1.2200,1)" font-size="15.6" fill="#111" stroke="#111" stroke-width="0.218">1200</text>
<text transform="translate(447.92,1734.02) scale(1.2200,1)" font-size="15.6" fill="#111" stroke="#111" stroke-width="0.218">1400</text>
<text transform="translate(447.92,1676.91) scale(1.2200,1)" font-size="15.6" fill="#111" stroke="#111" stroke-width="0.218">1600</text>
<text transform="translate(447.92,1619.80) scale(1.2200,1)" font-size="15.6" fill="#111" stroke="#111" stroke-width="0.218">1800</text>
<text transform="translate(494.99,2150.20) scale(1.2200,1)" font-size="15.6" fill="#111" stroke="#111" stroke-width="0.218">0</text>
<text transform="translate(566.45,2150.20) scale(1.2200,1)" font-size="15.6" fill="#111" stroke="#111" stroke-width="0.218">0.5</text>
<text transform="translate(653.51,2150.20) scale(1.2200,1)" font-size="15.6" fill="#111" stroke="#111" stroke-width="0.218">1</text>
<text transform="translate(724.86,2150.20) scale(1.2200,1)" font-size="15.6" fill="#111" stroke="#111" stroke-width="0.218">1.5</text>
<text transform="translate(812.52,2150.20) scale(1.2200,1)" font-size="15.6" fill="#111" stroke="#111" stroke-width="0.218">2</text>
<path d="M500.3,2127.80h7M817.8,2127.80h-7M500.3,2070.69h7M817.8,2070.69h-7M500.3,2013.58h7M817.8,2013.58h-7M500.3,1956.47h7M817.8,1956.47h-7M500.3,1899.36h7M817.8,1899.36h-7M500.3,1842.24h7M817.8,1842.24h-7M500.3,1785.13h7M817.8,1785.13h-7M500.3,1728.02h7M817.8,1728.02h-7M500.3,1670.91h7M817.8,1670.91h-7M500.3,1613.80h7M817.8,1613.80h-7M500.30,2127.8v-5M500.30,1613.8v5M579.67,2127.8v-5M579.67,1613.8v5M659.05,2127.8v-5M659.05,1613.8v5M738.42,2127.8v-5M738.42,1613.8v5M817.80,2127.8v-5M817.80,1613.8v5" stroke="#6e6e6e" stroke-width="1.7" fill="none"/>
<text transform="translate(601.33,1606.80) scale(1.3592,1)" font-size="16" font-weight="bold" fill="#111" stroke="#111" stroke-width="0.256">Middle age</text>
<text transform="translate(435.70,1923.83) rotate(-90) scale(1.0798,1.4081)" font-size="16" fill="#111" stroke="#111" stroke-width="0.224">Fatality count</text>
<text transform="translate(562.88,2173.40) scale(1.3205,1)" font-size="16.3" fill="#111" stroke="#111" stroke-width="0.228">Opinion spread rate</text>
<text transform="translate(599.07,2194.80) scale(1.3205,1)" font-size="16.3" fill="#111" stroke="#111" stroke-width="0.228">in all groups</text>
<path d="M767.50,2168.10l9.5,7.6M777.00,2168.10l-9.5,7.6" stroke="#444" stroke-width="0.9" fill="none"/>
<text transform="translate(780.61,2175.80) scale(1.2364,1)" font-size="15" fill="#111" stroke="#111" stroke-width="0.21">10</text>
<text transform="translate(802.83,2168.30) scale(1.2975,1)" font-size="11.5" fill="#111" stroke="#111" stroke-width="0.161">-9</text>
<rect x="702.2" y="1654.8" width="100.3" height="54.9" fill="#fff" stroke="#666" stroke-width="1.1"/>
<path d="M710.47,1670.05h58.42" stroke="#0065AB" stroke-width="3"/>
<path d="M710.47,1694.75h58.42" stroke="#CD4A16" stroke-width="3"/>
<text transform="translate(776.09,1673.81) scale(1.2288,1)" font-size="13.6" fill="#111" stroke="#111" stroke-width="0.19">y</text>
<text transform="translate(785.21,1679.71) scale(1.3168,1)" font-size="11.6" fill="#111" stroke="#111" stroke-width="0.162">L</text>
<text transform="translate(776.09,1698.72) scale(1.2288,1)" font-size="13.6" fill="#111" stroke="#111" stroke-width="0.19">y</text>
<text transform="translate(785.10,1704.41) scale(1.4390,1)" font-size="11.6" fill="#111" stroke="#111" stroke-width="0.162">H</text>
<path d="M917.80,2121.00 L922.80,2117.30 L928.40,1969.96 L928.45,1963.07 L928.50,1959.04 L928.55,1955.83 L928.60,1953.12 L928.65,1950.75 L928.70,1948.64 L928.75,1946.73 L928.80,1944.99 L928.85,1943.38 L928.90,1941.90 L928.95,1940.51 L929.00,1939.21 L929.05,1937.98 L929.10,1936.83 L929.15,1935.73 L929.20,1934.70 L929.30,1932.76 L929.40,1930.99 L929.50,1929.36 L929.60,1927.84 L929.70,1926.43 L929.80,1925.10 L929.90,1923.86 L930.00,1922.68 L930.10,1921.56 L930.20,1920.50 L930.30,1919.49 L930.45,1918.05 L930.60,1916.70 L930.75,1915.42 L930.90,1914.21 L931.05,1913.06 L931.20,1911.96 L931.35,1910.91 L931.50,1909.91 L931.70,1908.62 L931.90,1907.40 L932.10,1906.23 L932.30,1905.11 L932.50,1904.04 L932.70,1903.00 L932.90,1902.00 L933.15,1900.79 L933.40,1899.64 L933.65,1898.52 L933.90,1897.44 L934.15,1896.40 L934.40,1895.39 L934.65,1894.41 L934.95,1893.27 L935.25,1892.17 L935.55,1891.10 L935.85,1890.07 L936.15,1889.06 L936.45,1888.09 L936.80,1886.98 L937.15,1885.92 L937.50,1884.88 L937.85,1883.87 L938.20,1882.89 L938.55,1881.94 L938.95,1880.89 L939.35,1879.87 L939.75,1878.87 L940.15,1877.91 L940.55,1876.98 L941.00,1875.96 L941.45,1874.97 L941.90,1874.02 L942.35,1873.09 L942.80,1872.19 L943.30,1871.23 L943.80,1870.29 L944.30,1869.39 L944.80,1868.51 L945.35,1867.58 L945.90,1866.68 L946.45,1865.82 L947.00,1864.98 L947.60,1864.09 L948.20,1863.24 L948.80,1862.42 L949.45,1861.56 L950.10,1860.73 L950.75,1859.93 L951.40,1859.16 L952.10,1858.37 L952.80,1857.60 L953.50,1856.86 L954.25,1856.10 L955.00,1855.37 L955.75,1854.67 L956.50,1853.99 L957.30,1853.30 L958.10,1852.63 L958.90,1851.99 L959.90,1851.23 L960.90,1850.50 L961.90,1849.80 L962.90,1849.13 L963.90,1848.50 L964.90,1847.89 L965.90,1847.31 L966.90,1846.75 L967.90,1846.21 L968.90,1845.70 L969.90,1845.21 L970.90,1844.73 L971.90,1844.28 L972.90,1843.84 L973.90,1843.42 L974.90,1843.02 L975.90,1842.63 L976.90,1842.25 L977.90,1841.89 L978.90,1841.54 L979.90,1841.20 L980.90,1840.88 L981.90,1840.56 L982.90,1840.26 L983.90,1839.96 L984.90,1839.68 L985.90,1839.40 L986.90,1839.13 L987.90,1838.87 L988.90,1838.62 L989.90,1838.38 L990.90,1838.14 L991.90,1837.91 L992.90,1837.69 L993.90,1837.47 L994.90,1837.26 L995.90,1837.06 L996.90,1836.86 L997.90,1836.67 L998.90,1836.48 L999.90,1836.30 L1000.90,1836.12 L1001.90,1835.95 L1002.90,1835.78 L1003.90,1835.61 L1004.90,1835.45 L1005.90,1835.30 L1006.90,1835.14 L1007.90,1835.00 L1008.90,1834.85 L1009.90,1834.71 L1010.90,1834.57 L1011.90,1834.44 L1012.90,1834.30 L1013.90,1834.17 L1014.90,1834.05 L1015.90,1833.93 L1016.90,1833.81 L1017.90,1833.69 L1018.90,1833.57 L1019.90,1833.46 L1020.90,1833.35 L1021.90,1833.24 L1022.90,1833.14 L1023.90,1833.03 L1024.90,1832.93 L1025.90,1832.83 L1026.90,1832.74 L1027.90,1832.64 L1028.90,1832.55 L1029.90,1832.46 L1030.90,1832.37 L1031.90,1832.28 L1032.90,1832.19 L1033.90,1832.11 L1034.90,1832.03 L1035.90,1831.94 L1036.90,1831.87 L1037.90,1831.79 L1038.90,1831.71 L1039.90,1831.63 L1040.90,1831.56 L1041.90,1831.49 L1042.90,1831.42 L1043.90,1831.35 L1044.90,1831.28 L1045.90,1831.21 L1046.90,1831.14 L1047.90,1831.08 L1048.90,1831.01 L1049.90,1830.95 L1050.90,1830.89 L1051.90,1830.83 L1052.90,1830.77 L1053.90,1830.71 L1054.90,1830.65 L1055.90,1830.59 L1056.90,1830.53 L1057.90,1830.48 L1058.90,1830.42 L1059.90,1830.37 L1060.90,1830.32 L1061.90,1830.26 L1062.90,1830.21 L1063.90,1830.16 L1064.90,1830.11 L1065.90,1830.06 L1066.90,1830.02 L1067.90,1829.97 L1068.90,1829.92 L1069.90,1829.87 L1070.90,1829.83 L1071.90,1829.78 L1072.90,1829.74 L1073.90,1829.70 L1074.90,1829.65 L1075.90,1829.61 L1076.90,1829.57 L1077.90,1829.53 L1078.90,1829.49 L1079.90,1829.45 L1080.90,1829.41 L1081.90,1829.37 L1082.90,1829.33 L1083.90,1829.29 L1084.90,1829.25 L1085.90,1829.22 L1086.90,1829.18 L1087.90,1829.14 L1088.90,1829.11 L1089.90,1829.07 L1090.90,1829.04 L1091.90,1829.00 L1092.90,1828.97 L1093.90,1828.94 L1094.90,1828.90 L1095.90,1828.87 L1096.90,1828.84 L1097.90,1828.81 L1098.90,1828.78 L1099.90,1828.74 L1100.90,1828.71 L1101.90,1828.68 L1102.90,1828.65 L1103.90,1828.62 L1104.90,1828.60 L1105.90,1828.57 L1106.90,1828.54 L1107.90,1828.51 L1108.90,1828.48 L1109.90,1828.45 L1110.90,1828.43 L1111.90,1828.40 L1112.90,1828.37 L1113.90,1828.35 L1114.90,1828.32 L1115.90,1828.29 L1116.90,1828.27 L1117.90,1828.24 L1118.90,1828.22 L1119.90,1828.19 L1120.90,1828.17 L1121.90,1828.15 L1122.90,1828.12 L1123.90,1828.10 L1124.90,1828.08 L1125.90,1828.05 L1126.90,1828.03 L1127.90,1828.01 L1128.90,1827.98 L1129.90,1827.96 L1130.90,1827.94 L1131.90,1827.92 L1132.90,1827.90 L1133.90,1827.88 L1134.90,1827.85 L1135.90,1827.83 L1136.90,1827.81 L1137.90,1827.79 L1138.90,1827.77 L1139.90,1827.75 L1140.90,1827.73 L1141.90,1827.71 L1142.90,1827.69 L1143.90,1827.67 L1144.90,1827.65 L1145.90,1827.64 L1146.90,1827.62 L1147.90,1827.60 L1148.90,1827.58 L1149.90,1827.56 L1150.90,1827.54 L1151.90,1827.53 L1152.90,1827.51 L1153.90,1827.49 L1154.90,1827.47 L1155.90,1827.46 L1156.90,1827.44 L1157.90,1827.42 L1158.90,1827.41 L1159.90,1827.39 L1160.90,1827.37 L1161.90,1827.36 L1162.90,1827.34 L1163.90,1827.32 L1164.90,1827.31 L1165.90,1827.29 L1166.90,1827.28 L1167.90,1827.26 L1168.90,1827.25 L1169.90,1827.23 L1170.90,1827.22 L1171.90,1827.20 L1172.90,1827.19 L1173.90,1827.17 L1174.90,1827.16 L1175.90,1827.14 L1176.90,1827.13 L1177.90,1827.11 L1178.90,1827.10 L1179.90,1827.09 L1180.90,1827.07 L1181.90,1827.06 L1182.90,1827.04 L1183.90,1827.03 L1184.90,1827.02 L1185.90,1827.00 L1186.90,1826.99 L1187.90,1826.98 L1188.90,1826.97 L1189.90,1826.95 L1190.90,1826.94 L1191.90,1826.93 L1192.90,1826.91 L1193.90,1826.90 L1194.90,1826.89 L1195.90,1826.88 L1196.90,1826.87 L1197.90,1826.85 L1198.90,1826.84 L1199.90,1826.83 L1200.90,1826.82 L1201.90,1826.81 L1202.90,1826.79 L1203.90,1826.78 L1204.90,1826.77 L1205.90,1826.76 L1206.90,1826.75 L1207.90,1826.74 L1208.90,1826.73 L1209.90,1826.72 L1210.90,1826.70 L1211.90,1826.69 L1212.90,1826.68 L1213.90,1826.67 L1214.90,1826.66 L1215.90,1826.65 L1216.90,1826.64 L1217.90,1826.63 L1218.90,1826.62 L1219.90,1826.61 L1220.90,1826.60 L1221.90,1826.59 L1222.90,1826.58 L1223.90,1826.57 L1224.90,1826.56 L1225.90,1826.55 L1226.90,1826.54 L1227.90,1826.53 L1228.90,1826.52 L1229.90,1826.51 L1230.90,1826.50 L1231.90,1826.49 L1232.90,1826.48 L1233.90,1826.47 L1234.70,1826.47" fill="none" stroke="#0065AB" stroke-width="3.35" stroke-linejoin="round" stroke-linecap="butt"/>
<path d="M918.10,1917.70 L918.25,1916.56 L918.40,1915.44 L918.55,1914.32 L918.70,1913.21 L918.85,1912.10 L919.00,1911.00 L919.15,1909.91 L919.30,1908.82 L919.45,1907.75 L919.60,1906.67 L919.75,1905.61 L919.90,1904.55 L920.05,1903.50 L920.20,1902.45 L920.35,1901.41 L920.50,1900.38 L920.65,1899.35 L920.80,1898.33 L920.95,1897.32 L921.10,1896.31 L921.25,1895.31 L921.40,1894.31 L921.55,1893.32 L921.75,1892.01 L921.95,1890.71 L922.15,1889.42 L922.35,1888.14 L922.55,1886.87 L922.75,1885.61 L922.95,1884.37 L923.15,1883.13 L923.35,1881.90 L923.55,1880.68 L923.75,1879.47 L923.95,1878.27 L924.15,1877.08 L924.35,1875.89 L924.55,1874.72 L924.75,1873.56 L924.95,1872.40 L925.15,1871.26 L925.35,1870.12 L925.55,1869.00 L925.75,1867.88 L925.95,1866.77 L926.15,1865.66 L926.35,1864.57 L926.55,1863.49 L926.75,1862.41 L926.95,1861.34 L927.15,1860.28 L927.35,1859.23 L927.55,1858.18 L927.75,1857.15 L927.95,1856.12 L928.15,1855.10 L928.35,1854.09 L928.55,1853.08 L928.75,1852.08 L928.95,1851.09 L929.15,1850.11 L929.40,1848.89 L929.65,1847.68 L929.90,1846.48 L930.15,1845.30 L930.40,1844.12 L930.65,1842.96 L930.90,1841.81 L931.15,1840.66 L931.40,1839.53 L931.65,1838.41 L931.90,1837.30 L932.15,1836.20 L932.40,1835.10 L932.65,1834.02 L932.90,1832.95 L933.15,1831.89 L933.40,1830.83 L933.65,1829.79 L933.90,1828.75 L934.15,1827.73 L934.40,1826.71 L934.65,1825.70 L934.90,1824.70 L935.15,1823.71 L935.40,1822.73 L935.65,1821.75 L935.95,1820.60 L936.25,1819.45 L936.55,1818.32 L936.85,1817.19 L937.15,1816.08 L937.45,1814.98 L937.75,1813.89 L938.05,1812.82 L938.35,1811.75 L938.65,1810.69 L938.95,1809.65 L939.25,1808.61 L939.55,1807.59 L939.85,1806.57 L940.15,1805.57 L940.45,1804.57 L940.75,1803.59 L941.05,1802.61 L941.35,1801.65 L941.65,1800.69 L942.00,1799.58 L942.35,1798.49 L942.70,1797.41 L943.05,1796.34 L943.40,1795.29 L943.75,1794.24 L944.10,1793.21 L944.45,1792.19 L944.80,1791.17 L945.15,1790.17 L945.50,1789.18 L945.85,1788.21 L946.20,1787.24 L946.55,1786.28 L946.90,1785.33 L947.25,1784.39 L947.65,1783.33 L948.05,1782.28 L948.60,1780.86 L949.10,1779.59 L949.60,1778.34 L950.10,1777.11 L950.60,1775.89 L951.10,1774.69 L951.60,1773.51 L952.10,1772.35 L952.60,1771.20 L953.10,1770.07 L953.60,1768.95 L954.10,1767.85 L954.60,1766.76 L955.10,1765.69 L955.60,1764.64 L956.10,1763.60 L956.60,1762.57 L957.10,1761.55 L957.60,1760.55 L958.10,1759.57 L958.60,1758.59 L959.10,1757.63 L959.60,1756.68 L960.10,1755.75 L960.60,1754.82 L961.10,1753.91 L961.60,1753.01 L962.10,1752.12 L962.60,1751.25 L963.10,1750.38 L964.10,1748.68 L965.10,1747.02 L966.10,1745.40 L967.10,1743.83 L968.10,1742.28 L969.10,1740.78 L970.10,1739.31 L971.10,1737.88 L972.10,1736.48 L973.10,1735.11 L974.10,1733.77 L975.10,1732.47 L976.10,1731.19 L977.10,1729.94 L978.10,1728.72 L979.10,1727.52 L980.10,1726.35 L981.10,1725.21 L982.10,1724.09 L983.10,1723.00 L984.10,1721.92 L985.10,1720.87 L986.10,1719.85 L987.10,1718.84 L988.10,1717.85 L989.10,1716.89 L990.10,1715.94 L991.10,1715.02 L992.10,1714.11 L993.10,1713.22 L994.10,1712.35 L995.10,1711.50 L996.10,1710.66 L997.10,1709.84 L998.10,1709.03 L999.10,1708.24 L1000.10,1707.47 L1001.10,1706.71 L1002.10,1705.97 L1003.10,1705.24 L1004.10,1704.52 L1005.10,1703.82 L1006.10,1703.13 L1007.10,1702.46 L1008.10,1701.80 L1009.10,1701.15 L1010.10,1700.51 L1011.10,1699.88 L1012.10,1699.27 L1013.10,1698.67 L1014.10,1698.07 L1015.10,1697.49 L1016.10,1696.92 L1017.10,1696.36 L1018.10,1695.82 L1019.10,1695.28 L1020.10,1694.75 L1021.10,1694.23 L1022.10,1693.72 L1023.10,1693.22 L1024.10,1692.73 L1025.10,1692.24 L1026.10,1691.77 L1027.10,1691.31 L1028.10,1690.85 L1029.10,1690.40 L1030.10,1689.96 L1031.10,1689.53 L1032.10,1689.10 L1033.10,1688.69 L1034.10,1688.28 L1035.10,1687.88 L1036.10,1687.48 L1037.10,1687.09 L1038.10,1686.71 L1039.10,1686.34 L1040.10,1685.97 L1041.10,1685.61 L1042.10,1685.26 L1043.10,1684.91 L1044.10,1684.57 L1045.10,1684.23 L1046.10,1683.90 L1047.10,1683.58 L1048.10,1683.26 L1049.10,1682.95 L1050.10,1682.64 L1051.10,1682.34 L1052.10,1682.04 L1053.10,1681.75 L1054.10,1681.47 L1055.10,1681.18 L1056.10,1680.91 L1057.10,1680.64 L1058.10,1680.37 L1059.10,1680.11 L1060.10,1679.85 L1061.10,1679.60 L1062.10,1679.35 L1063.10,1679.11 L1064.10,1678.87 L1065.10,1678.63 L1066.10,1678.40 L1067.10,1678.18 L1068.10,1677.95 L1069.10,1677.74 L1070.10,1677.52 L1071.10,1677.31 L1072.10,1677.10 L1073.10,1676.90 L1074.10,1676.70 L1075.10,1676.50 L1076.10,1676.31 L1077.10,1676.12 L1078.10,1675.93 L1079.10,1675.75 L1080.10,1675.57 L1081.10,1675.39 L1082.10,1675.21 L1083.10,1675.04 L1084.10,1674.88 L1085.10,1674.71 L1086.10,1674.55 L1087.10,1674.39 L1088.10,1674.23 L1089.10,1674.08 L1090.10,1673.93 L1091.10,1673.78 L1092.10,1673.63 L1093.10,1673.49 L1094.10,1673.35 L1095.10,1673.21 L1096.10,1673.08 L1097.10,1672.94 L1098.10,1672.81 L1099.10,1672.68 L1100.10,1672.56 L1101.10,1672.43 L1102.10,1672.31 L1103.10,1672.19 L1104.10,1672.07 L1105.10,1671.95 L1106.10,1671.84 L1107.10,1671.73 L1108.10,1671.62 L1109.10,1671.51 L1110.10,1671.40 L1111.10,1671.30 L1112.10,1671.20 L1113.10,1671.10 L1114.10,1671.00 L1115.10,1670.90 L1116.10,1670.81 L1117.10,1670.71 L1118.10,1670.62 L1119.10,1670.53 L1120.10,1670.44 L1121.10,1670.35 L1122.10,1670.27 L1123.10,1670.18 L1124.10,1670.10 L1125.10,1670.02 L1126.10,1669.94 L1127.10,1669.86 L1128.10,1669.78 L1129.10,1669.70 L1130.10,1669.63 L1131.10,1669.56 L1132.10,1669.48 L1133.10,1669.41 L1134.10,1669.34 L1135.10,1669.28 L1136.10,1669.21 L1137.10,1669.14 L1138.10,1669.08 L1139.10,1669.01 L1140.10,1668.95 L1141.10,1668.89 L1142.10,1668.83 L1143.10,1668.77 L1144.10,1668.71 L1145.10,1668.65 L1146.10,1668.60 L1147.10,1668.54 L1148.10,1668.49 L1149.10,1668.44 L1150.10,1668.38 L1151.10,1668.33 L1152.10,1668.28 L1153.10,1668.23 L1154.10,1668.18 L1155.10,1668.13 L1156.10,1668.09 L1157.10,1668.04 L1158.10,1667.99 L1159.10,1667.95 L1160.10,1667.91 L1161.10,1667.86 L1162.10,1667.82 L1163.10,1667.78 L1164.10,1667.74 L1165.10,1667.70 L1166.10,1667.66 L1167.10,1667.62 L1168.10,1667.58 L1169.10,1667.54 L1170.10,1667.51 L1171.10,1667.47 L1172.10,1667.43 L1173.10,1667.40 L1174.10,1667.36 L1175.10,1667.33 L1176.10,1667.30 L1177.10,1667.26 L1178.10,1667.23 L1179.10,1667.20 L1180.10,1667.17 L1181.10,1667.14 L1182.10,1667.11 L1183.10,1667.08 L1184.10,1667.05 L1185.10,1667.02 L1186.10,1666.99 L1187.10,1666.97 L1188.10,1666.94 L1189.10,1666.91 L1190.10,1666.89 L1191.10,1666.86 L1192.10,1666.84 L1193.10,1666.81 L1194.10,1666.79 L1195.10,1666.76 L1196.10,1666.74 L1197.10,1666.72 L1198.10,1666.70 L1199.10,1666.67 L1200.10,1666.65 L1201.10,1666.63 L1202.10,1666.61 L1203.10,1666.59 L1204.10,1666.57 L1205.10,1666.55 L1206.10,1666.53 L1207.10,1666.51 L1208.10,1666.49 L1209.10,1666.47 L1210.10,1666.45 L1211.10,1666.44 L1212.10,1666.42 L1213.10,1666.40 L1214.10,1666.38 L1215.10,1666.37 L1216.10,1666.35 L1217.10,1666.33 L1218.10,1666.32 L1219.10,1666.30 L1220.10,1666.29 L1221.10,1666.27 L1222.10,1666.26 L1223.10,1666.24 L1224.10,1666.23 L1225.10,1666.21 L1226.10,1666.20 L1227.10,1666.19 L1228.10,1666.17 L1229.10,1666.16 L1230.10,1666.15 L1231.10,1666.14 L1232.10,1666.12 L1233.10,1666.11 L1234.10,1666.10 L1234.70,1666.09" fill="none" stroke="#CD4A16" stroke-width="3.35" stroke-linejoin="round" stroke-linecap="butt"/>
<rect x="918" y="1613.8" width="317.50" height="514.00" fill="none" stroke="#6e6e6e" stroke-width="1.7"/>
<text transform="translate(899.15,2133.80) scale(1.2200,1)" font-size="15.6" fill="#111" stroke="#111" stroke-width="0.218">0</text>
<text transform="translate(883.31,2031.00) scale(1.2200,1)" font-size="15.6" fill="#111" stroke="#111" stroke-width="0.218">0.5</text>
<text transform="translate(899.34,1928.20) scale(1.2200,1)" font-size="15.6" fill="#111" stroke="#111" stroke-width="0.218">1</text>
<text transform="translate(883.31,1825.40) scale(1.2200,1)" font-size="15.6" fill="#111" stroke="#111" stroke-width="0.218">1.5</text>
<text transform="translate(899.39,1722.60) scale(1.2200,1)" font-size="15.6" fill="#111" stroke="#111" stroke-width="0.218">2</text>
<text transform="translate(883.31,1619.80) scale(1.2200,1)" font-size="15.6" fill="#111" stroke="#111" stroke-width="0.218">2.5</text>
<text transform="translate(912.69,2150.20) scale(1.2200,1)" font-size="15.6" fill="#111" stroke="#111" stroke-width="0.218">0</text>
<text transform="translate(984.15,2150.20) scale(1.2200,1)" font-size="15.6" fill="#111" stroke="#111" stroke-width="0.218">0.5</text>
<text transform="translate(1071.21,2150.20) scale(1.2200,1)" font-size="15.6" fill="#111" stroke="#111" stroke-width="0.218">1</text>
<text transform="translate(1142.56,2150.20) scale(1.2200,1)" font-size="15.6" fill="#111" stroke="#111" stroke-width="0.218">1.5</text>
<text transform="translate(1230.22,2150.20) scale(1.2200,1)" font-size="15.6" fill="#111" stroke="#111" stroke-width="0.218">2</text>
<path d="M918,2127.80h7M1235.5,2127.80h-7M918,2025.00h7M1235.5,2025.00h-7M918,1922.20h7M1235.5,1922.20h-7M918,1819.40h7M1235.5,1819.40h-7M918,1716.60h7M1235.5,1716.60h-7M918,1613.80h7M1235.5,1613.80h-7M918.00,2127.8v-5M918.00,1613.8v5M997.38,2127.8v-5M997.38,1613.8v5M1076.75,2127.8v-5M1076.75,1613.8v5M1156.12,2127.8v-5M1156.12,1613.8v5M1235.50,2127.8v-5M1235.50,1613.8v5" stroke="#6e6e6e" stroke-width="1.7" fill="none"/>
<text transform="translate(1042.14,1607.00) scale(1.3399,1)" font-size="16" font-weight="bold" fill="#111" stroke="#111" stroke-width="0.256">Oldest</text>
<text transform="translate(870.50,1923.52) rotate(-90) scale(1.0766,1.4444)" font-size="16" fill="#111" stroke="#111" stroke-width="0.224">Fatality count</text>
<text transform="translate(980.58,2173.40) scale(1.3205,1)" font-size="16.3" fill="#111" stroke="#111" stroke-width="0.228">Opinion spread rate</text>
<text transform="translate(1016.77,2194.80) scale(1.3205,1)" font-size="16.3" fill="#111" stroke="#111" stroke-width="0.228">in all groups</text>
<path d="M1185.20,2168.10l9.5,7.6M1194.70,2168.10l-9.5,7.6" stroke="#444" stroke-width="0.9" fill="none"/>
<text transform="translate(1198.31,2175.80) scale(1.2364,1)" font-size="15" fill="#111" stroke="#111" stroke-width="0.21">10</text>
<text transform="translate(1220.53,2168.30) scale(1.2975,1)" font-size="11.5" fill="#111" stroke="#111" stroke-width="0.161">-9</text>
<rect x="1120.5" y="1688.9" width="100.3" height="55.3" fill="#fff" stroke="#666" stroke-width="1.1"/>
<path d="M1128.77,1704.26h58.42" stroke="#0065AB" stroke-width="3"/>
<path d="M1128.77,1729.15h58.42" stroke="#CD4A16" stroke-width="3"/>
<text transform="translate(1194.39,1708.05) scale(1.2288,1)" font-size="13.6" fill="#111" stroke="#111" stroke-width="0.19">y</text>
<text transform="translate(1203.51,1713.99) scale(1.3168,1)" font-size="11.6" fill="#111" stroke="#111" stroke-width="0.162">L</text>
<text transform="translate(1194.39,1733.14) scale(1.2288,1)" font-size="13.6" fill="#111" stroke="#111" stroke-width="0.19">y</text>
<text transform="translate(1203.40,1738.87) scale(1.4390,1)" font-size="11.6" fill="#111" stroke="#111" stroke-width="0.162">H</text>
<path d="M920.50,1601.50l9.5,7.6M930.00,1601.50l-9.5,7.6" stroke="#444" stroke-width="0.9" fill="none"/>
<text transform="translate(933.53,1609.50) scale(1.3033,1)" font-size="15" fill="#111" stroke="#111" stroke-width="0.21">10</text>
<text transform="translate(957.19,1600.60) scale(1.2053,1)" font-size="11.5" fill="#111" stroke="#111" stroke-width="0.161">4</text>
</svg></body></html>
